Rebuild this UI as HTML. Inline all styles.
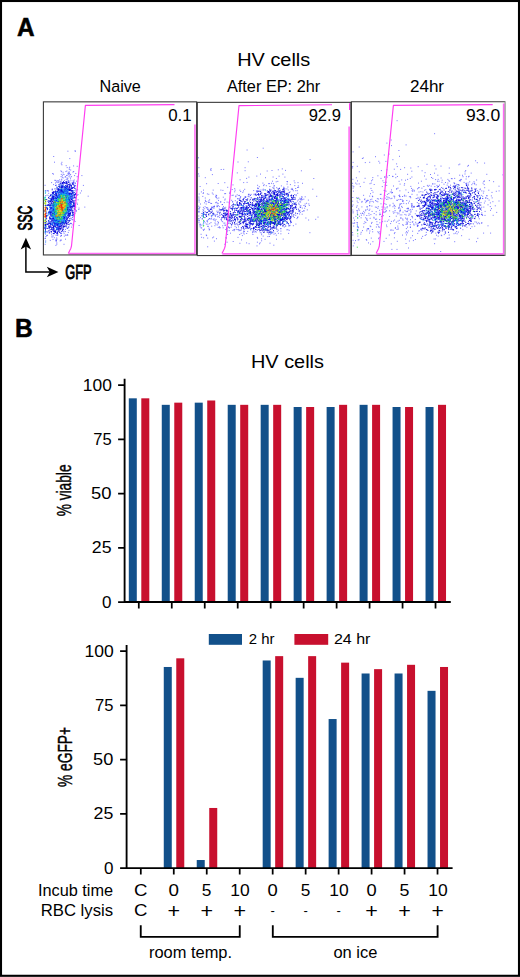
<!DOCTYPE html>
<html lang="en"><head><meta charset="utf-8"><title>Figure</title>
<style>
html,body{margin:0;padding:0;background:#fff;}
body{width:520px;height:977px;overflow:hidden;}
svg{display:block;font-family:"Liberation Sans", sans-serif;fill:#000;}
</style></head><body>
<svg width="520" height="977" viewBox="0 0 520 977">
<rect x="0" y="0" width="520" height="977" fill="#fff"/>
<rect x="1" y="1" width="518" height="974.8" fill="none" stroke="#000" stroke-width="2.1"/>

<text id="A" x="16.98" y="35.80" font-size="25.60" textLength="17.56" lengthAdjust="spacingAndGlyphs" font-weight="bold" stroke="#000" stroke-width="0.55">A</text>
<text id="B" x="15.04" y="337.20" font-size="25.60" textLength="17.75" lengthAdjust="spacingAndGlyphs" font-weight="bold" stroke="#000" stroke-width="0.55">B</text>
<text id="HVa" x="237.23" y="65.75" font-size="19.20" textLength="73.01" lengthAdjust="spacingAndGlyphs">HV cells</text>
<text id="Naive" x="99.45" y="91.75" font-size="16.30" textLength="41.41" lengthAdjust="spacingAndGlyphs">Naive</text>
<text id="After" x="226.94" y="91.75" font-size="16.30" textLength="93.31" lengthAdjust="spacingAndGlyphs">After EP: 2hr</text>
<text id="h24" x="409.90" y="91.75" font-size="16.30" textLength="34.17" lengthAdjust="spacingAndGlyphs">24hr</text>
<text id="p1" x="168.18" y="121.25" font-size="15.90" textLength="23.48" lengthAdjust="spacingAndGlyphs">0.1</text>
<text id="p2" x="308.66" y="121.25" font-size="15.90" textLength="32.26" lengthAdjust="spacingAndGlyphs">92.9</text>
<text id="p3" x="466.12" y="121.25" font-size="15.90" textLength="34.10" lengthAdjust="spacingAndGlyphs">93.0</text>
<text id="HVb" x="250.98" y="367.50" font-size="19.20" textLength="73.01" lengthAdjust="spacingAndGlyphs">HV cells</text>
<text id="l2" x="248.75" y="644.40" font-size="15.40" textLength="25.76" lengthAdjust="spacingAndGlyphs">2 hr</text>
<text id="l24" x="333.95" y="644.40" font-size="15.40" textLength="36.46" lengthAdjust="spacingAndGlyphs">24 hr</text>
<text id="incub" x="37.94" y="895.75" font-size="16.30" textLength="75.20" lengthAdjust="spacingAndGlyphs">Incub time</text>
<text id="rbc" x="40.66" y="915.75" font-size="16.30" textLength="72.44" lengthAdjust="spacingAndGlyphs">RBC lysis</text>
<text id="room" x="148.93" y="957.70" font-size="15.80" textLength="83.11" lengthAdjust="spacingAndGlyphs">room temp.</text>
<text id="ice" x="333.41" y="957.70" font-size="15.80" textLength="43.95" lengthAdjust="spacingAndGlyphs">on ice</text>
<g stroke-width="1.0" fill="none"><path d="M66.4 178.0h1.0M55.8 185.1h1.0M62.3 231.2h1.0M55.2 185.5h1.0M68.8 169.6h1.0M75.1 189.2h1.0M51.4 236.1h1.0M66.6 181.3h1.0M63.8 236.1h1.0M75.3 207.1h1.0M63.3 232.0h1.0M74.9 183.0h1.0M65.0 231.6h1.0M47.0 235.3h1.0M69.1 224.0h1.0M48.9 232.1h1.0M63.5 231.2h1.0M71.6 182.7h1.0M45.5 231.6h1.0M72.9 214.8h1.0M70.1 223.3h1.0M48.6 232.9h1.0M75.9 210.7h1.0M55.6 239.4h1.0M46.2 235.6h1.0M55.1 240.8h1.0M59.2 179.8h1.0M55.5 235.2h1.0M48.4 195.8h1.0M60.2 240.1h1.0M49.2 233.2h1.0M56.4 239.1h1.0M45.4 236.5h1.0M60.2 232.4h1.0M73.9 220.7h1.0M69.6 177.2h1.0M63.9 180.4h1.0M74.1 186.2h1.0M72.4 182.5h1.0M75.6 192.8h1.0M74.4 213.4h1.0M72.9 181.7h1.0M75.9 196.4h1.0M70.3 223.5h1.0M72.7 216.8h1.0M67.8 227.8h1.0M66.2 227.1h1.0M45.2 195.6h1.0M56.0 241.1h1.0M69.2 167.2h1.0M72.0 217.5h1.0M65.0 229.4h1.0M74.7 185.9h1.0M53.8 237.7h1.0M74.6 221.5h1.0M77.5 194.6h1.0M61.9 175.7h1.0M77.0 204.3h1.0M74.7 183.6h1.0M66.2 175.6h1.0M44.7 233.2h1.0M60.5 233.6h1.0M55.0 183.0h1.0M73.8 180.0h1.0M53.3 233.7h1.0M76.7 195.2h1.0M55.4 245.4h1.0M69.4 175.1h1.0M70.0 178.8h1.0M72.5 215.5h1.0M51.6 237.2h1.0M67.8 232.4h1.0M67.0 228.3h1.0M74.9 190.9h1.0M51.1 234.2h1.0M78.5 208.1h1.0M67.4 178.2h1.0M56.2 237.9h1.0M74.5 188.4h1.0M68.3 226.9h1.0M58.3 182.3h1.0M71.0 176.7h1.0M66.6 175.3h1.0M60.1 233.3h1.0M77.6 199.8h1.0M72.7 180.7h1.0M46.7 232.3h1.0M49.2 232.3h1.0M60.0 236.2h1.0M71.8 219.8h1.0M58.0 181.0h1.0M76.0 196.6h1.0M67.7 180.4h1.0M55.1 185.4h1.0M47.9 191.1h1.0M73.2 184.3h1.0M56.6 235.2h1.0M66.7 228.5h1.0M73.1 182.7h1.0M74.5 188.4h1.0M72.9 183.0h1.0M64.9 176.6h1.0M53.4 233.4h1.0M62.7 177.9h1.0M78.6 225.5h1.0M57.3 180.8h1.0M61.1 233.4h1.0M67.0 179.2h1.0M64.7 177.2h1.0M69.1 224.8h1.0M49.8 240.4h1.0M66.4 171.0h1.0M55.2 180.4h1.0M60.8 174.4h1.0M77.1 189.7h1.0M56.3 242.9h1.0M76.1 195.2h1.0M70.4 180.8h1.0M76.2 181.2h1.0M61.4 164.8h1.0M81.0 190.9h1.0M73.4 215.9h1.0M55.9 182.1h1.0M60.6 176.6h1.0M53.1 184.6h1.0M61.2 180.1h1.0M76.5 203.1h1.0M47.4 190.6h1.0M63.5 244.3h1.0M65.2 235.1h1.0M68.2 227.0h1.0M63.6 233.7h1.0M74.6 150.7h1.0M68.5 172.8h1.0M72.5 172.1h1.0M87.7 196.2h1.0M48.2 193.3h1.0M75.2 210.1h1.0M45.2 240.9h1.0M67.1 234.7h1.0M56.4 181.1h1.0M62.6 174.1h1.0M76.1 190.1h1.0M68.4 180.8h1.0M53.2 156.5h1.0M65.4 171.6h1.0M73.5 219.3h1.0M69.0 173.7h1.0M53.0 174.1h1.0M52.7 236.0h1.0M65.7 235.2h1.0M44.9 231.9h1.0M59.5 181.3h1.0M81.4 175.6h1.0M73.1 165.9h1.0M73.8 182.1h1.0M52.1 173.6h1.0M73.2 171.5h1.0M65.7 179.6h1.0M61.4 162.3h1.0M52.5 239.4h1.0M46.6 231.6h1.0M67.4 151.2h1.0M67.4 173.3h1.0M69.3 158.6h1.0M84.3 207.1h1.0M65.0 239.2h1.0M52.0 189.2h1.0M61.1 171.7h1.0M68.5 230.4h1.0M75.1 185.6h1.0M44.6 238.6h1.0M76.7 166.3h1.0M57.3 182.6h1.0M46.7 190.8h1.0M59.7 240.9h1.0M51.7 190.0h1.0M66.7 167.6h1.0M70.1 174.4h1.0M78.3 209.5h1.0M70.2 170.0h1.0M68.5 176.3h1.0M68.8 168.1h1.0M68.1 173.2h1.0M51.6 189.2h1.0M67.8 174.6h1.0M60.8 163.8h1.0M45.2 190.6h1.0M68.6 171.8h1.0M79.9 193.0h1.0M67.2 235.3h1.0M71.6 219.4h1.0M71.1 223.4h1.0M54.0 162.2h1.0M60.8 235.8h1.0M56.3 244.2h1.0M82.9 185.4h1.0M54.3 180.3h1.0M60.8 240.1h1.0M57.4 234.9h1.0M71.1 227.1h1.0M74.1 175.6h1.0M51.1 182.6h1.0M75.6 211.6h1.0M46.7 195.2h1.0M63.5 174.6h1.0M60.4 170.9h1.0M55.9 240.5h1.0M74.8 151.4h1.0M71.7 224.9h1.0M62.6 172.3h1.0M44.7 244.3h1.0M75.3 173.5h1.0M61.8 177.3h1.0M76.7 176.7h1.0M56.9 235.0h1.0M65.7 165.7h1.0M61.2 179.2h1.0M61.0 235.4h1.0M44.6 232.4h1.0M44.9 238.2h1.0M44.6 185.3h1.0" stroke="#2020ff" stroke-opacity="0.6"/><path d="M57.1 200.8h1.0M67.6 210.2h1.0M64.5 208.2h1.0M62.9 191.5h1.0M60.4 183.9h1.0M65.7 186.1h1.0M66.4 193.5h1.0M63.4 189.3h1.0M53.0 218.4h1.0M65.5 208.5h1.0M48.2 220.6h1.0M73.4 203.2h1.0M52.0 214.4h1.0M65.0 206.4h1.0M64.5 207.8h1.0M52.5 222.9h1.0M63.8 219.5h1.0M61.0 191.2h1.0M60.2 222.9h1.0M69.6 207.0h1.0M60.6 202.2h1.0M67.4 205.2h1.0M66.9 193.3h1.0M57.1 202.7h1.0M72.0 212.8h1.0M61.2 216.3h1.0M50.7 203.1h1.0M72.3 184.5h1.0M70.6 188.8h1.0M64.2 223.9h1.0M56.2 204.2h1.0M54.3 219.2h1.0M56.2 198.4h1.0M61.2 190.6h1.0M51.8 225.3h1.0M66.1 196.0h1.0M48.5 221.3h1.0M70.5 188.6h1.0M65.7 199.6h1.0M58.1 193.0h1.0M57.1 214.2h1.0M70.4 193.2h1.0M62.9 218.4h1.0M69.5 194.6h1.0M63.7 214.5h1.0M55.8 191.9h1.0M52.8 215.3h1.0M55.7 195.4h1.0M68.9 189.5h1.0M60.7 195.2h1.0M59.5 194.8h1.0M61.4 212.1h1.0M46.8 228.5h1.0M57.4 217.5h1.0M67.8 205.9h1.0M49.4 203.9h1.0M52.8 196.6h1.0M59.8 192.7h1.0M60.4 208.0h1.0M68.8 201.4h1.0M62.7 229.4h1.0M45.9 207.8h1.0M54.9 206.8h1.0M60.8 204.2h1.0M58.6 221.6h1.0M68.8 209.8h1.0M58.7 225.6h1.0M64.9 189.0h1.0M68.3 199.1h1.0M66.4 199.6h1.0M54.1 224.4h1.0M63.8 200.9h1.0M55.6 206.0h1.0M69.8 215.8h1.0M65.9 196.1h1.0M51.8 220.7h1.0M65.2 222.2h1.0M62.8 211.3h1.0M53.3 229.5h1.0M55.7 198.7h1.0M61.6 204.0h1.0M68.9 216.1h1.0M68.4 188.9h1.0M59.9 183.2h1.0M52.4 203.2h1.0M70.5 218.2h1.0M64.4 194.1h1.0M57.6 190.5h1.0M57.2 216.3h1.0M62.5 186.5h1.0M67.4 204.8h1.0M68.1 198.1h1.0M49.3 209.9h1.0M54.3 222.2h1.0M52.1 224.6h1.0M51.5 206.8h1.0M70.6 194.9h1.0M54.2 209.7h1.0M58.2 206.1h1.0M57.5 193.8h1.0M65.9 190.1h1.0M55.2 216.4h1.0M58.3 211.6h1.0M53.0 213.3h1.0M66.5 186.8h1.0M49.1 217.8h1.0M60.5 194.0h1.0M54.9 213.0h1.0M54.3 210.9h1.0M55.2 190.9h1.0M52.9 228.2h1.0M49.0 227.7h1.0M60.7 188.2h1.0M69.1 193.4h1.0M63.6 191.1h1.0M45.2 219.0h1.0M53.9 201.9h1.0M71.3 198.5h1.0M53.8 194.7h1.0M60.6 206.4h1.0M67.7 209.0h1.0M63.0 198.7h1.0M58.9 199.4h1.0M55.5 205.2h1.0M58.2 214.2h1.0M58.3 197.8h1.0M58.7 204.0h1.0M65.7 192.1h1.0M62.0 191.3h1.0M50.9 201.0h1.0M56.9 201.8h1.0M50.3 211.3h1.0M60.5 213.1h1.0M61.9 211.3h1.0M61.6 199.7h1.0M60.9 215.4h1.0M65.1 215.4h1.0M70.9 191.2h1.0M48.0 202.0h1.0M51.7 209.5h1.0M61.8 191.8h1.0M69.0 213.3h1.0M55.0 225.5h1.0M55.0 202.8h1.0M53.4 217.7h1.0M64.8 208.0h1.0M64.5 215.8h1.0M57.9 211.6h1.0M69.3 189.7h1.0M64.5 187.6h1.0M62.7 200.6h1.0M44.9 211.9h1.0M67.4 217.9h1.0M58.7 220.9h1.0M68.0 220.8h1.0M68.6 209.4h1.0M65.6 206.4h1.0M49.4 217.1h1.0M65.6 197.6h1.0M55.0 197.7h1.0M56.1 218.9h1.0M52.4 218.6h1.0M66.7 200.5h1.0M54.4 217.0h1.0M55.0 211.4h1.0M58.8 186.5h1.0M54.6 213.9h1.0M60.7 187.7h1.0M57.0 218.2h1.0M69.2 218.8h1.0M55.9 214.4h1.0M70.9 185.4h1.0M68.4 188.8h1.0M65.8 212.1h1.0M54.3 230.1h1.0M62.1 185.6h1.0M62.2 193.0h1.0M50.1 205.3h1.0M66.2 188.3h1.0M60.1 223.6h1.0M70.6 202.0h1.0M60.6 206.8h1.0M62.3 204.3h1.0M62.5 194.6h1.0M52.8 233.4h1.0M52.6 213.9h1.0M57.8 207.6h1.0M45.6 221.5h1.0M60.3 199.1h1.0M47.9 221.0h1.0M65.8 200.7h1.0M53.0 193.8h1.0M54.2 201.0h1.0M64.9 200.7h1.0M68.1 213.5h1.0M53.4 202.9h1.0M58.5 197.5h1.0M67.1 194.3h1.0M52.6 197.1h1.0M58.9 222.2h1.0M73.9 194.5h1.0M54.1 206.8h1.0M65.0 187.6h1.0M57.3 205.4h1.0M66.0 208.6h1.0M62.3 201.9h1.0M59.0 194.9h1.0M51.4 198.9h1.0M63.5 190.4h1.0M64.3 186.6h1.0M61.1 217.4h1.0M56.4 205.2h1.0M57.1 224.3h1.0M54.4 220.0h1.0M74.3 209.5h1.0M54.2 220.5h1.0M65.1 187.2h1.0M58.1 223.0h1.0M52.3 215.1h1.0M68.9 220.6h1.0M69.6 212.0h1.0M63.2 213.9h1.0M53.0 213.4h1.0M52.9 230.2h1.0M59.0 216.1h1.0M68.6 211.0h1.0M70.7 194.1h1.0M63.7 211.8h1.0M51.4 198.3h1.0M61.5 218.8h1.0M55.0 218.6h1.0M49.6 218.9h1.0M53.5 220.1h1.0M71.1 196.9h1.0M54.3 204.4h1.0M54.6 220.4h1.0M64.8 200.7h1.0M68.0 204.3h1.0M59.9 222.1h1.0M56.4 216.2h1.0M62.2 183.7h1.0M62.7 216.3h1.0M58.0 215.8h1.0M66.4 208.2h1.0M69.3 197.2h1.0M55.6 194.7h1.0M63.5 208.0h1.0M57.4 219.5h1.0M60.8 204.5h1.0M54.9 211.5h1.0M61.7 212.2h1.0M72.8 205.8h1.0M68.9 214.4h1.0M52.3 201.5h1.0M49.9 201.5h1.0M52.4 208.4h1.0M61.0 185.9h1.0M62.5 182.8h1.0M50.0 224.0h1.0M51.5 212.8h1.0M58.1 210.4h1.0M56.0 227.8h1.0M55.3 207.4h1.0M44.6 224.3h1.0M57.8 202.3h1.0M54.5 202.4h1.0M73.2 212.6h1.0M61.6 196.9h1.0M53.2 217.7h1.0M56.0 216.8h1.0M51.5 196.1h1.0M55.0 215.1h1.0M69.0 215.8h1.0M50.9 219.1h1.0M45.0 220.6h1.0M45.8 217.2h1.0M57.1 206.4h1.0M61.5 209.3h1.0M73.7 202.9h1.0M58.7 204.3h1.0M58.6 204.2h1.0M56.2 215.4h1.0M56.0 200.6h1.0M66.9 207.0h1.0M63.9 200.0h1.0M69.2 201.1h1.0M52.7 196.1h1.0M66.5 208.7h1.0M51.6 212.8h1.0M72.6 201.5h1.0M57.2 222.5h1.0M62.8 212.5h1.0M55.7 206.7h1.0M61.5 206.9h1.0M64.8 214.1h1.0M61.4 187.4h1.0M62.2 195.4h1.0M44.5 222.6h1.0M57.8 202.0h1.0M51.3 203.7h1.0M56.8 204.5h1.0M63.4 216.2h1.0M67.3 203.3h1.0M62.8 222.6h1.0M55.4 223.1h1.0M65.7 206.8h1.0M66.4 192.2h1.0M61.9 186.3h1.0M57.1 218.7h1.0M67.9 217.1h1.0M53.1 204.8h1.0M56.0 195.5h1.0M71.6 195.8h1.0M58.5 202.4h1.0M64.9 216.6h1.0M63.0 223.1h1.0M59.7 224.0h1.0M65.2 189.9h1.0M55.9 217.3h1.0M71.4 199.2h1.0M59.7 215.4h1.0M65.1 196.6h1.0M54.3 220.3h1.0M75.2 197.7h1.0M55.9 200.5h1.0M62.2 210.9h1.0M67.3 200.7h1.0M70.4 201.5h1.0M63.1 217.1h1.0M58.3 222.4h1.0M58.3 224.1h1.0M65.2 221.9h1.0M52.5 207.1h1.0M57.2 191.9h1.0M51.1 224.3h1.0M60.3 228.6h1.0M46.5 223.2h1.0M55.2 209.1h1.0M64.6 210.9h1.0M71.9 191.1h1.0M66.1 201.6h1.0M46.7 205.6h1.0M64.5 199.2h1.0M57.1 225.7h1.0M52.6 208.3h1.0M65.5 226.6h1.0M70.8 190.4h1.0M59.4 222.7h1.0M63.8 193.1h1.0M61.4 212.8h1.0M56.6 196.9h1.0M58.5 190.7h1.0M52.7 199.1h1.0M56.7 189.6h1.0M62.3 210.2h1.0M46.3 228.1h1.0M67.8 201.1h1.0M53.3 226.5h1.0M57.8 192.3h1.0M60.2 190.4h1.0M49.6 211.3h1.0M51.5 197.7h1.0M65.7 205.4h1.0M45.2 222.2h1.0M58.3 218.9h1.0M67.9 195.2h1.0M50.0 195.5h1.0M50.0 226.8h1.0M64.2 226.7h1.0M55.5 225.2h1.0M55.3 207.0h1.0M61.2 231.5h1.0M67.3 208.8h1.0M61.6 198.1h1.0M51.3 216.0h1.0M54.8 202.3h1.0M57.8 195.5h1.0M72.5 195.6h1.0M66.9 200.4h1.0M61.3 211.2h1.0M55.7 213.5h1.0M56.3 204.4h1.0M61.3 190.1h1.0M67.8 197.9h1.0M59.6 228.2h1.0M73.7 192.5h1.0M62.0 205.2h1.0M57.2 221.3h1.0M49.9 207.5h1.0M71.9 195.2h1.0M59.3 202.7h1.0M65.3 197.6h1.0M66.5 207.9h1.0M58.9 196.4h1.0M66.1 203.8h1.0M73.5 196.1h1.0M68.5 216.0h1.0M65.9 218.9h1.0M65.4 205.8h1.0M65.8 223.5h1.0M54.8 210.9h1.0M51.7 210.6h1.0M56.4 215.4h1.0M64.0 207.3h1.0M50.4 209.7h1.0M72.4 187.5h1.0M49.8 221.7h1.0M68.1 211.7h1.0M62.1 194.3h1.0M49.5 223.8h1.0M72.2 197.3h1.0M68.7 211.3h1.0M57.6 218.5h1.0M60.0 207.9h1.0M73.2 203.8h1.0M66.3 203.1h1.0M59.5 185.8h1.0M66.1 213.8h1.0M57.1 233.5h1.0M66.0 204.5h1.0M54.8 210.9h1.0M66.6 184.2h1.0M64.5 187.7h1.0M63.8 192.9h1.0M52.6 221.7h1.0M68.3 203.2h1.0M60.5 202.5h1.0M59.2 196.2h1.0M55.0 209.6h1.0M64.0 199.2h1.0M56.9 227.1h1.0M65.4 197.2h1.0M67.5 206.8h1.0M59.9 194.3h1.0M73.9 204.9h1.0M55.1 231.3h1.0M57.4 224.4h1.0M51.2 212.2h1.0M50.3 201.4h1.0M60.2 191.6h1.0M63.3 197.9h1.0M51.3 219.3h1.0M60.1 226.2h1.0M56.6 188.1h1.0M62.9 192.2h1.0M49.3 205.4h1.0M51.7 211.0h1.0M60.8 199.3h1.0M64.1 196.0h1.0M66.2 197.7h1.0M58.3 200.8h1.0M56.9 224.2h1.0M68.6 193.5h1.0M67.6 182.2h1.0M48.1 204.9h1.0M55.1 214.1h1.0M74.6 203.9h1.0M59.9 197.0h1.0M56.4 202.8h1.0M65.9 223.7h1.0M54.1 196.8h1.0M62.7 222.6h1.0M64.1 218.6h1.0M58.0 189.6h1.0M54.0 217.7h1.0M53.6 233.6h1.0M67.1 201.4h1.0M57.3 228.8h1.0M66.8 194.2h1.0M53.6 222.4h1.0M68.7 200.2h1.0M54.6 207.4h1.0M58.1 202.0h1.0M68.1 190.3h1.0M60.2 218.4h1.0M54.5 218.4h1.0M53.0 192.1h1.0M53.6 218.1h1.0M54.5 201.9h1.0M59.2 190.6h1.0M59.2 192.4h1.0M65.0 198.1h1.0M67.5 211.9h1.0M69.1 200.8h1.0M56.1 229.6h1.0M72.2 212.2h1.0M52.2 214.1h1.0M63.4 222.2h1.0M59.4 200.0h1.0M60.3 209.5h1.0M65.3 183.6h1.0M60.7 202.5h1.0M53.4 209.1h1.0M55.8 198.0h1.0M64.3 196.6h1.0M62.7 221.2h1.0M54.1 224.8h1.0M69.7 196.7h1.0M65.6 212.7h1.0M67.0 209.5h1.0M61.2 210.5h1.0M54.8 218.0h1.0M54.5 227.1h1.0M57.0 218.6h1.0M72.3 207.8h1.0M54.7 232.4h1.0M51.2 227.0h1.0M49.5 200.9h1.0M61.6 215.1h1.0M55.3 200.5h1.0M57.3 224.8h1.0M64.8 221.2h1.0M59.9 205.3h1.0M55.0 210.0h1.0M73.3 203.6h1.0M58.7 223.3h1.0M72.4 210.2h1.0M56.0 223.5h1.0M49.2 230.1h1.0M53.2 213.9h1.0M53.0 227.7h1.0M65.8 208.2h1.0M50.8 220.1h1.0M54.7 201.4h1.0M58.2 202.0h1.0M67.0 215.8h1.0M66.6 185.3h1.0M59.6 208.4h1.0M69.1 190.7h1.0M59.0 210.6h1.0M63.1 227.3h1.0M57.1 197.3h1.0M60.3 199.5h1.0M58.7 191.1h1.0M54.2 216.9h1.0M56.3 216.3h1.0M58.4 228.4h1.0M61.9 230.4h1.0M66.4 193.3h1.0M49.5 205.4h1.0M63.6 200.0h1.0M60.4 191.9h1.0M55.4 215.7h1.0M66.8 199.5h1.0M65.8 189.0h1.0M62.2 224.1h1.0M50.8 207.5h1.0M69.4 197.1h1.0M56.6 227.5h1.0M53.5 220.8h1.0M64.6 220.2h1.0M57.8 208.5h1.0M54.5 231.8h1.0M60.3 194.5h1.0M62.1 218.5h1.0M61.6 214.3h1.0M55.8 224.1h1.0M49.6 227.2h1.0M54.4 202.5h1.0M52.5 223.0h1.0M57.0 197.3h1.0M51.5 205.5h1.0M75.2 194.6h1.0M73.4 194.6h1.0M50.2 225.8h1.0M70.1 214.4h1.0M52.7 228.8h1.0M60.1 220.1h1.0M62.2 204.2h1.0M55.9 206.4h1.0M49.5 219.2h1.0M61.9 222.3h1.0M59.8 216.4h1.0M54.6 218.0h1.0M51.8 207.8h1.0M59.1 216.4h1.0M68.3 204.5h1.0M44.5 211.1h1.0M53.1 205.7h1.0M62.9 201.7h1.0M65.4 216.8h1.0M60.7 221.8h1.0M60.3 195.7h1.0M50.2 218.6h1.0M44.9 225.0h1.0M55.2 221.7h1.0M56.7 202.8h1.0M65.0 185.6h1.0M65.7 200.4h1.0M73.2 192.9h1.0M59.0 198.2h1.0M64.1 191.0h1.0M64.6 197.6h1.0M57.9 229.7h1.0M56.7 188.8h1.0M54.4 214.6h1.0M67.8 210.7h1.0M68.1 199.6h1.0M58.3 194.1h1.0M58.1 189.5h1.0M69.1 197.6h1.0M73.2 202.6h1.0M69.1 186.4h1.0M47.9 212.3h1.0M64.9 191.3h1.0M60.4 197.3h1.0M53.4 217.3h1.0M51.2 203.1h1.0M59.4 198.4h1.0M48.2 227.2h1.0M60.1 194.3h1.0M67.8 224.4h1.0M55.9 210.2h1.0M71.4 199.3h1.0M56.5 223.8h1.0M50.1 223.6h1.0M54.9 220.4h1.0M56.3 203.5h1.0M61.2 187.9h1.0M56.3 202.2h1.0M57.9 204.5h1.0M66.1 204.1h1.0M64.4 187.6h1.0M59.1 216.7h1.0M71.7 196.2h1.0M54.5 218.0h1.0M55.9 220.0h1.0M61.5 197.8h1.0M64.4 199.1h1.0M50.6 205.7h1.0M65.9 212.0h1.0M60.7 205.2h1.0M70.1 198.8h1.0M59.3 217.3h1.0M53.8 226.0h1.0M69.4 206.4h1.0M74.4 206.5h1.0M67.4 192.9h1.0M57.2 191.9h1.0M54.3 201.5h1.0M63.8 219.5h1.0M58.2 199.4h1.0M66.5 207.0h1.0M61.8 215.4h1.0M50.4 222.4h1.0M62.2 227.9h1.0M52.0 214.2h1.0M59.2 217.6h1.0M66.5 203.7h1.0M54.3 200.8h1.0M61.4 187.2h1.0M58.2 200.4h1.0M68.6 195.2h1.0M63.6 205.4h1.0M59.1 214.2h1.0M56.6 200.6h1.0M57.6 203.4h1.0M63.6 204.6h1.0M46.1 207.9h1.0M56.7 207.8h1.0M62.2 198.3h1.0M53.9 204.8h1.0M57.9 231.0h1.0M66.1 212.4h1.0M66.1 221.7h1.0M56.6 219.7h1.0M60.8 211.2h1.0M52.4 195.4h1.0M52.4 196.7h1.0M70.0 189.5h1.0M58.4 217.5h1.0M53.9 217.1h1.0M62.8 198.7h1.0M60.2 189.4h1.0M49.6 209.0h1.0M56.0 214.8h1.0M59.5 221.0h1.0M64.4 215.0h1.0M59.6 218.9h1.0M58.5 217.7h1.0M56.5 221.7h1.0M56.8 203.9h1.0M56.4 232.2h1.0M68.9 190.5h1.0M72.2 205.9h1.0M52.5 192.1h1.0M51.0 199.5h1.0M68.1 214.9h1.0M73.3 187.5h1.0M75.0 204.6h1.0M59.9 220.9h1.0M53.1 198.9h1.0M52.2 230.1h1.0M58.9 187.7h1.0M66.4 210.0h1.0M65.0 202.8h1.0M53.1 212.7h1.0M53.7 205.6h1.0M56.4 207.7h1.0M57.8 215.4h1.0M68.3 199.7h1.0M55.4 220.3h1.0M62.5 204.2h1.0M69.3 208.0h1.0M54.5 224.2h1.0M55.2 225.8h1.0M72.5 214.5h1.0M46.2 199.5h1.0M63.3 218.1h1.0M54.9 226.7h1.0M53.8 217.1h1.0M52.5 209.9h1.0M73.8 197.5h1.0M62.1 215.4h1.0M63.2 193.0h1.0M64.5 210.3h1.0M63.2 220.6h1.0M56.4 210.8h1.0M60.0 212.3h1.0M51.5 215.1h1.0M65.5 212.4h1.0M56.9 191.5h1.0M57.0 232.6h1.0M67.9 198.8h1.0M55.8 195.6h1.0M56.3 228.6h1.0M71.1 202.0h1.0M61.3 215.8h1.0M65.0 213.4h1.0M67.4 195.0h1.0M50.8 231.6h1.0M68.8 189.8h1.0M60.4 192.7h1.0M60.4 196.3h1.0M61.0 194.0h1.0M56.3 203.6h1.0M58.4 189.2h1.0M59.6 212.8h1.0M62.8 220.8h1.0M55.7 220.8h1.0M66.7 194.8h1.0M62.9 185.0h1.0M65.7 196.1h1.0M58.0 200.5h1.0M54.1 211.3h1.0M51.4 228.3h1.0M48.5 228.5h1.0M51.9 213.3h1.0M52.7 219.8h1.0M49.4 211.5h1.0M58.4 226.8h1.0M53.9 224.8h1.0M69.8 202.9h1.0M59.5 212.8h1.0M54.7 198.2h1.0M62.2 193.4h1.0M65.2 182.1h1.0M55.2 202.5h1.0M57.0 207.8h1.0M64.4 195.9h1.0M51.0 227.9h1.0M64.1 222.9h1.0M51.5 223.3h1.0M54.7 230.6h1.0M68.1 207.4h1.0M57.7 197.7h1.0M61.8 217.6h1.0M51.6 218.3h1.0M59.7 220.6h1.0M48.4 225.7h1.0M62.4 188.3h1.0M53.9 218.2h1.0M49.6 223.5h1.0M63.4 195.7h1.0M61.8 195.5h1.0M62.5 187.6h1.0M58.1 201.4h1.0M53.7 219.5h1.0M50.3 204.4h1.0M69.0 193.9h1.0M57.2 223.7h1.0M56.1 215.6h1.0M58.6 202.3h1.0M60.6 214.3h1.0M72.5 200.6h1.0M60.0 210.4h1.0M61.2 225.9h1.0M63.9 207.3h1.0M61.0 194.3h1.0M70.7 186.9h1.0M68.0 217.2h1.0M64.2 212.9h1.0M60.8 206.3h1.0M58.6 200.6h1.0M49.4 213.4h1.0M71.0 202.8h1.0M49.9 212.8h1.0M64.2 226.3h1.0M56.6 217.6h1.0M53.2 207.3h1.0M58.7 221.3h1.0M65.6 190.2h1.0M63.8 215.5h1.0M58.9 210.0h1.0M60.9 225.6h1.0M60.0 196.9h1.0M57.9 223.6h1.0M52.1 199.2h1.0M51.6 215.5h1.0M52.0 205.1h1.0M53.4 204.2h1.0M71.5 210.4h1.0M63.3 220.2h1.0M70.6 194.3h1.0M64.1 214.8h1.0M52.7 210.9h1.0M74.2 196.9h1.0M67.6 189.6h1.0M66.2 183.1h1.0M57.1 196.2h1.0M62.0 201.1h1.0M73.0 205.1h1.0M63.0 211.5h1.0M53.4 217.7h1.0M61.4 193.6h1.0M58.1 218.3h1.0M50.5 215.6h1.0M70.1 190.7h1.0M69.6 204.5h1.0M64.7 208.4h1.0M48.5 226.5h1.0M59.8 214.1h1.0M57.1 207.0h1.0M62.3 199.7h1.0M54.9 225.2h1.0M71.2 193.4h1.0M71.3 211.1h1.0M68.6 182.1h1.0M72.9 206.4h1.0M59.4 213.7h1.0M59.2 221.6h1.0M60.6 224.2h1.0M60.8 195.1h1.0M56.4 210.3h1.0M57.1 201.7h1.0M53.5 231.0h1.0M56.5 212.4h1.0M70.3 212.5h1.0M75.4 194.7h1.0M54.5 206.8h1.0M57.0 220.0h1.0M58.1 189.9h1.0M60.0 224.0h1.0M54.8 232.5h1.0M56.0 198.6h1.0M71.3 196.9h1.0M62.6 198.7h1.0M56.6 217.2h1.0M60.5 190.2h1.0M62.3 209.2h1.0M59.2 219.3h1.0M68.1 197.3h1.0M67.6 215.0h1.0M65.1 209.5h1.0M61.6 224.1h1.0M72.7 205.0h1.0M60.7 203.9h1.0M59.5 212.3h1.0M58.4 227.4h1.0M65.0 191.2h1.0M68.6 199.3h1.0M69.6 209.7h1.0M63.5 216.4h1.0M65.7 200.2h1.0M58.0 203.5h1.0M71.8 192.8h1.0M69.3 199.0h1.0M60.8 215.2h1.0M58.7 226.6h1.0M68.9 213.9h1.0M61.9 197.2h1.0M64.9 195.7h1.0M55.3 208.0h1.0M52.9 220.9h1.0M59.2 191.9h1.0M58.0 221.1h1.0M61.3 192.9h1.0M67.3 187.5h1.0M54.4 211.3h1.0M62.3 222.3h1.0M68.6 204.1h1.0M69.8 206.1h1.0M56.8 212.3h1.0M54.1 215.4h1.0M56.3 194.6h1.0M53.8 223.2h1.0M69.7 201.2h1.0M63.5 186.8h1.0M58.9 214.5h1.0M48.5 223.1h1.0M56.0 222.5h1.0M63.8 223.2h1.0M54.5 209.0h1.0M57.6 224.6h1.0M63.5 183.4h1.0M70.3 205.5h1.0M59.2 195.2h1.0M65.0 203.4h1.0M45.7 224.5h1.0M66.6 207.1h1.0M55.7 205.4h1.0M65.6 195.8h1.0M55.3 226.8h1.0M66.7 207.9h1.0M47.9 230.9h1.0M65.6 207.7h1.0M72.1 215.6h1.0M59.0 215.1h1.0M62.3 221.9h1.0M61.1 212.6h1.0M56.2 207.4h1.0M64.2 203.7h1.0M68.2 206.8h1.0M67.7 197.1h1.0M66.0 200.2h1.0M69.2 185.0h1.0M72.1 192.3h1.0M62.1 183.5h1.0M53.2 198.6h1.0M62.0 203.4h1.0M56.9 208.8h1.0M71.0 201.1h1.0M59.7 193.4h1.0M45.1 226.2h1.0M61.2 193.7h1.0M67.9 214.9h1.0M55.6 194.6h1.0M50.3 200.3h1.0M54.9 223.7h1.0M56.8 220.2h1.0M63.4 226.5h1.0M63.0 181.7h1.0M53.0 227.2h1.0M60.7 206.1h1.0M62.0 197.8h1.0M68.1 207.9h1.0M59.8 220.7h1.0M61.9 230.0h1.0M60.6 218.3h1.0M68.7 187.1h1.0M62.4 217.5h1.0M70.5 194.4h1.0M55.2 211.0h1.0M51.9 197.6h1.0M54.4 194.3h1.0M59.7 212.6h1.0M59.6 218.5h1.0M54.6 209.6h1.0M53.2 226.5h1.0M50.2 200.1h1.0M69.5 183.3h1.0M57.0 201.8h1.0M50.3 213.9h1.0M72.0 206.9h1.0M61.0 188.0h1.0M71.8 190.7h1.0M57.6 195.7h1.0M64.4 198.0h1.0M53.2 192.4h1.0M59.4 203.9h1.0M66.8 200.7h1.0M55.0 207.8h1.0M63.3 192.6h1.0M57.8 221.5h1.0M55.3 223.9h1.0M70.2 203.1h1.0M62.0 198.3h1.0M66.7 183.2h1.0M52.8 206.9h1.0M57.4 213.1h1.0M53.3 204.9h1.0M68.4 199.1h1.0M55.9 207.8h1.0M59.1 231.0h1.0M50.1 218.3h1.0M70.1 196.6h1.0M60.1 204.9h1.0M53.1 209.4h1.0M58.3 216.3h1.0M55.7 211.9h1.0M60.5 218.7h1.0M44.5 210.6h1.0M62.6 190.8h1.0M66.0 217.2h1.0M58.1 199.0h1.0M54.2 231.2h1.0M47.7 224.6h1.0M53.9 223.9h1.0M68.7 190.3h1.0M68.7 221.3h1.0M58.7 228.2h1.0M48.4 200.5h1.0M61.7 192.6h1.0M66.0 208.3h1.0M60.3 196.7h1.0M65.3 210.0h1.0M52.1 219.1h1.0M67.0 220.2h1.0M62.6 216.5h1.0M60.2 196.0h1.0M66.7 217.2h1.0M57.6 219.0h1.0M55.5 205.2h1.0M51.8 218.4h1.0M49.7 214.7h1.0M50.3 198.5h1.0M67.5 195.7h1.0M58.2 196.9h1.0M45.0 231.3h1.0M63.5 217.4h1.0M56.4 213.2h1.0M65.5 213.6h1.0M65.5 197.4h1.0M52.8 208.0h1.0M60.7 228.8h1.0M51.8 215.4h1.0M56.3 201.1h1.0M57.5 222.5h1.0M66.2 199.9h1.0M53.8 198.9h1.0M55.1 213.5h1.0M62.3 222.8h1.0M61.8 200.7h1.0M73.9 195.4h1.0M51.1 200.7h1.0M56.2 225.1h1.0M71.8 191.0h1.0M60.1 200.8h1.0M59.9 228.6h1.0M52.2 200.8h1.0M63.1 210.2h1.0M56.9 196.6h1.0M53.6 218.1h1.0M62.9 211.0h1.0M54.8 232.0h1.0M55.6 216.9h1.0M67.1 209.0h1.0M52.5 216.6h1.0M61.4 185.7h1.0M59.2 186.4h1.0M56.0 220.1h1.0M66.1 211.8h1.0M58.4 223.2h1.0M61.4 190.0h1.0M61.4 203.1h1.0M65.0 220.7h1.0M58.2 210.7h1.0M71.1 204.2h1.0M68.8 215.9h1.0M67.0 210.3h1.0M48.6 226.7h1.0M50.1 224.6h1.0M66.0 206.1h1.0M68.2 189.3h1.0M64.6 205.4h1.0M60.5 198.9h1.0M51.4 220.7h1.0M68.9 187.6h1.0M62.8 226.5h1.0M49.4 218.4h1.0M50.8 215.9h1.0M54.3 195.0h1.0M54.1 231.6h1.0M46.2 216.4h1.0M72.3 211.2h1.0M54.3 213.9h1.0M68.2 210.4h1.0M57.1 215.4h1.0M53.5 214.7h1.0M61.5 183.0h1.0M52.1 216.4h1.0M58.3 205.5h1.0M60.9 227.7h1.0M53.8 204.3h1.0M67.9 200.6h1.0M61.2 215.7h1.0M68.0 203.7h1.0M57.1 204.4h1.0M68.0 193.2h1.0M64.7 221.3h1.0M65.1 196.0h1.0M63.9 217.7h1.0M70.7 198.2h1.0M53.7 203.3h1.0M61.9 203.9h1.0M61.3 197.1h1.0M58.1 186.3h1.0M64.3 213.0h1.0M59.1 223.1h1.0M55.5 205.7h1.0M61.5 196.0h1.0M61.4 211.4h1.0M57.2 199.7h1.0M65.3 194.5h1.0M59.7 229.4h1.0M61.8 215.6h1.0M65.4 210.2h1.0M63.2 212.3h1.0M73.8 186.3h1.0M54.7 209.2h1.0M64.7 220.5h1.0M69.1 184.8h1.0M49.4 217.0h1.0M67.9 222.6h1.0M60.6 216.4h1.0M48.6 223.2h1.0M62.6 193.9h1.0M71.0 206.5h1.0M59.8 226.0h1.0M65.3 204.0h1.0M52.5 215.1h1.0M52.4 220.1h1.0M54.3 212.8h1.0M59.8 218.6h1.0M74.9 193.6h1.0M56.5 228.9h1.0M56.6 217.1h1.0M68.3 214.0h1.0M67.2 186.4h1.0M64.6 203.4h1.0M65.6 204.0h1.0M53.2 205.9h1.0M64.3 212.3h1.0M68.5 202.9h1.0M64.8 207.8h1.0M55.8 200.2h1.0M58.5 224.9h1.0M64.2 219.2h1.0M67.8 198.4h1.0M54.4 222.8h1.0M58.5 228.8h1.0M72.6 213.8h1.0M68.4 210.8h1.0M68.7 190.1h1.0M56.4 219.1h1.0M53.8 201.1h1.0M58.4 219.0h1.0M69.2 199.1h1.0M58.7 213.9h1.0M64.3 210.2h1.0M63.9 204.7h1.0M48.9 205.8h1.0M69.2 205.2h1.0M60.3 199.8h1.0M52.4 198.0h1.0M71.0 187.9h1.0M48.4 212.6h1.0M59.9 187.1h1.0M59.8 189.4h1.0M50.9 215.5h1.0M54.2 216.2h1.0M62.5 192.0h1.0M69.4 213.4h1.0M52.9 221.8h1.0M57.9 196.0h1.0M62.1 212.7h1.0M61.1 223.1h1.0M58.1 203.7h1.0M53.0 199.2h1.0M53.8 210.9h1.0M63.8 187.0h1.0M62.9 214.3h1.0M65.2 213.0h1.0M66.9 207.2h1.0M55.8 214.5h1.0M70.2 207.7h1.0M54.8 208.5h1.0M67.1 212.7h1.0M50.9 208.5h1.0M55.7 193.4h1.0M66.3 198.7h1.0M58.1 188.6h1.0M71.0 199.3h1.0M71.7 193.5h1.0M55.3 221.7h1.0M74.8 200.3h1.0M59.4 194.5h1.0M49.7 207.0h1.0M55.4 195.5h1.0M63.2 195.6h1.0M65.4 212.1h1.0M64.2 217.8h1.0M54.4 218.8h1.0M70.7 202.1h1.0M59.2 216.1h1.0M62.8 216.7h1.0M64.7 191.1h1.0M65.3 193.6h1.0M70.0 201.2h1.0M54.4 204.7h1.0M63.4 208.1h1.0M57.2 191.3h1.0M61.6 187.0h1.0M68.8 209.3h1.0M66.1 186.3h1.0M62.6 229.0h1.0M51.0 229.3h1.0M66.7 223.3h1.0M69.8 213.4h1.0M73.6 206.0h1.0M56.8 201.0h1.0M65.1 194.7h1.0M50.3 213.0h1.0M54.6 204.7h1.0M54.7 197.8h1.0M63.1 192.8h1.0M64.4 199.1h1.0M58.6 218.6h1.0M44.9 215.7h1.0M71.2 208.9h1.0M65.4 218.8h1.0M52.8 205.7h1.0M53.7 216.5h1.0M70.6 208.3h1.0M74.2 206.1h1.0M54.2 217.1h1.0M53.7 226.0h1.0M65.9 183.3h1.0M62.6 213.8h1.0M68.0 199.4h1.0M52.2 227.5h1.0M50.1 212.9h1.0M70.4 185.4h1.0M67.0 218.7h1.0M52.8 201.8h1.0M72.3 200.9h1.0M71.7 206.4h1.0M61.9 208.2h1.0M55.1 193.3h1.0M73.8 188.1h1.0M59.9 199.6h1.0M73.6 185.4h1.0M55.6 220.7h1.0M63.2 216.4h1.0M70.5 209.8h1.0M64.6 189.0h1.0M52.8 225.8h1.0M73.4 190.7h1.0M52.6 211.3h1.0M64.4 191.3h1.0M56.6 199.7h1.0M55.8 214.7h1.0M58.2 189.7h1.0M69.6 206.4h1.0M54.5 215.6h1.0M55.3 217.9h1.0M61.4 216.6h1.0M63.9 194.6h1.0M62.0 186.7h1.0M53.2 209.1h1.0M61.3 226.2h1.0M57.8 189.7h1.0M64.5 201.0h1.0M62.7 225.8h1.0M65.5 225.4h1.0M74.2 207.1h1.0M67.4 204.7h1.0M61.5 190.7h1.0M56.8 215.7h1.0M68.7 195.3h1.0M62.3 191.7h1.0M54.8 212.2h1.0M55.7 196.7h1.0M69.0 194.9h1.0M53.1 210.3h1.0M61.4 193.7h1.0M52.7 211.4h1.0M50.0 201.7h1.0M51.6 215.4h1.0M67.5 199.3h1.0M61.2 220.9h1.0M71.2 190.3h1.0M59.0 210.0h1.0M61.4 213.8h1.0M59.4 229.9h1.0M62.1 195.9h1.0M63.2 198.9h1.0M72.0 212.9h1.0M72.2 187.7h1.0M65.8 213.6h1.0M64.5 215.1h1.0M56.2 206.4h1.0M44.8 228.0h1.0M71.2 199.2h1.0M60.9 221.8h1.0M52.8 227.7h1.0M56.2 206.6h1.0M52.3 223.2h1.0M56.9 214.8h1.0M57.7 215.6h1.0M73.6 205.3h1.0M60.4 193.7h1.0M61.5 215.5h1.0M49.6 212.4h1.0M60.6 203.0h1.0M64.4 197.8h1.0M58.6 229.0h1.0M57.0 221.0h1.0M62.9 205.2h1.0M45.0 201.4h1.0M65.5 191.5h1.0M55.7 213.7h1.0M69.6 204.9h1.0M71.7 198.5h1.0M59.8 222.3h1.0M68.8 202.6h1.0M58.2 216.0h1.0M62.0 218.2h1.0M65.0 210.9h1.0M58.1 214.3h1.0M69.9 210.5h1.0M57.4 225.9h1.0M69.6 184.8h1.0M59.8 220.2h1.0M71.8 195.1h1.0M68.4 199.7h1.0M61.6 184.0h1.0M64.7 195.7h1.0M65.8 181.6h1.0M53.4 216.2h1.0M52.3 224.9h1.0M55.2 224.9h1.0M70.4 209.3h1.0M49.2 201.6h1.0M69.8 207.2h1.0M56.9 206.3h1.0M61.7 223.0h1.0M63.8 209.1h1.0M57.5 213.5h1.0M56.6 217.4h1.0M53.8 213.1h1.0M61.3 197.9h1.0M66.4 202.6h1.0M65.5 200.0h1.0M57.6 225.5h1.0M66.8 189.4h1.0M55.9 219.0h1.0M61.1 222.9h1.0M69.0 189.6h1.0M47.0 205.2h1.0M51.9 201.6h1.0M50.7 231.3h1.0M56.5 229.9h1.0M66.0 219.3h1.0M65.3 216.6h1.0M70.0 190.1h1.0M54.9 209.4h1.0M65.8 220.7h1.0M67.7 215.2h1.0M45.6 226.1h1.0M55.2 193.6h1.0M71.2 207.4h1.0M50.2 212.6h1.0M69.5 200.1h1.0M45.5 205.4h1.0M51.0 211.3h1.0M58.9 189.4h1.0M73.8 208.6h1.0M50.2 224.2h1.0M72.3 200.3h1.0M50.4 229.5h1.0M56.4 187.1h1.0M68.6 198.0h1.0M51.9 193.2h1.0M44.9 224.5h1.0M49.3 223.1h1.0M51.3 205.0h1.0M59.3 212.1h1.0M69.1 213.6h1.0M49.0 212.1h1.0M63.3 208.6h1.0M64.5 188.3h1.0M45.2 201.1h1.0M47.0 224.5h1.0M66.2 188.4h1.0M69.4 187.3h1.0M68.6 188.1h1.0M45.9 212.1h1.0M69.4 192.8h1.0M62.6 218.7h1.0M50.9 232.0h1.0M70.1 203.2h1.0M66.6 190.4h1.0M55.0 202.8h1.0M49.4 196.6h1.0M58.2 224.5h1.0M66.5 222.2h1.0M63.7 221.9h1.0M53.5 192.1h1.0M68.1 184.5h1.0M46.1 218.6h1.0M68.3 203.5h1.0M44.8 205.4h1.0M65.3 209.5h1.0M53.6 204.1h1.0M53.2 208.8h1.0M61.8 190.3h1.0M57.8 227.1h1.0M54.9 200.8h1.0M52.9 231.3h1.0M54.6 196.9h1.0M64.7 214.0h1.0M64.6 188.3h1.0M44.9 223.2h1.0M61.2 186.6h1.0M68.6 186.2h1.0M51.9 192.5h1.0M61.9 197.3h1.0M66.4 193.3h1.0M65.3 222.3h1.0M62.7 200.1h1.0M66.5 208.3h1.0M54.0 224.3h1.0M61.9 196.1h1.0M70.4 185.1h1.0M48.4 223.0h1.0M49.3 227.5h1.0M74.8 205.2h1.0M70.9 186.3h1.0M67.0 188.9h1.0M70.2 196.9h1.0M45.4 221.4h1.0M45.0 222.5h1.0M63.0 182.4h1.0M72.8 184.0h1.0M48.1 197.5h1.0M58.9 198.3h1.0M68.1 212.4h1.0M57.8 201.5h1.0M65.9 187.9h1.0M59.8 197.5h1.0M60.7 219.6h1.0M45.2 215.1h1.0M53.9 211.4h1.0M62.3 224.9h1.0M54.5 188.9h1.0M44.4 228.6h1.0M57.6 196.3h1.0M57.4 229.2h1.0M59.6 184.0h1.0M66.1 209.0h1.0M52.9 197.1h1.0M68.0 194.1h1.0M45.2 209.3h1.0M69.9 193.5h1.0M60.0 221.8h1.0M56.5 206.0h1.0M66.7 197.3h1.0M72.5 193.0h1.0M55.7 193.2h1.0M54.5 224.7h1.0M55.3 211.7h1.0M50.8 202.8h1.0M46.0 215.6h1.0M56.2 193.8h1.0M67.2 193.2h1.0M44.8 211.8h1.0M62.0 182.6h1.0M65.1 193.5h1.0M56.4 215.3h1.0M66.8 194.9h1.0M73.1 198.1h1.0M47.1 208.7h1.0M53.2 203.0h1.0M58.0 200.6h1.0M71.2 188.2h1.0M66.7 219.0h1.0M65.2 222.9h1.0M62.4 203.4h1.0M45.0 230.2h1.0M47.3 215.3h1.0M75.0 205.5h1.0M59.7 226.2h1.0M57.2 206.6h1.0M59.4 216.5h1.0M64.0 182.5h1.0M55.2 210.2h1.0M62.1 223.7h1.0M66.7 186.8h1.0M67.6 203.6h1.0M60.3 212.8h1.0M58.4 211.7h1.0M55.4 207.6h1.0M66.9 203.4h1.0M58.8 207.1h1.0M68.0 182.2h1.0M46.3 213.7h1.0M50.2 208.5h1.0M47.0 209.6h1.0M51.2 221.4h1.0M68.3 210.3h1.0M67.1 185.3h1.0M52.8 193.3h1.0M44.5 227.4h1.0M60.9 189.7h1.0M55.1 216.3h1.0M62.1 208.0h1.0M54.8 192.5h1.0M60.1 197.0h1.0M66.1 198.7h1.0M62.5 194.7h1.0M51.6 198.9h1.0M67.3 190.1h1.0M66.8 196.9h1.0M50.3 194.7h1.0M58.3 201.0h1.0M68.5 197.8h1.0M60.1 221.3h1.0M64.3 217.5h1.0M59.5 209.9h1.0M58.6 202.8h1.0M61.6 196.8h1.0M68.8 207.3h1.0M57.0 231.9h1.0M53.6 191.6h1.0M63.8 189.7h1.0M59.7 189.8h1.0M55.9 229.5h1.0M51.6 207.5h1.0M49.3 225.9h1.0M71.9 188.5h1.0M65.5 197.4h1.0M59.2 190.8h1.0M69.5 205.3h1.0M54.5 198.8h1.0M58.9 232.4h1.0M71.0 198.7h1.0M51.8 205.2h1.0M58.5 184.6h1.0M65.3 204.9h1.0M48.4 202.6h1.0M69.6 220.4h1.0M52.3 229.4h1.0M50.6 215.9h1.0M59.6 226.9h1.0M66.8 192.1h1.0M52.2 214.1h1.0M59.2 195.0h1.0M65.4 193.3h1.0M63.8 224.9h1.0M66.4 224.6h1.0M58.4 194.4h1.0M52.1 196.4h1.0M48.6 198.5h1.0M44.9 225.9h1.0M70.0 213.5h1.0M74.6 198.0h1.0M67.2 191.6h1.0M52.2 193.3h1.0M64.1 192.1h1.0M58.3 198.4h1.0M65.6 191.1h1.0M50.8 199.6h1.0M44.8 199.7h1.0M74.1 201.0h1.0M51.5 194.6h1.0M60.6 190.3h1.0M66.0 182.6h1.0M64.3 182.9h1.0M56.1 233.3h1.0M65.2 202.8h1.0M69.6 205.9h1.0M63.7 199.7h1.0M45.3 219.8h1.0M57.9 200.7h1.0M51.4 214.5h1.0M60.5 181.9h1.0M56.4 192.0h1.0M54.8 231.6h1.0M60.0 197.5h1.0M72.1 202.3h1.0M67.4 213.6h1.0M47.4 201.2h1.0M53.9 212.6h1.0M65.8 223.6h1.0M49.9 214.1h1.0M59.1 226.7h1.0M58.0 218.9h1.0M58.1 231.0h1.0M71.9 183.5h1.0M53.4 202.9h1.0M63.2 222.2h1.0M48.0 205.2h1.0M70.2 204.4h1.0M48.7 204.1h1.0M60.4 220.9h1.0M53.1 197.3h1.0M70.6 210.0h1.0M55.0 191.4h1.0M47.0 208.4h1.0M61.2 191.9h1.0M65.3 195.3h1.0M45.3 210.3h1.0M62.1 186.6h1.0M47.6 204.8h1.0M57.7 228.7h1.0M64.3 193.9h1.0M56.2 197.0h1.0M52.9 200.4h1.0M47.7 223.6h1.0M54.9 223.8h1.0M45.0 229.3h1.0M44.6 225.8h1.0M45.1 225.2h1.0M44.8 227.9h1.0M44.8 227.0h1.0" stroke="#0404dc" stroke-opacity="0.9"/><path d="M55.6 207.3h1.0M65.3 193.7h1.0M58.6 217.5h1.0M54.2 207.1h1.0M48.2 211.8h1.0M60.3 221.8h1.0M64.4 208.2h1.0M55.2 206.3h1.0M58.6 218.9h1.0M66.5 195.2h1.0M52.3 206.6h1.0M56.8 205.7h1.0M55.8 221.6h1.0M57.7 218.5h1.0M61.4 199.1h1.0M53.7 221.9h1.0M56.6 211.0h1.0M70.2 204.6h1.0M65.2 208.6h1.0M56.3 204.1h1.0M56.6 222.8h1.0M57.9 220.6h1.0M64.9 209.2h1.0M66.9 196.4h1.0M64.3 192.8h1.0M62.4 219.9h1.0M71.3 202.7h1.0M56.2 201.9h1.0M65.6 208.1h1.0M59.2 191.6h1.0M68.4 210.2h1.0M52.7 217.0h1.0M61.0 197.0h1.0M58.8 210.5h1.0M59.7 209.7h1.0M59.1 214.3h1.0M56.0 208.8h1.0M55.4 203.7h1.0M54.4 207.1h1.0M62.7 221.8h1.0M62.3 210.1h1.0M59.4 223.8h1.0M67.2 204.6h1.0M57.9 198.6h1.0M51.7 223.4h1.0M66.4 199.8h1.0M55.3 205.3h1.0M52.9 217.0h1.0M51.9 204.4h1.0M66.5 195.2h1.0M53.0 215.4h1.0M53.4 211.9h1.0M51.7 217.7h1.0M64.2 194.6h1.0M53.9 228.6h1.0M52.2 207.5h1.0M54.6 221.4h1.0M65.3 200.2h1.0M58.3 199.3h1.0M59.8 218.3h1.0M67.2 211.8h1.0M64.7 198.1h1.0M55.1 209.1h1.0M68.6 204.3h1.0M55.0 224.8h1.0M64.7 196.5h1.0M56.6 201.8h1.0M56.9 220.4h1.0M51.8 209.1h1.0M61.5 203.8h1.0M52.1 224.2h1.0M61.8 216.0h1.0M64.8 190.6h1.0M58.0 200.9h1.0M52.2 214.7h1.0M55.7 213.8h1.0M60.5 192.9h1.0M63.3 196.8h1.0M54.6 208.0h1.0M68.3 209.1h1.0M66.9 204.8h1.0M58.1 206.3h1.0M64.7 211.3h1.0M54.8 210.4h1.0M55.5 219.0h1.0M55.3 218.6h1.0M64.4 203.8h1.0M62.0 199.0h1.0M57.8 216.9h1.0M66.4 205.5h1.0M51.2 218.9h1.0M56.4 192.4h1.0M64.0 219.2h1.0M58.3 197.5h1.0M63.1 194.5h1.0M62.4 205.2h1.0M56.3 205.6h1.0M56.5 222.8h1.0M60.7 198.2h1.0M51.5 195.1h1.0M60.8 185.0h1.0M65.5 208.6h1.0M52.1 207.8h1.0M65.2 216.9h1.0M63.3 219.7h1.0M46.8 207.6h1.0M60.7 199.1h1.0M62.1 214.2h1.0M59.8 222.4h1.0M71.1 198.3h1.0M64.5 212.0h1.0M62.0 214.5h1.0M66.2 201.1h1.0M64.1 220.3h1.0M63.9 193.5h1.0M68.9 211.3h1.0M53.1 200.3h1.0M54.8 200.3h1.0M69.6 205.8h1.0M65.1 196.0h1.0M62.2 189.6h1.0M66.7 197.6h1.0M55.5 205.2h1.0M63.4 213.5h1.0M53.0 221.1h1.0M50.6 224.2h1.0M51.1 215.8h1.0M67.6 208.7h1.0M54.7 205.8h1.0M58.7 215.1h1.0M68.1 195.2h1.0M65.7 211.7h1.0M58.4 194.0h1.0M62.6 200.0h1.0M53.5 216.3h1.0M59.6 215.3h1.0M66.4 203.5h1.0M57.5 192.2h1.0M60.0 195.0h1.0M65.1 212.9h1.0M65.2 213.0h1.0M66.8 210.9h1.0M56.1 221.5h1.0M55.7 207.1h1.0M65.8 205.4h1.0M54.7 213.7h1.0M48.3 214.6h1.0M57.3 215.0h1.0M53.3 215.3h1.0M60.7 221.7h1.0M68.8 198.1h1.0M58.2 215.1h1.0M67.6 203.8h1.0M67.0 197.2h1.0M66.6 194.6h1.0M61.7 218.2h1.0M61.2 213.8h1.0M52.4 216.6h1.0M64.1 195.8h1.0M66.8 202.8h1.0M57.7 220.4h1.0M63.2 196.4h1.0M67.9 196.7h1.0M63.9 220.6h1.0M60.3 193.9h1.0M66.2 189.5h1.0M64.5 194.9h1.0M60.9 216.4h1.0M55.2 199.7h1.0M56.4 215.1h1.0M54.2 208.5h1.0M51.4 210.0h1.0M57.5 192.3h1.0M71.0 204.9h1.0M56.9 213.8h1.0M70.1 195.9h1.0M67.3 205.7h1.0M51.7 195.8h1.0M55.2 225.5h1.0M64.0 205.6h1.0M72.3 198.6h1.0M62.4 213.8h1.0M61.4 214.6h1.0M58.3 225.6h1.0M61.7 193.8h1.0M62.8 220.2h1.0M67.8 204.3h1.0M64.8 216.7h1.0M54.2 209.1h1.0M64.6 196.4h1.0M65.4 216.8h1.0M59.6 201.6h1.0M57.9 210.0h1.0M59.6 200.3h1.0M59.0 198.6h1.0M55.1 200.2h1.0M52.2 216.2h1.0M63.8 203.1h1.0M63.2 198.9h1.0M54.9 222.9h1.0M65.6 206.1h1.0M70.2 195.3h1.0M60.5 197.7h1.0M57.4 218.0h1.0M54.3 206.9h1.0M66.5 201.8h1.0M64.6 201.1h1.0M59.7 201.0h1.0M55.1 208.7h1.0M59.6 220.3h1.0M53.7 208.4h1.0M54.3 221.8h1.0M61.7 220.2h1.0M53.9 200.5h1.0M67.0 190.6h1.0M56.9 198.4h1.0M65.6 195.2h1.0M52.1 209.8h1.0M61.4 216.5h1.0M51.4 219.8h1.0M72.9 193.8h1.0M58.6 225.1h1.0M63.0 214.4h1.0M67.4 203.4h1.0M52.5 212.6h1.0M66.1 192.5h1.0M56.9 201.1h1.0M59.3 186.1h1.0M61.8 193.8h1.0M64.0 194.7h1.0M60.4 204.3h1.0M59.1 214.4h1.0M54.6 219.6h1.0M67.7 200.6h1.0M62.7 220.3h1.0M67.6 200.2h1.0M67.9 200.4h1.0M59.1 190.4h1.0M58.6 220.0h1.0M58.4 196.5h1.0M66.5 201.8h1.0M59.9 197.7h1.0M53.9 217.4h1.0M57.3 218.6h1.0M55.1 216.4h1.0M56.5 200.0h1.0M62.2 214.4h1.0M52.5 208.2h1.0M63.0 211.7h1.0M55.5 192.9h1.0M58.6 214.6h1.0M63.8 191.2h1.0M58.6 205.6h1.0M65.9 199.7h1.0M53.8 210.9h1.0M61.3 219.4h1.0M64.1 215.8h1.0M54.5 201.6h1.0M64.6 214.5h1.0M57.9 203.7h1.0M57.9 213.3h1.0M62.7 217.2h1.0M59.1 212.9h1.0M66.2 213.4h1.0M49.2 207.3h1.0M64.1 208.7h1.0M66.0 208.9h1.0M62.3 190.0h1.0M57.8 224.2h1.0M55.3 214.3h1.0M54.0 218.3h1.0M59.7 189.7h1.0M66.5 195.3h1.0M67.2 205.2h1.0M58.1 196.4h1.0M56.4 208.6h1.0M49.8 210.8h1.0M57.4 207.4h1.0M63.8 195.2h1.0M66.9 194.4h1.0M62.6 205.2h1.0M65.7 193.0h1.0M66.3 206.8h1.0M56.4 229.7h1.0M65.5 220.9h1.0M65.4 192.0h1.0M53.4 204.2h1.0M66.5 205.4h1.0M55.1 204.0h1.0M66.0 196.4h1.0M62.3 223.3h1.0M61.6 207.1h1.0M54.5 201.8h1.0M63.5 212.4h1.0M61.0 215.9h1.0M69.2 198.3h1.0M64.5 194.5h1.0M59.3 214.6h1.0M64.4 202.5h1.0M61.3 193.8h1.0M64.1 187.9h1.0M54.7 216.2h1.0M63.5 220.1h1.0M51.4 222.7h1.0M68.9 198.9h1.0M54.1 224.8h1.0M60.1 209.5h1.0M57.7 196.3h1.0M58.5 220.1h1.0M51.9 217.2h1.0M51.7 211.2h1.0M68.4 204.3h1.0M56.5 201.6h1.0M60.6 212.8h1.0M66.5 201.0h1.0M66.6 214.7h1.0M54.6 204.7h1.0M51.7 205.4h1.0M54.7 213.3h1.0M54.0 221.1h1.0M64.9 218.2h1.0M62.3 199.4h1.0M62.1 193.7h1.0M70.2 194.3h1.0M62.3 193.8h1.0M53.5 216.6h1.0M54.3 216.5h1.0M61.3 201.8h1.0M64.6 198.3h1.0M62.2 203.2h1.0M66.5 199.4h1.0M61.1 212.1h1.0M64.0 200.0h1.0M57.0 200.5h1.0M65.8 191.1h1.0M55.7 197.4h1.0M54.7 205.6h1.0M61.0 214.2h1.0M68.3 212.4h1.0M56.8 218.3h1.0M68.6 207.6h1.0M62.9 213.4h1.0M48.4 221.2h1.0M61.3 206.0h1.0M69.3 201.1h1.0M65.7 212.1h1.0M67.7 191.6h1.0M69.0 197.0h1.0M62.5 194.7h1.0M47.0 215.6h1.0M61.4 202.8h1.0M55.7 219.9h1.0M60.4 217.9h1.0M67.2 199.7h1.0M59.7 192.9h1.0M65.4 191.3h1.0M64.2 209.5h1.0M57.1 200.6h1.0M65.4 202.2h1.0M57.4 210.0h1.0M64.7 192.2h1.0M60.9 202.2h1.0M59.0 224.8h1.0M58.6 220.9h1.0M53.7 209.1h1.0M49.7 206.8h1.0M67.7 192.9h1.0M63.6 200.5h1.0M61.4 219.9h1.0M55.9 204.2h1.0M65.3 196.4h1.0M55.5 219.2h1.0M60.9 196.6h1.0M60.5 197.0h1.0M51.5 211.2h1.0M48.2 213.7h1.0M54.6 209.5h1.0M64.8 192.7h1.0M68.2 195.0h1.0M64.7 186.3h1.0M58.2 199.5h1.0M58.7 218.7h1.0M61.6 207.6h1.0M59.6 222.3h1.0M49.3 209.9h1.0M59.0 199.2h1.0M62.6 207.0h1.0M61.9 194.0h1.0M53.4 207.6h1.0M61.1 199.1h1.0M66.2 202.8h1.0M69.1 195.6h1.0M56.7 201.2h1.0M51.5 215.9h1.0M69.6 196.9h1.0M59.7 199.6h1.0M62.5 212.9h1.0M65.7 190.1h1.0M60.5 201.1h1.0M63.5 189.1h1.0M66.3 211.5h1.0M52.8 213.0h1.0M53.0 207.3h1.0M56.4 196.3h1.0M66.8 196.5h1.0M61.7 216.3h1.0M67.1 193.2h1.0M53.8 204.2h1.0M69.1 197.3h1.0M54.6 220.2h1.0M55.6 210.9h1.0M65.8 209.1h1.0M72.7 191.6h1.0M69.9 205.0h1.0M67.0 206.4h1.0M63.7 192.4h1.0M60.9 196.4h1.0M72.1 195.6h1.0M58.8 198.4h1.0M61.7 219.5h1.0M63.7 222.3h1.0M57.4 228.1h1.0M61.3 220.9h1.0M62.2 198.3h1.0M55.7 206.3h1.0M68.5 201.2h1.0M65.8 200.9h1.0M59.0 199.0h1.0M71.5 197.1h1.0M56.1 216.6h1.0M67.8 206.3h1.0M60.5 194.0h1.0M64.3 205.1h1.0M62.0 189.4h1.0M59.6 198.1h1.0M61.8 194.2h1.0M67.3 193.3h1.0M70.2 209.3h1.0M67.9 190.2h1.0M67.2 188.4h1.0M58.4 195.9h1.0M53.5 194.7h1.0M68.8 207.4h1.0M64.2 212.6h1.0M60.8 199.1h1.0M67.0 205.4h1.0M58.7 211.7h1.0M61.3 196.4h1.0M61.0 218.2h1.0M50.5 213.7h1.0M65.6 207.2h1.0M60.0 193.9h1.0M49.4 209.7h1.0M57.0 187.9h1.0M55.3 217.0h1.0M56.3 223.0h1.0M58.8 195.7h1.0M68.4 198.1h1.0M66.4 202.8h1.0M48.5 213.4h1.0M64.7 194.4h1.0M70.8 215.5h1.0M53.9 197.7h1.0M65.1 212.4h1.0M55.9 228.4h1.0M66.5 204.4h1.0M62.2 196.6h1.0M62.7 218.1h1.0M61.9 224.0h1.0M61.8 203.6h1.0M62.5 196.3h1.0M58.1 219.7h1.0M54.1 218.5h1.0M65.1 210.5h1.0M67.2 197.8h1.0M53.3 214.3h1.0M62.4 193.9h1.0M67.9 210.8h1.0M59.4 194.6h1.0M62.2 210.2h1.0M62.3 185.8h1.0M57.8 194.9h1.0M57.6 198.9h1.0M61.7 192.2h1.0M49.9 199.9h1.0M54.2 218.5h1.0M63.0 204.0h1.0M66.1 206.3h1.0M69.1 206.0h1.0M63.0 197.3h1.0M57.0 199.3h1.0M65.3 188.4h1.0M44.6 197.4h1.0M45.1 226.4h1.0M45.1 192.2h1.0M44.8 191.0h1.0M45.1 234.1h1.0M45.0 232.0h1.0M45.1 242.1h1.0" stroke="#1a8cff" stroke-opacity="0.95"/><path d="M61.0 213.6h1.0M59.8 195.1h1.0M63.6 209.2h1.0M59.0 211.3h1.0M55.6 203.5h1.0M60.3 197.1h1.0M62.7 210.6h1.0M63.8 195.6h1.0M55.4 209.2h1.0M57.4 207.6h1.0M67.7 199.1h1.0M62.7 201.1h1.0M58.2 204.2h1.0M61.3 207.3h1.0M61.8 201.1h1.0M59.7 210.8h1.0M63.1 214.9h1.0M60.2 210.5h1.0M56.1 208.5h1.0M53.3 205.1h1.0M66.4 203.4h1.0M60.6 200.6h1.0M59.1 215.3h1.0M59.5 213.4h1.0M60.9 202.7h1.0M54.7 219.1h1.0M65.3 211.5h1.0M53.8 208.0h1.0M60.1 201.1h1.0M62.0 197.6h1.0M65.6 208.3h1.0M64.5 206.7h1.0M59.8 210.2h1.0M60.0 210.2h1.0M59.1 205.1h1.0M54.2 206.7h1.0M60.8 210.4h1.0M54.4 210.1h1.0M63.9 212.1h1.0M63.0 196.2h1.0M59.9 220.1h1.0M56.7 212.4h1.0M57.0 214.0h1.0M54.5 211.8h1.0M61.4 198.5h1.0M62.5 215.0h1.0M66.3 206.5h1.0M60.5 210.8h1.0M57.9 215.3h1.0M58.9 214.8h1.0M62.7 204.9h1.0M57.1 207.6h1.0M55.2 212.7h1.0M54.5 217.3h1.0M63.9 203.0h1.0M55.3 204.3h1.0M65.5 208.6h1.0M60.7 209.3h1.0M56.9 203.5h1.0M54.1 217.4h1.0M55.8 210.6h1.0M67.7 201.0h1.0M52.6 214.5h1.0M57.3 198.9h1.0M58.1 200.7h1.0M63.3 208.6h1.0M57.1 204.1h1.0M57.6 200.5h1.0M64.2 210.7h1.0M65.0 208.0h1.0M56.9 207.1h1.0M64.5 199.3h1.0M62.8 209.3h1.0M55.6 214.1h1.0M62.1 195.5h1.0M61.1 202.7h1.0M59.8 198.7h1.0M59.2 204.5h1.0M63.2 199.7h1.0M63.5 202.0h1.0M55.8 216.9h1.0M59.2 203.0h1.0M61.8 215.1h1.0M62.8 197.4h1.0M61.4 198.3h1.0M55.3 210.4h1.0M55.1 202.0h1.0M61.5 198.9h1.0M63.8 203.9h1.0M56.7 204.3h1.0M56.2 210.5h1.0M65.5 201.8h1.0M60.5 205.9h1.0M63.9 208.3h1.0M65.3 197.3h1.0M57.3 207.3h1.0M54.2 208.7h1.0M60.5 204.0h1.0M56.7 210.4h1.0M62.5 209.9h1.0M62.6 216.0h1.0M57.4 219.1h1.0M54.2 215.9h1.0M65.9 208.8h1.0M63.8 206.3h1.0M60.0 220.7h1.0M62.4 212.8h1.0M54.0 203.4h1.0M58.2 211.6h1.0M63.2 204.9h1.0M58.8 207.7h1.0M55.3 214.8h1.0M64.2 213.2h1.0M58.6 211.3h1.0M65.8 198.8h1.0M58.5 207.3h1.0M62.4 210.9h1.0M65.9 207.4h1.0M57.4 213.3h1.0M62.0 217.5h1.0M61.6 194.6h1.0M65.4 204.6h1.0M58.7 216.1h1.0M54.8 208.5h1.0M58.0 212.8h1.0M63.9 199.8h1.0M53.7 215.5h1.0M59.3 219.1h1.0M54.9 210.2h1.0M62.6 194.2h1.0M67.8 206.7h1.0M61.7 211.6h1.0M57.7 210.9h1.0M53.4 211.1h1.0M64.9 207.4h1.0M56.4 214.4h1.0M55.1 204.1h1.0M63.9 205.2h1.0M67.0 200.3h1.0M63.8 215.2h1.0M60.2 218.5h1.0M62.9 197.0h1.0M57.9 214.6h1.0M57.5 199.0h1.0M57.6 205.1h1.0M56.3 207.4h1.0M61.7 202.0h1.0M63.5 197.3h1.0M63.8 194.8h1.0M66.1 210.7h1.0M67.1 197.9h1.0M65.3 204.0h1.0M55.0 213.1h1.0M63.1 208.8h1.0M61.1 208.5h1.0M60.8 195.5h1.0M62.1 205.3h1.0M60.0 213.3h1.0M55.7 222.0h1.0M58.9 199.9h1.0M61.3 208.3h1.0M59.0 208.1h1.0M65.4 202.9h1.0M52.7 212.5h1.0M63.8 198.4h1.0M62.0 211.7h1.0M56.9 210.9h1.0M66.0 208.3h1.0M60.5 203.7h1.0M60.6 209.1h1.0M61.7 201.4h1.0M58.8 215.4h1.0M56.4 203.7h1.0M65.8 209.2h1.0M63.5 202.6h1.0M56.6 221.4h1.0M61.9 197.3h1.0M62.1 206.7h1.0M60.0 207.3h1.0M59.8 215.0h1.0M59.1 205.1h1.0M57.4 202.6h1.0M55.6 215.0h1.0M61.7 215.1h1.0M66.6 201.1h1.0M63.3 212.6h1.0M55.3 218.5h1.0M62.9 190.9h1.0M63.6 198.0h1.0M55.8 206.5h1.0M67.9 196.0h1.0M64.6 202.4h1.0M65.0 194.4h1.0M58.9 216.8h1.0M59.4 205.7h1.0M56.3 210.5h1.0M65.9 208.5h1.0M60.4 211.8h1.0M56.3 212.8h1.0M62.9 212.4h1.0M55.0 205.6h1.0M58.0 217.9h1.0M60.3 199.1h1.0M61.1 199.7h1.0M59.4 214.9h1.0M62.1 214.3h1.0M58.0 211.3h1.0M57.9 206.6h1.0M60.4 207.5h1.0M63.4 204.2h1.0M66.9 198.3h1.0M56.3 217.7h1.0M62.2 215.8h1.0M60.7 211.8h1.0M61.8 210.9h1.0M55.8 216.9h1.0M64.1 204.7h1.0M62.0 218.3h1.0M64.4 201.0h1.0M61.5 202.9h1.0M66.3 205.9h1.0M56.7 218.6h1.0M56.0 212.4h1.0M57.0 209.8h1.0M62.7 196.8h1.0M60.9 199.8h1.0M62.9 199.6h1.0M60.3 217.1h1.0M62.2 199.0h1.0M63.1 205.1h1.0M58.8 203.0h1.0M54.6 199.5h1.0M56.5 202.7h1.0M60.6 188.6h1.0M64.9 206.6h1.0M64.0 212.5h1.0M59.8 220.4h1.0M61.0 197.6h1.0M62.1 213.3h1.0M60.6 201.9h1.0M54.6 213.4h1.0M51.0 205.2h1.0M64.8 206.7h1.0M65.3 215.4h1.0M58.7 222.8h1.0M62.7 205.4h1.0M61.1 212.6h1.0M56.6 203.6h1.0M61.1 211.6h1.0M64.4 204.1h1.0M58.1 222.4h1.0M67.3 197.4h1.0M64.0 221.8h1.0M55.4 211.9h1.0M44.7 203.5h1.0M44.6 200.8h1.0M44.8 223.0h1.0M44.8 197.1h1.0M45.2 204.3h1.0M44.5 231.3h1.0M44.9 217.8h1.0M44.4 198.0h1.0M44.6 202.8h1.0M44.9 193.3h1.0M45.2 203.8h1.0M45.3 206.5h1.0M45.2 227.2h1.0M44.4 198.2h1.0" stroke="#18d8c0" stroke-opacity="0.95"/><path d="M62.4 208.0h1.0M57.1 203.0h1.0M59.2 200.9h1.0M59.3 209.0h1.0M62.2 200.7h1.0M60.5 202.8h1.0M60.4 221.9h1.0M56.8 218.3h1.0M61.8 204.8h1.0M63.1 207.4h1.0M66.2 203.4h1.0M60.1 214.1h1.0M53.9 205.4h1.0M59.6 210.3h1.0M61.8 205.3h1.0M60.6 204.2h1.0M61.6 218.3h1.0M58.5 202.2h1.0M60.3 202.6h1.0M61.4 206.4h1.0M59.7 197.2h1.0M60.5 209.4h1.0M56.0 216.2h1.0M59.0 210.1h1.0M58.8 203.6h1.0M58.7 219.4h1.0M60.1 212.2h1.0M64.1 206.9h1.0M58.7 207.8h1.0M61.7 208.6h1.0M65.2 206.0h1.0M59.2 210.7h1.0M59.4 200.4h1.0M56.8 215.6h1.0M59.6 216.7h1.0M62.8 196.1h1.0M63.2 213.2h1.0M62.8 202.0h1.0M56.7 218.9h1.0M55.8 207.1h1.0M60.9 208.3h1.0M57.6 213.8h1.0M52.8 203.8h1.0M60.5 196.1h1.0M59.3 216.8h1.0M62.2 212.4h1.0M59.6 205.6h1.0M61.5 200.4h1.0M60.6 200.9h1.0M58.2 211.7h1.0M57.8 210.5h1.0M64.6 200.8h1.0M59.8 204.5h1.0M60.8 205.5h1.0M66.1 204.9h1.0M66.4 203.1h1.0M58.0 208.1h1.0M54.9 209.9h1.0M57.9 214.8h1.0M59.7 208.1h1.0M59.4 203.5h1.0M62.5 209.6h1.0M59.4 202.0h1.0M63.7 205.5h1.0M60.6 211.0h1.0M59.1 202.3h1.0M61.1 211.9h1.0M63.9 204.0h1.0M63.1 212.5h1.0M62.2 201.7h1.0M62.1 200.9h1.0M59.3 211.0h1.0M61.4 211.4h1.0M59.8 208.9h1.0M58.4 202.5h1.0M64.8 203.5h1.0M58.3 211.3h1.0M58.9 207.0h1.0M60.5 208.8h1.0M57.7 198.5h1.0M60.9 218.1h1.0M58.6 210.2h1.0M64.9 210.5h1.0M61.8 205.8h1.0M63.9 198.9h1.0M58.1 211.5h1.0M62.5 204.3h1.0M62.0 204.8h1.0M57.0 212.8h1.0M61.2 204.0h1.0M57.3 208.5h1.0M60.6 208.3h1.0M58.4 199.5h1.0M58.5 214.0h1.0M57.6 207.0h1.0M58.4 212.2h1.0M67.5 205.1h1.0M60.9 219.4h1.0M62.3 209.6h1.0M63.4 205.5h1.0M60.6 195.6h1.0M63.1 198.4h1.0M58.0 214.3h1.0M59.9 204.3h1.0M62.3 210.3h1.0M52.2 215.0h1.0M66.9 205.9h1.0M56.8 207.3h1.0M59.4 211.9h1.0M60.6 202.7h1.0M58.0 215.7h1.0M59.3 208.8h1.0M59.7 206.6h1.0M54.1 202.2h1.0M59.5 208.2h1.0M57.2 208.6h1.0M62.5 213.9h1.0M61.2 209.4h1.0M65.4 205.7h1.0M65.5 204.6h1.0M60.8 207.9h1.0M58.3 202.6h1.0M57.1 215.8h1.0M59.0 207.6h1.0M66.4 208.0h1.0M61.9 200.3h1.0M61.1 210.4h1.0M62.2 208.7h1.0M57.1 212.5h1.0M57.9 203.8h1.0M61.4 207.7h1.0M61.7 207.7h1.0M58.0 209.4h1.0M59.8 212.6h1.0M66.2 208.9h1.0M65.5 209.7h1.0M63.9 203.6h1.0M63.3 212.7h1.0M60.8 201.6h1.0M61.1 214.2h1.0M58.8 206.4h1.0M64.7 200.8h1.0M61.1 207.6h1.0M62.4 215.5h1.0M59.8 215.2h1.0M58.4 215.5h1.0M57.8 207.5h1.0M63.5 213.3h1.0M54.0 202.0h1.0M55.4 212.3h1.0M58.9 204.0h1.0M59.1 201.5h1.0M61.6 212.1h1.0M61.4 215.7h1.0M62.0 200.4h1.0M63.1 208.2h1.0M60.5 202.4h1.0M59.7 201.8h1.0M60.2 215.1h1.0M62.5 205.4h1.0M62.1 210.3h1.0M66.1 209.7h1.0M64.3 204.8h1.0M61.3 213.7h1.0M62.9 205.4h1.0M65.2 210.0h1.0M61.7 200.1h1.0M56.0 207.6h1.0M63.0 201.1h1.0M58.4 209.2h1.0M62.9 200.9h1.0M61.5 205.7h1.0M57.3 208.6h1.0M57.7 205.4h1.0M59.3 210.5h1.0M54.7 211.5h1.0M64.5 203.7h1.0M65.7 212.0h1.0M63.9 199.7h1.0M61.2 212.8h1.0M60.2 209.0h1.0M65.0 203.2h1.0M62.9 204.1h1.0M62.3 212.2h1.0M52.8 214.2h1.0M58.6 211.6h1.0M59.2 201.6h1.0M60.0 213.2h1.0M62.0 200.2h1.0M58.6 204.5h1.0M59.4 205.0h1.0M62.6 198.2h1.0M59.9 212.6h1.0M59.5 202.9h1.0M61.4 206.0h1.0M61.1 207.9h1.0M65.0 200.4h1.0M62.6 209.3h1.0M63.3 204.9h1.0M60.7 195.4h1.0M57.0 207.9h1.0M64.4 205.9h1.0M59.4 218.4h1.0M59.2 206.1h1.0M61.0 206.5h1.0M66.6 196.0h1.0M58.3 207.5h1.0M58.6 204.1h1.0M66.5 196.3h1.0M64.0 206.5h1.0M56.9 202.5h1.0M61.5 203.4h1.0M58.8 215.8h1.0M63.5 195.8h1.0M56.7 209.0h1.0M65.5 203.9h1.0M62.5 197.5h1.0M58.3 216.7h1.0M58.6 210.6h1.0M58.3 208.2h1.0M58.5 200.4h1.0M61.8 198.3h1.0M59.4 204.3h1.0M62.2 202.8h1.0M58.5 204.6h1.0M59.6 215.2h1.0M44.6 199.6h1.0M44.5 220.0h1.0M45.2 202.1h1.0M44.6 220.6h1.0M44.5 203.3h1.0M44.9 199.9h1.0M45.2 223.4h1.0M45.0 200.4h1.0M44.5 200.2h1.0" stroke="#30e040" stroke-opacity="0.95"/><path d="M60.8 208.9h1.0M57.7 209.1h1.0M61.7 200.6h1.0M58.5 206.7h1.0M59.6 206.3h1.0M61.4 205.8h1.0M58.8 209.6h1.0M62.1 205.1h1.0M58.4 213.2h1.0M55.9 202.4h1.0M59.0 205.2h1.0M59.7 204.3h1.0M59.4 222.1h1.0M63.7 206.0h1.0M56.7 214.8h1.0M61.8 202.4h1.0M60.2 211.7h1.0M55.6 215.5h1.0M62.8 207.0h1.0M63.2 208.7h1.0M62.2 199.2h1.0M64.0 207.7h1.0M58.8 210.3h1.0M60.0 217.1h1.0M59.9 211.6h1.0M59.8 211.1h1.0M60.3 205.9h1.0M59.3 213.7h1.0M63.8 201.6h1.0M63.4 204.1h1.0M61.3 211.8h1.0M64.0 204.6h1.0M60.4 213.2h1.0M62.1 206.1h1.0M58.9 211.6h1.0M61.5 207.2h1.0M61.8 200.8h1.0M60.9 205.9h1.0M60.9 202.1h1.0M57.9 213.9h1.0M60.4 214.8h1.0M64.3 207.6h1.0M62.1 201.2h1.0M61.4 205.3h1.0M63.8 199.1h1.0M56.6 211.1h1.0M64.7 204.4h1.0M57.1 205.3h1.0M63.5 205.2h1.0M62.1 202.2h1.0M59.9 207.3h1.0M53.3 201.4h1.0M62.1 201.5h1.0M63.1 203.0h1.0M60.4 209.6h1.0M63.5 210.9h1.0M59.5 208.1h1.0M60.7 215.9h1.0M60.9 210.7h1.0M61.5 213.2h1.0M60.8 207.7h1.0M59.6 208.6h1.0M60.9 210.3h1.0M58.6 209.6h1.0M63.8 196.5h1.0M62.8 205.7h1.0M58.8 199.9h1.0M57.5 218.9h1.0M58.2 208.0h1.0M59.4 207.4h1.0M63.0 208.9h1.0M55.2 207.5h1.0M58.6 213.2h1.0M59.7 210.4h1.0M62.2 205.1h1.0M65.4 204.7h1.0M58.9 205.7h1.0M59.7 202.5h1.0M59.0 211.6h1.0M58.9 205.4h1.0M62.5 204.8h1.0M57.4 202.9h1.0M61.2 213.7h1.0M60.8 211.4h1.0M57.2 206.5h1.0M59.3 202.0h1.0M64.4 211.2h1.0M64.3 207.2h1.0M63.6 204.0h1.0M61.1 210.9h1.0M60.3 207.6h1.0M61.1 196.0h1.0M61.5 215.4h1.0M59.2 208.8h1.0M59.2 213.3h1.0M55.9 208.8h1.0M64.2 207.6h1.0M64.5 203.6h1.0M58.7 213.5h1.0M56.9 215.2h1.0M60.1 207.0h1.0M60.6 210.8h1.0M61.1 202.4h1.0M62.4 208.4h1.0M65.2 198.0h1.0M63.2 202.5h1.0M60.9 211.3h1.0M60.2 204.0h1.0M59.0 215.7h1.0M57.4 211.5h1.0M57.1 206.2h1.0M57.6 208.0h1.0M63.8 205.5h1.0M56.7 209.8h1.0M60.2 207.7h1.0M62.6 208.9h1.0M59.3 204.1h1.0M60.1 210.3h1.0M45.0 204.0h1.0M44.7 210.5h1.0M45.2 202.5h1.0M44.7 223.5h1.0M44.8 208.1h1.0M44.7 209.1h1.0M45.1 204.1h1.0M45.1 219.9h1.0M44.8 215.3h1.0M44.5 203.7h1.0M44.7 221.5h1.0M45.1 208.6h1.0M45.1 211.7h1.0M45.2 200.6h1.0M45.0 214.2h1.0M44.8 212.7h1.0M45.0 216.0h1.0M45.1 221.4h1.0M44.6 221.4h1.0M44.9 206.7h1.0M44.8 215.8h1.0M44.9 217.6h1.0M44.8 209.8h1.0M44.6 202.3h1.0M45.0 200.6h1.0" stroke="#e8e820" stroke-opacity="0.95"/><path d="M61.6 207.1h1.0M63.9 208.3h1.0M61.5 206.7h1.0M58.0 205.9h1.0M61.9 203.0h1.0M62.6 207.3h1.0M62.4 201.3h1.0M62.4 206.2h1.0M61.0 200.1h1.0M64.4 205.6h1.0M61.6 212.6h1.0M59.3 208.9h1.0M61.3 207.8h1.0M62.4 204.5h1.0M57.7 207.0h1.0M62.7 213.7h1.0M64.1 207.3h1.0M63.1 204.0h1.0M60.3 206.7h1.0M60.0 199.8h1.0M60.1 206.0h1.0M62.4 201.4h1.0M60.0 206.8h1.0M57.9 215.2h1.0M60.4 211.0h1.0M61.1 206.5h1.0M56.3 206.7h1.0M61.3 199.2h1.0M59.0 209.1h1.0M61.0 198.2h1.0M63.2 207.5h1.0M57.2 213.2h1.0M59.9 206.4h1.0M57.9 208.5h1.0M60.1 206.3h1.0M62.8 209.4h1.0M64.1 202.8h1.0M64.6 202.0h1.0M63.0 207.7h1.0M56.6 216.6h1.0M64.3 206.0h1.0M59.4 204.4h1.0M57.7 206.0h1.0M55.9 216.1h1.0M59.8 206.5h1.0M58.6 213.0h1.0M58.1 211.1h1.0M65.0 206.0h1.0M61.1 211.3h1.0M61.5 202.3h1.0M58.4 211.8h1.0M60.9 202.1h1.0M44.5 214.4h1.0M45.2 207.3h1.0M44.8 214.1h1.0M44.7 214.6h1.0M45.1 211.3h1.0" stroke="#ff9010" stroke-opacity="0.95"/><path d="M61.8 202.1h1.0M60.0 203.2h1.0M60.3 205.2h1.0M59.6 201.7h1.0M61.6 210.4h1.0M61.3 208.8h1.0M61.1 205.6h1.0M61.5 198.5h1.0M56.7 208.6h1.0M61.0 206.8h1.0M61.4 208.7h1.0M59.6 207.5h1.0M55.5 216.1h1.0M61.3 204.7h1.0M62.0 209.9h1.0M60.5 209.3h1.0M60.1 214.1h1.0M62.2 207.7h1.0M58.9 206.0h1.0M61.1 207.4h1.0M56.4 209.3h1.0M62.3 208.0h1.0M64.5 202.9h1.0M58.8 215.1h1.0M60.7 204.4h1.0M61.5 204.7h1.0M59.3 206.2h1.0M60.9 206.1h1.0M45.2 208.9h1.0M44.7 217.1h1.0M44.5 216.2h1.0M44.5 211.0h1.0M45.2 215.3h1.0M44.9 209.3h1.0M44.6 216.7h1.0M44.6 214.2h1.0M45.1 216.3h1.0M44.7 207.5h1.0M44.8 209.8h1.0M45.1 213.5h1.0" stroke="#f02010" stroke-opacity="0.95"/></g>
<g stroke-width="1.0" fill="none"><path d="M290.8 222.5h1.0M271.3 233.6h1.0M300.4 205.8h1.0M301.1 196.9h1.0M249.6 195.2h1.0M261.6 190.0h1.0M288.0 224.8h1.0M300.1 202.0h1.0M286.4 188.9h1.0M240.6 230.2h1.0M261.1 234.7h1.0M300.9 198.8h1.0M259.7 242.8h1.0M262.7 236.1h1.0M243.5 231.7h1.0M248.7 194.3h1.0M256.9 191.3h1.0M275.8 235.2h1.0M253.2 190.6h1.0M290.8 189.2h1.0M297.9 209.0h1.0M306.8 209.9h1.0M295.2 215.3h1.0M295.7 194.8h1.0M289.5 191.8h1.0M243.6 231.6h1.0M298.9 211.1h1.0M239.3 229.9h1.0M287.8 190.0h1.0M308.3 203.9h1.0M296.9 201.0h1.0M299.8 212.4h1.0M289.4 225.3h1.0M298.1 187.3h1.0M283.2 187.2h1.0M294.2 194.5h1.0M293.8 217.5h1.0M303.4 205.5h1.0M232.3 230.4h1.0M295.2 188.5h1.0M296.9 213.7h1.0M273.2 232.0h1.0M299.6 206.1h1.0M257.1 238.3h1.0M305.4 218.0h1.0M263.1 185.6h1.0M308.1 220.0h1.0M297.8 185.9h1.0M299.1 214.0h1.0M283.8 227.0h1.0M290.0 222.9h1.0M267.4 236.6h1.0M264.5 189.6h1.0M299.1 211.0h1.0M301.8 208.1h1.0M288.1 233.4h1.0M265.8 185.7h1.0M291.6 188.4h1.0M307.9 200.1h1.0M292.2 189.4h1.0M250.0 195.5h1.0M304.6 204.0h1.0M288.7 230.3h1.0M290.8 222.2h1.0M286.4 229.8h1.0M276.2 187.7h1.0M297.1 213.5h1.0M269.5 243.2h1.0M275.9 178.5h1.0M275.7 181.8h1.0M273.5 234.1h1.0M300.9 170.8h1.0M248.0 194.3h1.0M252.4 234.5h1.0M261.1 238.8h1.0M295.3 190.7h1.0M313.3 178.5h1.0M303.4 210.7h1.0M301.8 199.7h1.0M258.8 186.7h1.0M295.4 224.1h1.0M316.2 196.3h1.0M308.8 205.4h1.0M234.6 190.2h1.0M280.5 228.6h1.0M277.9 233.3h1.0M299.4 210.3h1.0M239.4 243.3h1.0M268.9 183.6h1.0M259.8 232.7h1.0M256.8 237.4h1.0M298.3 211.2h1.0M297.1 187.5h1.0M280.9 185.9h1.0M277.9 230.2h1.0M297.0 217.4h1.0M299.6 199.6h1.0M280.4 233.8h1.0M256.3 176.1h1.0M271.5 170.5h1.0M298.6 204.4h1.0M268.9 236.5h1.0M280.2 228.7h1.0M282.7 239.1h1.0M248.6 243.7h1.0M274.8 233.4h1.0M315.2 219.3h1.0M285.0 170.4h1.0M293.7 180.9h1.0M268.2 183.6h1.0M253.5 232.2h1.0M297.5 217.0h1.0M298.2 203.2h1.0M294.3 185.6h1.0M299.3 198.2h1.0M259.0 243.8h1.0M302.0 183.3h1.0M303.4 211.0h1.0M301.7 197.1h1.0M283.6 187.9h1.0M256.9 242.2h1.0M278.6 176.2h1.0M304.2 208.2h1.0M257.5 188.7h1.0M243.7 234.0h1.0M291.7 189.6h1.0M286.6 184.1h1.0M272.9 183.7h1.0M288.3 226.0h1.0M271.0 183.3h1.0M263.3 190.3h1.0M277.8 169.8h1.0M301.7 214.2h1.0M269.6 234.6h1.0M300.3 198.9h1.0M287.4 229.7h1.0M296.5 218.6h1.0M312.3 189.2h1.0M282.4 174.1h1.0M297.9 199.9h1.0M248.4 177.1h1.0M304.7 196.8h1.0M286.6 181.5h1.0M273.8 185.6h1.0M305.0 206.5h1.0M276.8 231.3h1.0M264.6 239.3h1.0M239.6 179.8h1.0M263.7 184.7h1.0M295.6 195.7h1.0M299.3 201.7h1.0M261.1 233.0h1.0M272.3 187.7h1.0M276.0 239.2h1.0M303.3 199.2h1.0M297.5 182.6h1.0M309.4 232.7h1.0M296.8 190.7h1.0M246.2 233.5h1.0M257.2 188.0h1.0M273.3 245.2h1.0M238.4 195.5h1.0M280.4 231.1h1.0M294.4 182.8h1.0M256.9 190.8h1.0M269.4 186.5h1.0M268.1 233.9h1.0M252.2 231.3h1.0M292.9 225.7h1.0M299.7 207.5h1.0M273.5 186.2h1.0M300.1 207.4h1.0M257.1 185.3h1.0M306.1 203.3h1.0M297.9 209.8h1.0M255.2 231.5h1.0M297.2 193.3h1.0M301.2 198.9h1.0M286.9 181.8h1.0M284.4 177.1h1.0M262.4 183.1h1.0M289.2 225.7h1.0M292.8 190.8h1.0M289.9 184.6h1.0M301.8 211.5h1.0M272.0 181.2h1.0M287.4 187.0h1.0M272.6 177.0h1.0M262.8 189.2h1.0M218.9 217.4h1.0M206.1 235.6h1.0M219.3 227.9h1.0M202.5 209.7h1.0M201.1 237.3h1.0M204.0 229.2h1.0M198.4 197.1h1.0M226.0 227.9h1.0M213.8 214.1h1.0M207.6 209.2h1.0M202.3 196.4h1.0M201.7 218.9h1.0M207.2 209.4h1.0M208.5 228.2h1.0M216.9 212.8h1.0M247.2 231.4h1.0M226.7 231.7h1.0M231.1 225.7h1.0M199.5 224.9h1.0M225.5 237.7h1.0M212.4 207.4h1.0M204.9 200.3h1.0M211.2 226.2h1.0M206.4 207.6h1.0M216.8 214.6h1.0M226.3 233.2h1.0M230.0 233.2h1.0M237.5 237.4h1.0M222.1 221.7h1.0M206.5 221.2h1.0M207.1 221.9h1.0M204.6 222.8h1.0M225.9 238.1h1.0M228.5 202.2h1.0M244.2 189.3h1.0M237.5 198.9h1.0M220.1 202.0h1.0M204.6 206.7h1.0M214.5 223.0h1.0M218.8 206.6h1.0M207.4 224.2h1.0M210.7 218.6h1.0M217.6 223.8h1.0M207.2 238.1h1.0M200.0 204.0h1.0M215.4 196.9h1.0M202.5 211.8h1.0M212.7 194.2h1.0M218.0 200.4h1.0M216.5 206.7h1.0M199.6 186.5h1.0M241.0 228.9h1.0M213.1 237.0h1.0M220.7 219.3h1.0M217.5 212.5h1.0M200.0 217.6h1.0M223.0 206.6h1.0M212.7 206.4h1.0M215.3 224.1h1.0M243.0 190.9h1.0M198.5 199.0h1.0M201.3 225.1h1.0M213.7 218.9h1.0M198.6 220.6h1.0M208.5 219.0h1.0M226.3 228.3h1.0M203.0 190.1h1.0M219.5 227.6h1.0M226.6 202.1h1.0M214.8 215.5h1.0M208.7 229.8h1.0M211.1 203.5h1.0M205.8 235.0h1.0M234.8 200.7h1.0M211.8 193.0h1.0M228.2 227.6h1.0M216.4 211.2h1.0M199.7 225.0h1.0M214.4 225.7h1.0M207.2 246.8h1.0M203.0 192.8h1.0M220.3 201.9h1.0M210.2 203.3h1.0M216.0 238.7h1.0M223.8 202.6h1.0M198.5 209.0h1.0M207.6 226.4h1.0M222.8 197.2h1.0M206.2 201.7h1.0M215.5 219.4h1.0M224.4 244.3h1.0M200.6 227.9h1.0M242.3 192.4h1.0M206.7 220.6h1.0M206.1 183.7h1.0M209.1 199.8h1.0M221.1 220.8h1.0M199.7 224.1h1.0M211.1 208.3h1.0M210.5 222.6h1.0M210.8 215.9h1.0M231.6 195.4h1.0M208.1 202.4h1.0M209.2 223.7h1.0M224.9 225.2h1.0M217.1 216.8h1.0M199.4 207.2h1.0M215.9 202.2h1.0M237.2 198.6h1.0M231.7 189.5h1.0M213.4 215.0h1.0M217.7 227.5h1.0M218.8 209.0h1.0M216.8 206.6h1.0M201.2 227.9h1.0M217.3 221.7h1.0M215.5 195.2h1.0M215.2 202.7h1.0M218.8 226.7h1.0M211.2 215.8h1.0M238.8 195.4h1.0M203.7 221.2h1.0M213.4 208.3h1.0M232.7 241.5h1.0M226.6 242.2h1.0M204.8 198.0h1.0M235.3 196.0h1.0M211.0 207.1h1.0M245.1 197.3h1.0M208.3 200.9h1.0M213.6 207.0h1.0M207.2 208.0h1.0M202.9 207.4h1.0M213.7 206.5h1.0M227.1 234.5h1.0M205.9 224.1h1.0M223.7 207.6h1.0M227.7 226.4h1.0M202.6 193.4h1.0M211.7 207.5h1.0M235.7 229.2h1.0M205.8 207.9h1.0M214.9 220.9h1.0M235.9 227.4h1.0M212.7 219.4h1.0M199.6 226.8h1.0M216.8 203.1h1.0M217.7 211.2h1.0M246.1 242.9h1.0M204.1 202.8h1.0M211.4 209.1h1.0M203.1 210.4h1.0M217.8 205.4h1.0M236.7 229.6h1.0M207.4 226.3h1.0M232.7 195.2h1.0M248.7 196.8h1.0M207.8 219.6h1.0M215.5 214.7h1.0M240.7 233.3h1.0M212.1 237.8h1.0M224.3 182.7h1.0M226.3 228.8h1.0M209.1 229.7h1.0M215.3 196.8h1.0M224.4 223.1h1.0M214.9 216.4h1.0M198.3 216.0h1.0M205.7 204.0h1.0M233.5 229.7h1.0M243.4 230.9h1.0M218.3 198.0h1.0M220.7 219.7h1.0M203.7 208.7h1.0M238.4 230.7h1.0M213.6 220.2h1.0M210.5 219.1h1.0M234.6 226.3h1.0M211.2 216.9h1.0M203.6 221.4h1.0M206.9 193.9h1.0M238.0 229.4h1.0M244.6 170.7h1.0M229.4 192.2h1.0M239.2 234.5h1.0M241.9 235.6h1.0M230.6 227.3h1.0M225.2 207.3h1.0M238.8 198.7h1.0M226.7 230.3h1.0M229.0 228.0h1.0M231.2 200.3h1.0M221.9 204.5h1.0M231.1 205.6h1.0M256.3 191.8h1.0M224.3 200.0h1.0M239.6 230.6h1.0M226.1 229.7h1.0M228.9 203.2h1.0M253.6 194.8h1.0M224.7 199.0h1.0M247.9 195.0h1.0M253.7 194.1h1.0M225.3 229.5h1.0M242.8 233.0h1.0M226.9 224.4h1.0M221.7 204.6h1.0M239.9 198.0h1.0M223.4 223.1h1.0M236.7 194.8h1.0M228.5 227.4h1.0M216.6 198.7h1.0M255.6 232.2h1.0M232.0 201.9h1.0M234.2 188.7h1.0M229.0 207.3h1.0M247.7 196.5h1.0M228.7 230.6h1.0M218.0 222.6h1.0M216.6 205.3h1.0M229.6 206.7h1.0M244.2 197.1h1.0M239.4 190.2h1.0M224.4 225.2h1.0M241.0 239.9h1.0M238.0 226.9h1.0M220.7 169.5h1.0M217.8 216.3h1.0M250.7 194.4h1.0M239.8 197.0h1.0M216.1 197.3h1.0M246.1 178.4h1.0M198.8 207.9h1.0M214.0 206.1h1.0M208.8 202.4h1.0M227.2 187.3h1.0M232.3 201.8h1.0M198.5 220.8h1.0M198.5 212.2h1.0M233.9 229.4h1.0M220.4 190.1h1.0M262.7 148.2h1.0M222.4 190.4h1.0M198.1 173.9h1.0M198.6 211.1h1.0M245.2 196.5h1.0M200.6 234.3h1.0M210.1 169.8h1.0M201.2 213.5h1.0M198.3 218.9h1.0M229.0 201.9h1.0M256.5 245.9h1.0M255.9 190.8h1.0M245.2 197.4h1.0M235.3 196.7h1.0M205.0 201.3h1.0M198.4 218.8h1.0M223.2 169.4h1.0M237.5 162.0h1.0M198.2 206.2h1.0M300.6 200.1h1.0M209.0 218.5h1.0M216.1 195.5h1.0M210.6 168.6h1.0M211.9 174.6h1.0M222.7 227.8h1.0M243.2 182.6h1.0M246.6 182.4h1.0M224.2 193.7h1.0M236.8 172.9h1.0M200.9 191.9h1.0M208.3 194.3h1.0M259.7 190.1h1.0M252.0 232.7h1.0M222.2 225.8h1.0M210.6 170.3h1.0M240.2 191.5h1.0M198.5 222.7h1.0M260.0 174.1h1.0M229.1 193.3h1.0M198.6 202.0h1.0M198.0 157.8h1.0M277.3 181.4h1.0M212.7 190.1h1.0M213.9 241.1h1.0M261.1 240.8h1.0M198.3 211.7h1.0M240.2 196.8h1.0M198.6 200.4h1.0M198.4 208.8h1.0M246.6 150.0h1.0M233.7 230.7h1.0M266.7 171.0h1.0M234.2 191.8h1.0M265.0 177.7h1.0M247.8 161.8h1.0M244.6 167.7h1.0M198.7 194.0h1.0M201.9 218.8h1.0M202.7 229.6h1.0M304.6 205.9h1.0M217.7 203.4h1.0M225.1 193.6h1.0M217.7 183.5h1.0M257.7 188.4h1.0M232.5 184.9h1.0M198.4 167.7h1.0M256.9 157.5h1.0M317.5 217.1h1.0M198.6 176.1h1.0M204.8 177.7h1.0M281.8 168.9h1.0M216.7 225.0h1.0M309.6 159.6h1.0M203.0 222.9h1.0M203.1 230.4h1.0M203.1 237.8h1.0" stroke="#2020ff" stroke-opacity="0.6"/><path d="M269.6 212.6h1.0M256.2 225.3h1.0M258.8 210.2h1.0M278.6 217.7h1.0M284.6 215.2h1.0M255.6 212.1h1.0M270.0 194.2h1.0M274.2 220.4h1.0M263.2 211.9h1.0M249.9 223.6h1.0M265.2 210.8h1.0M261.1 200.6h1.0M273.3 226.9h1.0M256.3 212.1h1.0M262.8 201.6h1.0M274.7 205.2h1.0M282.8 221.6h1.0M253.8 215.0h1.0M274.0 224.7h1.0M272.4 207.0h1.0M283.9 220.1h1.0M268.8 212.2h1.0M272.6 203.0h1.0M258.1 209.3h1.0M271.6 196.7h1.0M281.0 203.3h1.0M271.7 198.1h1.0M269.9 200.1h1.0M274.7 213.7h1.0M272.2 216.4h1.0M283.7 201.7h1.0M281.3 205.1h1.0M278.2 208.8h1.0M284.1 192.6h1.0M285.8 204.8h1.0M246.6 228.2h1.0M254.4 220.1h1.0M272.8 219.8h1.0M277.9 190.0h1.0M287.3 217.4h1.0M261.5 216.1h1.0M272.8 209.1h1.0M259.7 206.8h1.0M279.9 205.5h1.0M280.3 206.7h1.0M288.9 200.6h1.0M270.9 214.5h1.0M288.4 203.1h1.0M275.9 209.3h1.0M277.3 220.7h1.0M268.2 204.1h1.0M243.8 221.1h1.0M274.9 217.3h1.0M276.6 207.2h1.0M258.2 205.5h1.0M278.2 216.6h1.0M251.0 217.5h1.0M274.8 219.1h1.0M284.8 200.2h1.0M273.8 192.4h1.0M262.7 219.8h1.0M267.0 212.6h1.0M263.8 213.6h1.0M259.1 221.3h1.0M266.9 209.3h1.0M261.2 208.9h1.0M263.4 223.7h1.0M266.9 215.8h1.0M257.0 202.7h1.0M253.9 212.1h1.0M261.3 215.8h1.0M250.5 221.2h1.0M287.5 202.9h1.0M271.3 222.0h1.0M262.7 211.7h1.0M275.6 221.0h1.0M294.8 199.1h1.0M265.0 204.9h1.0M257.9 200.9h1.0M266.1 206.6h1.0M278.0 214.9h1.0M251.2 223.5h1.0M275.7 210.2h1.0M285.9 212.4h1.0M265.9 214.6h1.0M277.7 211.5h1.0M263.9 224.8h1.0M280.8 204.9h1.0M283.5 218.5h1.0M278.9 217.4h1.0M269.4 212.6h1.0M274.0 216.0h1.0M259.8 222.7h1.0M270.7 195.3h1.0M264.9 218.8h1.0M285.4 211.2h1.0M279.4 223.5h1.0M272.8 207.9h1.0M276.2 202.9h1.0M266.9 205.0h1.0M287.9 199.8h1.0M268.8 208.6h1.0M277.6 222.4h1.0M264.2 226.8h1.0M268.8 214.0h1.0M249.5 213.5h1.0M267.2 213.8h1.0M268.9 217.2h1.0M271.4 218.2h1.0M284.8 215.7h1.0M259.3 213.6h1.0M260.4 201.9h1.0M284.1 214.7h1.0M269.4 200.7h1.0M293.6 199.4h1.0M290.0 205.5h1.0M276.5 225.1h1.0M286.0 211.3h1.0M280.9 198.7h1.0M270.6 204.0h1.0M250.8 217.8h1.0M285.2 226.0h1.0M270.9 204.4h1.0M267.5 222.6h1.0M283.5 202.4h1.0M271.1 198.9h1.0M284.1 203.1h1.0M281.5 209.9h1.0M262.5 215.5h1.0M278.5 211.6h1.0M264.5 212.4h1.0M264.4 211.1h1.0M284.4 208.8h1.0M270.9 196.3h1.0M262.9 217.0h1.0M261.8 210.1h1.0M256.2 220.2h1.0M258.6 209.7h1.0M271.3 211.0h1.0M258.0 225.4h1.0M273.6 226.2h1.0M286.8 204.7h1.0M280.8 220.0h1.0M252.7 213.3h1.0M266.6 203.1h1.0M271.9 210.3h1.0M276.8 214.9h1.0M265.4 220.7h1.0M280.8 204.6h1.0M280.9 210.2h1.0M264.4 210.9h1.0M284.4 217.3h1.0M272.5 204.4h1.0M270.8 200.4h1.0M270.4 221.4h1.0M288.1 208.5h1.0M265.1 216.8h1.0M278.1 216.0h1.0M269.4 218.3h1.0M272.9 215.5h1.0M254.7 200.7h1.0M280.1 194.0h1.0M255.0 211.5h1.0M276.2 202.2h1.0M273.5 202.3h1.0M285.8 207.2h1.0M274.6 212.5h1.0M253.4 230.9h1.0M279.1 204.3h1.0M292.9 210.8h1.0M268.6 199.4h1.0M276.7 204.6h1.0M281.8 219.4h1.0M290.2 200.2h1.0M269.6 215.4h1.0M294.5 204.1h1.0M289.8 210.7h1.0M269.4 196.7h1.0M264.8 223.2h1.0M285.1 213.8h1.0M286.6 194.6h1.0M265.7 201.1h1.0M271.5 214.9h1.0M255.2 220.9h1.0M260.7 226.7h1.0M287.8 223.5h1.0M258.6 216.8h1.0M262.8 216.7h1.0M265.6 204.7h1.0M260.4 219.0h1.0M266.0 212.0h1.0M250.7 197.8h1.0M282.8 215.1h1.0M276.7 214.6h1.0M255.9 223.4h1.0M284.1 210.6h1.0M258.9 213.5h1.0M264.6 211.8h1.0M250.5 219.6h1.0M261.2 220.6h1.0M271.0 211.8h1.0M266.7 217.8h1.0M274.3 214.0h1.0M272.8 206.6h1.0M279.8 223.9h1.0M263.3 206.3h1.0M256.8 213.3h1.0M280.8 213.3h1.0M274.6 220.2h1.0M291.6 210.9h1.0M270.9 222.9h1.0M285.4 215.9h1.0M280.4 210.5h1.0M268.1 191.8h1.0M272.1 214.3h1.0M277.0 218.0h1.0M254.7 215.2h1.0M270.3 205.6h1.0M291.9 203.9h1.0M265.5 222.2h1.0M275.0 206.3h1.0M266.5 204.3h1.0M265.8 213.9h1.0M270.7 216.4h1.0M278.0 223.2h1.0M275.2 206.1h1.0M272.8 212.2h1.0M258.4 207.0h1.0M255.5 198.6h1.0M266.6 218.7h1.0M241.5 214.3h1.0M281.1 210.0h1.0M276.3 199.7h1.0M285.9 204.3h1.0M276.1 192.1h1.0M262.8 199.8h1.0M263.7 216.1h1.0M275.0 196.5h1.0M276.6 198.0h1.0M273.5 207.3h1.0M238.4 205.1h1.0M263.0 225.6h1.0M283.2 213.9h1.0M263.2 220.2h1.0M291.7 197.6h1.0M286.1 208.3h1.0M270.8 208.5h1.0M254.6 227.1h1.0M265.9 224.5h1.0M260.8 199.5h1.0M268.0 191.5h1.0M283.8 200.8h1.0M256.9 216.7h1.0M265.5 204.9h1.0M251.5 219.9h1.0M265.1 206.5h1.0M277.6 202.1h1.0M272.6 199.8h1.0M257.8 203.5h1.0M264.4 217.1h1.0M258.4 202.9h1.0M269.7 214.1h1.0M261.9 217.8h1.0M280.0 218.0h1.0M259.1 227.2h1.0M280.1 212.6h1.0M258.4 203.3h1.0M277.4 204.1h1.0M271.0 210.1h1.0M283.4 205.7h1.0M250.7 217.9h1.0M279.1 222.1h1.0M268.8 217.5h1.0M279.8 217.7h1.0M268.2 227.3h1.0M281.4 205.0h1.0M282.4 220.6h1.0M269.1 191.9h1.0M268.6 219.3h1.0M282.6 213.4h1.0M285.8 208.2h1.0M273.2 213.2h1.0M264.0 207.9h1.0M260.3 210.7h1.0M273.1 223.0h1.0M280.9 208.4h1.0M256.3 227.5h1.0M276.4 203.9h1.0M262.7 208.5h1.0M266.0 201.1h1.0M259.1 201.4h1.0M273.6 196.6h1.0M279.3 191.5h1.0M245.4 203.4h1.0M285.7 208.9h1.0M257.2 220.1h1.0M269.7 206.8h1.0M275.2 218.1h1.0M265.5 218.7h1.0M287.1 198.8h1.0M276.7 204.5h1.0M284.2 212.6h1.0M263.8 229.9h1.0M269.5 211.7h1.0M291.7 199.7h1.0M293.5 208.8h1.0M282.8 196.9h1.0M267.8 203.2h1.0M245.3 209.6h1.0M281.2 212.7h1.0M270.5 215.4h1.0M270.3 223.2h1.0M286.4 208.1h1.0M274.1 213.7h1.0M283.3 214.1h1.0M287.9 213.2h1.0M259.4 199.5h1.0M260.7 197.8h1.0M259.7 201.1h1.0M283.5 190.4h1.0M263.6 209.7h1.0M258.2 215.4h1.0M240.2 223.8h1.0M251.7 221.3h1.0M277.1 203.5h1.0M284.7 211.1h1.0M261.3 226.4h1.0M253.3 228.2h1.0M264.5 218.7h1.0M266.9 212.7h1.0M244.6 220.2h1.0M251.2 217.6h1.0M266.8 207.6h1.0M256.8 230.1h1.0M277.0 208.9h1.0M260.6 218.1h1.0M289.2 219.7h1.0M244.5 221.3h1.0M290.5 217.2h1.0M267.5 222.1h1.0M278.5 224.5h1.0M281.7 196.3h1.0M263.1 212.4h1.0M268.3 203.9h1.0M269.8 224.4h1.0M284.2 224.5h1.0M249.6 212.5h1.0M257.4 207.5h1.0M267.8 203.9h1.0M270.3 196.2h1.0M268.3 204.1h1.0M273.9 193.9h1.0M274.3 228.1h1.0M280.9 204.8h1.0M274.7 197.3h1.0M278.0 205.3h1.0M265.1 211.5h1.0M270.0 224.2h1.0M258.0 213.2h1.0M288.8 204.3h1.0M275.1 216.7h1.0M273.5 213.1h1.0M261.3 228.9h1.0M257.0 224.7h1.0M272.6 216.5h1.0M252.6 210.1h1.0M263.7 219.2h1.0M276.3 226.1h1.0M274.8 202.1h1.0M250.2 204.7h1.0M285.3 209.7h1.0M258.2 206.1h1.0M250.0 202.5h1.0M280.2 224.6h1.0M268.8 207.0h1.0M272.5 228.1h1.0M267.0 206.5h1.0M264.2 203.4h1.0M276.0 205.1h1.0M267.8 223.2h1.0M247.7 205.2h1.0M267.4 202.9h1.0M276.1 195.0h1.0M258.7 214.4h1.0M270.6 214.8h1.0M266.5 230.1h1.0M273.9 216.5h1.0M287.2 202.6h1.0M276.2 204.4h1.0M257.5 217.5h1.0M269.6 213.0h1.0M275.8 205.4h1.0M291.1 205.2h1.0M279.9 200.4h1.0M259.2 209.6h1.0M262.9 208.7h1.0M279.4 196.0h1.0M275.6 206.0h1.0M287.6 218.3h1.0M255.8 224.4h1.0M275.7 201.1h1.0M274.2 217.0h1.0M288.8 215.5h1.0M276.6 217.1h1.0M273.0 215.3h1.0M266.6 224.7h1.0M283.2 224.1h1.0M285.0 209.6h1.0M262.6 215.0h1.0M255.8 203.1h1.0M273.3 219.8h1.0M266.8 203.7h1.0M284.6 218.6h1.0M267.0 207.6h1.0M272.7 213.3h1.0M276.2 215.2h1.0M270.1 222.8h1.0M290.2 195.8h1.0M255.5 214.3h1.0M262.7 213.4h1.0M282.2 222.0h1.0M251.9 205.9h1.0M273.3 216.6h1.0M261.8 204.6h1.0M274.3 217.1h1.0M285.8 218.8h1.0M272.0 210.9h1.0M276.7 214.9h1.0M259.5 226.9h1.0M290.3 216.8h1.0M276.1 212.7h1.0M269.5 214.9h1.0M278.1 214.5h1.0M257.2 211.8h1.0M272.3 218.5h1.0M268.3 217.1h1.0M274.6 213.6h1.0M272.0 208.6h1.0M267.9 219.5h1.0M265.3 214.8h1.0M249.7 207.3h1.0M275.9 208.0h1.0M287.8 195.5h1.0M259.8 220.3h1.0M275.1 221.7h1.0M269.1 207.2h1.0M259.6 220.4h1.0M267.5 212.0h1.0M284.3 188.9h1.0M272.7 219.5h1.0M283.2 194.4h1.0M272.7 217.2h1.0M278.4 207.6h1.0M258.7 207.1h1.0M272.8 218.6h1.0M264.3 210.2h1.0M260.7 219.7h1.0M268.2 203.9h1.0M273.8 193.3h1.0M274.1 219.3h1.0M275.1 222.4h1.0M269.5 215.2h1.0M272.8 209.3h1.0M282.1 217.5h1.0M275.0 216.4h1.0M259.0 224.6h1.0M282.5 221.9h1.0M263.0 199.3h1.0M266.7 222.9h1.0M256.3 218.7h1.0M253.2 201.0h1.0M280.1 211.9h1.0M277.5 205.6h1.0M261.8 200.9h1.0M258.8 210.1h1.0M262.5 205.5h1.0M267.9 217.2h1.0M287.4 208.3h1.0M283.7 217.7h1.0M286.8 222.9h1.0M277.7 206.4h1.0M249.8 220.5h1.0M281.8 206.3h1.0M274.5 211.9h1.0M237.7 222.1h1.0M265.8 202.8h1.0M253.4 228.3h1.0M260.1 210.9h1.0M273.1 207.4h1.0M276.6 210.3h1.0M269.6 208.6h1.0M263.2 223.3h1.0M282.4 226.1h1.0M269.6 222.7h1.0M245.8 208.0h1.0M267.3 220.8h1.0M259.3 222.5h1.0M255.1 204.0h1.0M291.3 199.5h1.0M273.4 213.9h1.0M276.9 201.0h1.0M267.4 217.9h1.0M266.6 214.3h1.0M265.3 201.3h1.0M284.0 210.6h1.0M269.1 232.6h1.0M270.4 209.5h1.0M280.7 198.5h1.0M283.3 191.5h1.0M262.6 214.4h1.0M262.6 200.5h1.0M255.6 226.8h1.0M265.8 204.8h1.0M280.1 216.6h1.0M264.3 212.6h1.0M252.2 220.2h1.0M277.5 208.9h1.0M266.8 230.6h1.0M274.1 197.7h1.0M265.0 218.8h1.0M279.2 209.5h1.0M283.5 219.7h1.0M270.1 215.9h1.0M245.2 201.4h1.0M266.3 215.7h1.0M273.4 211.1h1.0M282.0 223.0h1.0M260.2 219.9h1.0M261.4 216.0h1.0M272.8 209.9h1.0M265.2 209.9h1.0M287.1 204.8h1.0M266.5 212.3h1.0M263.4 217.2h1.0M259.7 217.1h1.0M273.4 216.1h1.0M283.0 219.3h1.0M276.7 213.2h1.0M259.2 230.8h1.0M280.3 196.1h1.0M282.0 213.8h1.0M258.5 227.1h1.0M260.8 211.2h1.0M271.0 204.0h1.0M253.0 229.2h1.0M265.5 208.1h1.0M280.8 193.8h1.0M244.1 217.1h1.0M271.3 209.1h1.0M291.6 208.7h1.0M280.0 219.6h1.0M288.6 212.3h1.0M261.2 220.9h1.0M275.0 215.8h1.0M279.3 210.9h1.0M265.5 211.7h1.0M280.4 206.4h1.0M276.5 199.3h1.0M258.2 214.9h1.0M274.4 206.0h1.0M264.5 211.1h1.0M278.7 211.3h1.0M266.2 205.5h1.0M285.6 217.8h1.0M276.6 220.2h1.0M276.2 206.4h1.0M267.1 214.8h1.0M280.4 219.4h1.0M247.8 218.7h1.0M259.4 203.9h1.0M282.9 204.0h1.0M252.5 212.6h1.0M262.6 206.4h1.0M258.1 217.7h1.0M265.1 197.4h1.0M269.0 219.2h1.0M266.5 220.7h1.0M279.9 207.7h1.0M266.3 215.5h1.0M275.4 192.7h1.0M268.8 218.6h1.0M253.0 221.6h1.0M281.1 211.8h1.0M281.1 192.0h1.0M276.8 205.8h1.0M269.7 212.1h1.0M273.1 227.4h1.0M274.8 222.1h1.0M271.2 195.8h1.0M252.8 220.2h1.0M267.2 227.9h1.0M269.9 226.1h1.0M272.7 193.9h1.0M243.5 198.4h1.0M274.0 224.4h1.0M261.4 209.4h1.0M280.5 195.2h1.0M254.2 206.2h1.0M276.0 198.0h1.0M283.3 213.7h1.0M278.3 207.5h1.0M294.4 197.6h1.0M270.3 212.0h1.0M255.7 221.2h1.0M279.6 205.6h1.0M286.6 214.5h1.0M283.9 209.2h1.0M267.3 209.2h1.0M240.7 209.9h1.0M239.3 213.9h1.0M260.3 221.0h1.0M273.7 207.1h1.0M261.9 227.9h1.0M280.1 218.7h1.0M265.1 215.5h1.0M279.4 197.0h1.0M258.1 191.2h1.0M249.1 209.5h1.0M269.9 226.3h1.0M267.2 206.5h1.0M290.0 200.1h1.0M285.1 197.9h1.0M273.9 215.6h1.0M279.9 208.3h1.0M259.7 215.1h1.0M285.1 218.1h1.0M281.8 219.3h1.0M271.4 204.4h1.0M272.1 206.9h1.0M271.8 214.5h1.0M272.0 215.7h1.0M262.6 214.4h1.0M259.0 219.1h1.0M260.7 213.3h1.0M285.0 202.5h1.0M271.1 214.5h1.0M274.9 222.8h1.0M280.0 192.7h1.0M272.0 216.7h1.0M237.0 211.9h1.0M284.6 199.9h1.0M256.2 216.1h1.0M273.8 220.0h1.0M289.6 205.8h1.0M280.1 213.4h1.0M294.9 206.5h1.0M270.6 221.9h1.0M267.8 210.5h1.0M275.6 206.8h1.0M274.2 205.2h1.0M258.9 205.3h1.0M262.7 216.9h1.0M280.7 205.2h1.0M243.2 219.8h1.0M269.4 210.2h1.0M266.4 210.6h1.0M272.7 209.9h1.0M264.4 215.2h1.0M254.6 209.0h1.0M262.8 212.2h1.0M285.4 201.9h1.0M249.9 221.9h1.0M273.5 210.4h1.0M267.4 204.5h1.0M247.2 208.9h1.0M271.2 216.4h1.0M277.9 217.2h1.0M277.0 218.6h1.0M269.1 214.0h1.0M278.5 195.7h1.0M288.5 209.3h1.0M263.5 203.6h1.0M269.3 209.7h1.0M259.3 211.6h1.0M270.4 215.3h1.0M264.0 202.6h1.0M259.4 202.1h1.0M265.3 212.8h1.0M266.8 203.7h1.0M259.5 214.2h1.0M259.5 209.3h1.0M256.1 205.6h1.0M275.3 205.6h1.0M260.9 220.9h1.0M272.5 217.9h1.0M241.7 201.8h1.0M279.1 215.1h1.0M281.3 215.0h1.0M264.7 203.0h1.0M281.5 212.6h1.0M265.4 210.3h1.0M254.7 214.9h1.0M263.8 232.0h1.0M253.6 217.4h1.0M268.7 211.8h1.0M265.0 206.5h1.0M290.6 207.1h1.0M274.0 223.2h1.0M247.6 208.1h1.0M282.4 213.9h1.0M258.3 217.0h1.0M264.9 198.0h1.0M244.2 215.0h1.0M265.4 216.3h1.0M282.3 214.6h1.0M254.8 216.7h1.0M269.2 189.3h1.0M275.3 202.7h1.0M261.9 217.4h1.0M261.2 213.4h1.0M272.6 203.5h1.0M263.0 198.9h1.0M261.2 214.3h1.0M284.3 211.5h1.0M278.0 207.8h1.0M285.6 221.5h1.0M252.3 210.8h1.0M282.8 206.7h1.0M267.1 223.3h1.0M267.8 202.0h1.0M268.0 214.6h1.0M257.3 208.7h1.0M278.6 214.5h1.0M240.2 200.6h1.0M275.2 202.8h1.0M271.3 208.8h1.0M268.0 209.8h1.0M277.3 207.4h1.0M265.7 195.5h1.0M263.9 213.3h1.0M290.7 202.1h1.0M266.4 205.4h1.0M257.3 211.2h1.0M288.5 211.9h1.0M284.0 195.0h1.0M275.6 221.3h1.0M254.5 218.3h1.0M276.6 225.4h1.0M272.6 219.3h1.0M275.4 208.9h1.0M272.8 214.2h1.0M243.0 205.2h1.0M271.5 216.7h1.0M276.5 216.7h1.0M266.2 217.2h1.0M274.4 208.3h1.0M270.3 203.2h1.0M265.8 204.3h1.0M275.8 212.4h1.0M273.4 213.5h1.0M262.7 196.0h1.0M257.5 224.6h1.0M288.4 212.7h1.0M273.2 211.5h1.0M259.5 223.8h1.0M265.5 230.2h1.0M286.3 212.9h1.0M287.8 202.4h1.0M272.5 204.9h1.0M257.0 219.0h1.0M278.0 218.9h1.0M248.4 218.2h1.0M275.3 219.5h1.0M288.0 194.7h1.0M277.1 195.5h1.0M271.3 213.7h1.0M270.7 211.2h1.0M263.6 223.0h1.0M256.9 215.1h1.0M274.2 222.6h1.0M275.4 209.3h1.0M277.3 208.9h1.0M264.8 209.7h1.0M245.8 207.8h1.0M258.4 206.6h1.0M265.3 206.8h1.0M275.8 199.3h1.0M266.2 226.5h1.0M290.0 208.4h1.0M275.5 209.8h1.0M269.3 218.6h1.0M273.6 219.9h1.0M280.2 200.1h1.0M254.6 215.4h1.0M291.6 210.7h1.0M284.3 206.1h1.0M281.7 211.9h1.0M260.8 201.5h1.0M270.1 227.1h1.0M269.2 219.5h1.0M285.3 200.3h1.0M255.6 204.5h1.0M257.9 220.4h1.0M255.0 208.3h1.0M272.7 196.0h1.0M268.4 203.0h1.0M263.8 203.5h1.0M270.8 208.7h1.0M247.2 216.5h1.0M284.6 206.5h1.0M269.2 204.7h1.0M278.5 214.0h1.0M278.4 203.7h1.0M279.4 212.4h1.0M272.4 203.5h1.0M261.9 197.6h1.0M291.5 206.3h1.0M263.5 202.2h1.0M262.7 207.9h1.0M247.7 211.4h1.0M251.8 208.9h1.0M265.9 224.2h1.0M247.4 218.5h1.0M290.3 211.4h1.0M275.3 200.6h1.0M263.1 215.6h1.0M265.7 220.3h1.0M276.6 215.1h1.0M262.7 229.7h1.0M271.2 213.3h1.0M282.1 211.2h1.0M282.5 208.9h1.0M285.4 216.0h1.0M266.3 224.1h1.0M276.0 198.4h1.0M283.9 204.8h1.0M261.2 220.6h1.0M260.2 204.7h1.0M261.1 220.9h1.0M269.6 190.4h1.0M275.5 223.0h1.0M255.1 220.1h1.0M267.3 223.1h1.0M279.3 211.7h1.0M272.5 202.6h1.0M268.2 221.5h1.0M252.8 224.3h1.0M258.0 214.4h1.0M284.8 201.0h1.0M264.7 208.5h1.0M253.4 227.8h1.0M277.2 223.7h1.0M268.0 226.2h1.0M274.5 216.7h1.0M263.4 230.2h1.0M269.9 214.2h1.0M279.3 206.6h1.0M261.9 204.0h1.0M266.1 210.7h1.0M276.9 195.6h1.0M274.3 223.0h1.0M273.1 210.1h1.0M261.0 220.9h1.0M282.9 196.7h1.0M253.8 210.1h1.0M264.9 206.9h1.0M269.9 217.5h1.0M264.4 213.8h1.0M258.8 205.4h1.0M281.2 213.7h1.0M289.7 218.4h1.0M256.1 216.3h1.0M267.4 207.7h1.0M266.8 218.8h1.0M281.6 213.2h1.0M280.9 215.8h1.0M254.5 213.1h1.0M288.1 199.4h1.0M279.3 214.9h1.0M267.8 203.9h1.0M292.3 212.4h1.0M291.2 214.9h1.0M246.4 220.5h1.0M277.7 203.6h1.0M278.7 211.9h1.0M257.7 209.7h1.0M260.8 223.4h1.0M278.7 206.1h1.0M263.8 198.7h1.0M276.6 210.6h1.0M286.0 207.9h1.0M268.4 207.6h1.0M256.8 208.5h1.0M265.2 211.3h1.0M256.6 209.9h1.0M265.7 218.5h1.0M286.5 205.3h1.0M255.0 214.5h1.0M271.4 222.4h1.0M267.9 211.4h1.0M286.2 200.0h1.0M255.8 204.4h1.0M267.9 214.3h1.0M272.7 217.6h1.0M282.2 219.2h1.0M277.9 217.6h1.0M277.4 211.3h1.0M278.5 223.0h1.0M279.9 202.8h1.0M256.9 223.3h1.0M270.1 209.5h1.0M269.8 222.1h1.0M264.3 226.1h1.0M264.4 207.7h1.0M278.3 221.9h1.0M273.1 222.7h1.0M279.7 210.5h1.0M275.3 198.5h1.0M265.1 193.9h1.0M278.0 212.6h1.0M282.7 206.8h1.0M263.7 207.5h1.0M254.8 219.9h1.0M281.1 219.3h1.0M280.0 225.0h1.0M261.0 214.1h1.0M273.3 203.5h1.0M278.1 206.5h1.0M290.3 216.9h1.0M277.7 223.0h1.0M250.4 221.3h1.0M271.9 211.9h1.0M274.4 223.4h1.0M270.6 217.1h1.0M246.0 207.0h1.0M267.1 210.0h1.0M271.7 199.5h1.0M292.5 209.8h1.0M254.1 221.4h1.0M267.1 212.3h1.0M255.3 208.7h1.0M270.5 190.0h1.0M259.5 221.2h1.0M270.1 196.1h1.0M256.8 204.2h1.0M283.5 198.7h1.0M285.5 216.0h1.0M262.7 215.1h1.0M276.6 209.0h1.0M286.3 209.5h1.0M279.4 203.9h1.0M264.2 206.0h1.0M288.8 214.1h1.0M286.2 194.6h1.0M281.5 201.2h1.0M280.0 220.6h1.0M259.6 223.2h1.0M269.5 221.4h1.0M261.7 217.5h1.0M256.7 212.6h1.0M292.0 208.2h1.0M258.3 208.9h1.0M261.2 213.0h1.0M279.1 194.3h1.0M231.9 222.3h1.0M260.8 209.0h1.0M276.0 215.4h1.0M280.9 207.1h1.0M274.2 214.5h1.0M260.3 213.5h1.0M253.3 213.3h1.0M275.1 210.6h1.0M275.6 216.7h1.0M261.1 198.9h1.0M278.2 222.1h1.0M269.2 231.2h1.0M279.4 218.7h1.0M270.2 214.5h1.0M269.7 218.7h1.0M255.6 217.4h1.0M265.9 212.3h1.0M264.9 206.3h1.0M261.1 221.3h1.0M266.7 212.8h1.0M275.3 201.4h1.0M280.8 200.8h1.0M283.8 198.2h1.0M259.9 230.4h1.0M266.7 232.1h1.0M279.4 212.5h1.0M264.0 208.0h1.0M264.3 193.6h1.0M272.3 202.3h1.0M264.9 226.0h1.0M284.6 213.7h1.0M272.3 209.1h1.0M282.9 209.9h1.0M269.9 219.5h1.0M280.5 208.3h1.0M286.6 208.4h1.0M268.8 209.4h1.0M256.1 205.8h1.0M276.2 205.1h1.0M265.2 211.0h1.0M260.3 223.3h1.0M270.3 213.0h1.0M255.5 206.6h1.0M261.9 225.3h1.0M270.6 221.8h1.0M268.9 213.7h1.0M293.1 196.1h1.0M266.0 204.0h1.0M269.1 211.4h1.0M264.1 209.3h1.0M281.6 218.9h1.0M275.9 219.1h1.0M279.4 206.7h1.0M271.0 203.0h1.0M258.3 204.2h1.0M261.5 196.0h1.0M262.5 215.1h1.0M263.2 232.4h1.0M277.9 209.3h1.0M283.4 203.1h1.0M271.6 211.8h1.0M274.3 206.8h1.0M287.6 199.8h1.0M277.6 211.1h1.0M264.0 210.1h1.0M272.9 214.0h1.0M283.2 216.2h1.0M248.6 222.8h1.0M260.8 226.4h1.0M286.3 208.9h1.0M277.2 205.4h1.0M271.1 203.9h1.0M269.7 202.8h1.0M246.6 206.4h1.0M264.0 214.9h1.0M274.9 207.1h1.0M267.6 219.1h1.0M278.5 215.2h1.0M268.9 196.0h1.0M264.6 222.4h1.0M282.5 206.1h1.0M258.8 194.8h1.0M263.8 220.2h1.0M265.6 226.4h1.0M284.9 214.7h1.0M239.0 202.7h1.0M276.7 215.4h1.0M273.5 194.2h1.0M279.4 210.4h1.0M263.2 222.8h1.0M262.5 203.2h1.0M267.8 192.1h1.0M264.5 213.2h1.0M265.4 195.7h1.0M275.7 204.1h1.0M249.2 227.7h1.0M280.4 201.8h1.0M271.0 192.9h1.0M259.7 221.0h1.0M264.0 214.4h1.0M264.7 210.0h1.0M293.3 204.1h1.0M266.9 200.7h1.0M281.7 205.3h1.0M283.4 221.4h1.0M290.5 213.3h1.0M270.2 191.2h1.0M270.1 210.5h1.0M290.0 207.2h1.0M284.5 199.3h1.0M274.1 200.8h1.0M254.0 212.1h1.0M261.1 221.8h1.0M273.9 193.4h1.0M270.6 217.0h1.0M258.9 218.6h1.0M254.4 204.9h1.0M290.2 201.5h1.0M269.3 226.3h1.0M251.7 214.6h1.0M273.2 206.0h1.0M270.8 218.6h1.0M282.1 205.4h1.0M275.3 202.5h1.0M281.8 223.4h1.0M255.4 229.6h1.0M290.4 206.8h1.0M245.0 223.9h1.0M280.5 212.9h1.0M272.6 206.8h1.0M272.7 210.2h1.0M263.1 214.6h1.0M268.7 198.9h1.0M254.9 206.3h1.0M262.2 210.9h1.0M264.7 222.5h1.0M291.1 195.1h1.0M282.1 209.7h1.0M250.4 224.2h1.0M261.2 197.2h1.0M264.8 228.9h1.0M264.2 211.1h1.0M277.8 217.5h1.0M276.5 204.3h1.0M263.8 221.9h1.0M251.5 212.8h1.0M288.8 214.5h1.0M286.9 201.8h1.0M278.0 223.9h1.0M267.0 201.7h1.0M274.8 221.6h1.0M287.3 193.6h1.0M259.5 216.3h1.0M281.6 205.5h1.0M266.7 202.4h1.0M281.2 220.4h1.0M270.3 221.3h1.0M269.5 206.6h1.0M264.7 205.2h1.0M273.3 207.9h1.0M285.2 218.2h1.0M287.5 213.3h1.0M273.7 211.8h1.0M269.6 214.9h1.0M265.5 209.0h1.0M277.2 204.1h1.0M251.9 205.1h1.0M250.3 213.8h1.0M251.3 217.1h1.0M269.5 206.9h1.0M251.3 228.5h1.0M258.2 216.0h1.0M293.2 207.5h1.0M288.9 199.2h1.0M258.2 210.5h1.0M272.4 191.8h1.0M263.8 217.4h1.0M267.6 201.4h1.0M278.1 210.8h1.0M265.4 197.2h1.0M279.2 207.6h1.0M240.0 221.8h1.0M233.4 204.7h1.0M275.2 211.2h1.0M286.2 219.5h1.0M264.2 198.3h1.0M267.6 206.9h1.0M266.3 215.6h1.0M286.3 217.5h1.0M259.9 207.0h1.0M270.5 222.3h1.0M264.9 212.7h1.0M271.1 209.9h1.0M262.1 230.8h1.0M276.6 210.1h1.0M272.0 222.1h1.0M276.8 194.6h1.0M277.4 211.9h1.0M292.6 201.5h1.0M276.7 199.0h1.0M274.5 215.4h1.0M269.1 206.1h1.0M276.7 191.3h1.0M279.3 209.7h1.0M260.8 209.5h1.0M270.2 195.2h1.0M277.2 207.7h1.0M279.3 199.9h1.0M263.6 199.8h1.0M274.1 220.2h1.0M275.9 204.7h1.0M273.9 198.5h1.0M272.0 205.5h1.0M283.7 206.4h1.0M262.3 220.7h1.0M274.2 209.3h1.0M282.1 204.5h1.0M266.0 219.0h1.0M252.2 204.0h1.0M255.0 219.5h1.0M254.1 216.5h1.0M283.9 208.7h1.0M276.8 208.1h1.0M291.6 213.3h1.0M280.8 207.8h1.0M272.6 199.8h1.0M258.7 205.9h1.0M281.5 219.5h1.0M259.6 210.9h1.0M278.6 213.9h1.0M277.6 203.3h1.0M265.7 202.7h1.0M282.6 191.8h1.0M266.3 229.0h1.0M256.5 210.0h1.0M274.3 200.6h1.0M274.2 218.5h1.0M283.9 203.7h1.0M267.6 212.8h1.0M267.3 225.4h1.0M254.2 220.8h1.0M274.0 218.9h1.0M274.7 209.3h1.0M290.0 216.9h1.0M264.7 208.8h1.0M285.9 205.2h1.0M267.7 232.3h1.0M248.7 215.4h1.0M272.9 201.5h1.0M263.7 206.7h1.0M265.4 215.7h1.0M263.6 204.9h1.0M284.3 205.8h1.0M269.1 212.1h1.0M263.7 224.2h1.0M245.2 219.3h1.0M249.8 218.3h1.0M256.0 214.3h1.0M266.5 218.2h1.0M262.8 197.2h1.0M268.2 209.5h1.0M258.4 211.1h1.0M247.6 211.6h1.0M255.9 214.9h1.0M295.2 208.0h1.0M245.6 224.1h1.0M282.1 205.2h1.0M257.9 194.7h1.0M280.5 202.3h1.0M276.4 224.5h1.0M274.5 203.1h1.0M258.2 210.0h1.0M282.0 205.9h1.0M261.9 215.6h1.0M278.9 221.1h1.0M250.6 204.1h1.0M281.1 199.3h1.0M273.6 211.6h1.0M271.8 211.4h1.0M262.1 202.8h1.0M296.0 204.8h1.0M276.9 214.0h1.0M270.7 199.6h1.0M277.1 215.7h1.0M269.0 217.9h1.0M277.8 213.7h1.0M253.8 214.4h1.0M279.6 219.0h1.0M279.0 220.0h1.0M271.8 227.5h1.0M257.1 210.8h1.0M258.4 214.9h1.0M260.0 207.3h1.0M279.6 222.6h1.0M284.7 217.8h1.0M267.2 210.4h1.0M275.6 201.3h1.0M259.8 211.8h1.0M271.9 209.4h1.0M270.2 195.7h1.0M283.9 201.8h1.0M272.7 226.0h1.0M280.2 219.9h1.0M275.4 216.4h1.0M290.4 213.2h1.0M285.5 200.9h1.0M251.5 220.4h1.0M266.8 209.9h1.0M266.2 211.7h1.0M265.1 229.9h1.0M285.7 216.3h1.0M271.3 218.2h1.0M276.7 217.0h1.0M283.1 208.7h1.0M267.4 194.5h1.0M258.9 224.4h1.0M252.0 208.5h1.0M269.7 223.6h1.0M273.3 214.2h1.0M271.7 208.7h1.0M252.9 211.3h1.0M272.0 218.7h1.0M295.1 213.1h1.0M268.2 230.7h1.0M282.2 203.5h1.0M278.9 207.9h1.0M253.4 218.1h1.0M277.8 201.5h1.0M292.7 199.3h1.0M274.9 204.3h1.0M285.4 209.6h1.0M273.5 191.0h1.0M283.8 213.9h1.0M259.1 211.6h1.0M266.0 209.4h1.0M292.7 211.7h1.0M270.3 204.0h1.0M288.6 218.5h1.0M239.3 202.9h1.0M264.3 215.4h1.0M274.9 217.8h1.0M273.5 223.4h1.0M262.9 201.8h1.0M272.2 211.0h1.0M273.3 200.0h1.0M248.7 218.7h1.0M266.3 199.1h1.0M263.9 213.0h1.0M263.0 229.0h1.0M275.4 203.7h1.0M260.6 224.5h1.0M268.9 218.6h1.0M273.7 210.4h1.0M264.5 195.4h1.0M264.4 220.6h1.0M269.0 218.5h1.0M268.9 208.3h1.0M280.3 205.5h1.0M282.4 200.5h1.0M274.6 210.5h1.0M244.0 219.6h1.0M260.9 221.8h1.0M261.0 230.0h1.0M246.0 226.4h1.0M279.6 209.3h1.0M269.6 220.0h1.0M258.5 208.4h1.0M255.9 212.0h1.0M269.0 217.9h1.0M264.1 218.5h1.0M275.9 208.7h1.0M267.7 204.9h1.0M267.4 203.5h1.0M257.6 208.6h1.0M283.7 207.9h1.0M259.8 199.3h1.0M268.7 210.0h1.0M266.3 207.2h1.0M265.7 194.3h1.0M270.5 223.8h1.0M273.8 197.6h1.0M280.8 202.1h1.0M271.7 218.3h1.0M275.7 200.8h1.0M263.6 223.3h1.0M281.0 214.4h1.0M285.3 193.9h1.0M279.7 210.8h1.0M268.6 219.6h1.0M279.2 208.1h1.0M283.7 198.1h1.0M258.9 214.4h1.0M251.7 224.1h1.0M273.9 204.1h1.0M248.6 222.1h1.0M277.2 193.5h1.0M295.2 204.9h1.0M252.2 204.2h1.0M266.8 190.9h1.0M252.1 205.4h1.0M259.9 222.2h1.0M283.2 189.4h1.0M272.8 208.4h1.0M293.3 214.8h1.0M268.6 193.2h1.0M261.2 205.7h1.0M258.4 229.5h1.0M276.4 229.2h1.0M250.9 207.7h1.0M268.0 216.5h1.0M274.1 208.9h1.0M278.0 210.9h1.0M282.0 207.9h1.0M276.3 225.3h1.0M264.8 228.9h1.0M277.2 195.5h1.0M259.9 216.9h1.0M287.5 212.6h1.0M255.0 226.7h1.0M257.9 227.5h1.0M253.6 205.8h1.0M287.4 201.1h1.0M282.2 198.6h1.0M260.1 212.9h1.0M278.5 208.2h1.0M281.7 215.7h1.0M271.8 198.7h1.0M256.8 198.8h1.0M279.7 205.8h1.0M286.5 213.4h1.0M273.6 209.4h1.0M269.5 213.1h1.0M275.0 190.6h1.0M291.0 197.8h1.0M242.7 221.9h1.0M260.1 191.5h1.0M279.9 205.2h1.0M274.2 200.7h1.0M283.8 193.9h1.0M230.6 215.0h1.0M267.3 192.3h1.0M276.1 210.7h1.0M275.6 213.5h1.0M254.3 205.6h1.0M284.1 191.2h1.0M258.0 193.6h1.0M284.5 204.3h1.0M257.4 201.4h1.0M295.4 202.9h1.0M252.2 209.2h1.0M285.1 220.2h1.0M258.8 221.5h1.0M269.6 210.4h1.0M282.0 219.1h1.0M292.7 209.1h1.0M271.6 208.0h1.0M271.9 220.2h1.0M270.7 203.1h1.0M255.9 221.8h1.0M253.0 205.3h1.0M277.1 198.8h1.0M245.3 228.2h1.0M277.4 194.0h1.0M257.2 194.5h1.0M261.6 228.9h1.0M270.4 231.4h1.0M279.4 197.9h1.0M262.5 213.6h1.0M295.3 207.3h1.0M255.1 213.7h1.0M270.7 221.9h1.0M282.1 200.8h1.0M249.9 213.6h1.0M246.5 200.3h1.0M283.7 206.6h1.0M252.2 199.3h1.0M270.4 218.5h1.0M264.4 194.0h1.0M259.2 225.4h1.0M275.8 227.0h1.0M280.5 220.0h1.0M279.6 216.7h1.0M259.8 200.6h1.0M262.3 212.6h1.0M282.5 225.4h1.0M275.4 214.9h1.0M266.2 205.0h1.0M256.7 201.5h1.0M288.9 211.5h1.0M266.2 219.0h1.0M268.4 224.5h1.0M269.0 222.5h1.0M273.9 190.2h1.0M277.3 214.5h1.0M263.4 218.6h1.0M261.4 195.3h1.0M241.6 213.1h1.0M268.2 200.3h1.0M258.7 191.3h1.0M266.4 211.4h1.0M276.8 220.9h1.0M258.7 197.7h1.0M255.1 194.2h1.0M261.1 203.7h1.0M256.0 225.2h1.0M276.5 197.2h1.0M247.2 198.9h1.0M278.0 216.3h1.0M282.3 204.4h1.0M271.7 232.3h1.0M276.0 216.0h1.0M277.5 210.2h1.0M253.4 199.2h1.0M277.9 209.7h1.0M268.3 214.5h1.0M276.0 194.4h1.0M253.5 212.9h1.0M267.4 217.8h1.0M295.3 207.2h1.0M284.6 214.0h1.0M282.9 188.8h1.0M257.0 218.9h1.0M286.6 219.6h1.0M271.3 214.3h1.0M258.1 223.4h1.0M251.9 202.6h1.0M285.9 202.6h1.0M270.9 205.9h1.0M263.6 205.1h1.0M275.1 215.9h1.0M251.7 223.9h1.0M262.5 220.8h1.0M283.9 211.4h1.0M275.6 228.1h1.0M270.7 217.8h1.0M262.6 206.8h1.0M268.5 201.7h1.0M286.9 218.5h1.0M275.3 191.2h1.0M269.8 229.4h1.0M288.0 204.9h1.0M270.9 228.0h1.0M270.2 205.1h1.0M285.8 216.4h1.0M274.6 194.7h1.0M274.0 206.3h1.0M287.7 201.6h1.0M283.6 197.8h1.0M286.8 196.1h1.0M273.9 207.7h1.0M244.6 207.7h1.0M261.2 203.7h1.0M276.2 204.4h1.0M261.2 193.0h1.0M279.5 216.1h1.0M288.0 208.7h1.0M273.1 223.7h1.0M264.0 214.4h1.0M266.7 229.7h1.0M267.7 192.0h1.0M296.0 209.3h1.0M267.3 217.5h1.0M275.1 196.4h1.0M275.5 195.2h1.0M274.1 216.8h1.0M279.3 209.4h1.0M292.0 210.9h1.0M261.8 217.7h1.0M279.0 188.3h1.0M290.1 220.8h1.0M265.3 216.5h1.0M283.9 208.6h1.0M271.8 218.5h1.0M263.5 205.3h1.0M248.3 205.2h1.0M258.9 208.1h1.0M272.6 193.0h1.0M277.7 188.8h1.0M274.4 219.6h1.0M282.0 189.8h1.0M253.7 212.3h1.0M291.1 197.2h1.0M238.9 216.8h1.0M242.1 207.2h1.0M269.8 213.9h1.0M258.6 214.4h1.0M280.7 204.6h1.0M255.6 195.5h1.0M286.8 204.4h1.0M277.4 191.6h1.0M282.0 191.8h1.0M288.3 216.8h1.0M247.2 219.4h1.0M262.4 227.8h1.0M256.6 224.7h1.0M270.7 201.3h1.0M257.9 206.6h1.0M280.2 192.2h1.0M277.3 214.6h1.0M264.4 205.0h1.0M226.1 219.0h1.0M266.3 199.3h1.0M276.4 202.2h1.0M249.9 222.1h1.0M255.9 201.3h1.0M273.3 192.0h1.0M280.9 220.2h1.0M277.1 200.7h1.0M241.5 208.1h1.0M263.4 213.2h1.0M259.3 229.1h1.0M278.5 219.1h1.0M264.6 196.7h1.0M271.2 204.5h1.0M282.1 194.7h1.0M283.4 209.1h1.0M263.5 227.5h1.0M249.6 204.6h1.0M259.8 201.1h1.0M287.4 212.2h1.0M294.4 203.7h1.0M269.5 190.8h1.0M276.3 203.4h1.0M263.7 222.9h1.0M257.8 225.4h1.0M274.8 200.3h1.0M260.9 214.9h1.0M240.5 216.8h1.0M257.2 217.3h1.0M258.4 221.7h1.0M276.9 203.7h1.0M274.6 207.5h1.0M265.3 205.2h1.0M286.0 200.1h1.0M259.8 220.4h1.0M257.2 213.8h1.0M262.9 221.9h1.0M273.2 208.2h1.0M262.7 226.6h1.0M256.2 207.9h1.0M281.9 217.7h1.0M294.1 204.0h1.0M283.9 219.1h1.0M274.7 196.1h1.0M257.8 218.8h1.0M281.3 211.3h1.0M274.0 216.9h1.0M280.6 193.8h1.0M247.0 224.6h1.0M268.5 196.8h1.0M279.6 206.8h1.0M277.7 221.3h1.0M275.9 202.5h1.0M264.1 203.2h1.0M273.7 197.7h1.0M252.3 219.1h1.0M277.6 195.1h1.0M253.3 228.1h1.0M274.7 198.0h1.0M259.4 223.8h1.0M282.8 201.6h1.0M261.5 211.2h1.0M267.8 208.8h1.0M260.2 193.1h1.0M276.6 196.2h1.0M264.8 219.8h1.0M267.5 214.4h1.0M289.4 210.0h1.0M245.0 226.6h1.0M281.3 218.9h1.0M258.0 204.3h1.0M249.3 201.0h1.0M249.7 209.6h1.0M264.4 205.4h1.0M272.1 223.4h1.0M275.4 207.6h1.0M241.8 215.9h1.0M272.3 196.7h1.0M275.4 214.8h1.0M292.7 216.2h1.0M257.9 225.8h1.0M234.0 210.1h1.0M265.6 208.4h1.0M278.8 190.9h1.0M258.9 205.4h1.0M294.3 207.6h1.0M246.1 203.5h1.0M261.3 199.6h1.0M260.2 222.4h1.0M289.2 209.2h1.0M288.7 192.6h1.0M275.3 224.1h1.0M268.3 230.0h1.0M252.0 224.9h1.0M247.2 203.2h1.0M284.3 195.0h1.0M279.6 205.1h1.0M269.0 192.8h1.0M260.0 194.1h1.0M282.6 206.4h1.0M283.6 201.2h1.0M270.2 228.9h1.0M257.0 197.7h1.0M278.2 192.1h1.0M277.9 202.4h1.0M282.0 196.2h1.0M252.9 211.1h1.0M271.1 202.8h1.0M243.8 213.3h1.0M261.8 216.0h1.0M267.6 198.0h1.0M264.2 200.8h1.0M278.3 200.3h1.0M258.8 224.1h1.0M291.1 195.7h1.0M284.3 200.4h1.0M269.4 200.2h1.0M273.9 193.3h1.0M283.6 217.4h1.0M292.2 198.5h1.0M284.2 215.7h1.0M255.6 219.1h1.0M274.0 194.4h1.0M279.4 224.5h1.0M246.4 224.4h1.0M242.6 211.9h1.0M266.2 201.7h1.0M263.1 214.4h1.0M286.9 222.2h1.0M257.5 209.3h1.0M238.0 205.9h1.0M255.7 218.8h1.0M293.0 195.6h1.0M286.8 212.4h1.0M253.1 223.4h1.0M273.5 228.0h1.0M240.8 207.5h1.0M287.7 215.3h1.0M285.3 198.8h1.0M256.1 222.3h1.0M292.9 195.8h1.0M268.9 197.2h1.0M242.8 223.7h1.0M261.1 195.7h1.0M274.2 221.4h1.0M257.4 221.9h1.0M254.4 198.4h1.0M271.3 216.6h1.0M283.4 204.4h1.0M252.3 221.3h1.0M272.6 206.8h1.0M269.3 199.9h1.0M250.1 229.1h1.0M243.4 206.9h1.0M265.7 220.6h1.0M281.2 192.0h1.0M287.2 214.5h1.0M263.4 203.3h1.0M257.2 207.2h1.0M268.2 209.4h1.0M281.2 224.1h1.0M260.5 197.9h1.0M264.4 197.0h1.0M256.7 192.0h1.0M277.9 205.8h1.0M282.7 208.3h1.0M256.4 203.8h1.0M262.5 207.5h1.0M261.0 223.7h1.0M285.9 193.7h1.0M270.0 223.0h1.0M265.6 210.3h1.0M259.1 204.4h1.0M259.5 202.4h1.0M283.9 203.4h1.0M274.2 207.5h1.0M270.0 232.9h1.0M272.5 222.9h1.0M279.8 210.9h1.0M284.2 205.5h1.0M278.1 214.3h1.0M249.8 211.4h1.0M281.9 218.7h1.0M277.0 194.4h1.0M258.9 209.3h1.0M251.0 218.9h1.0M258.5 206.5h1.0M280.8 209.7h1.0M254.9 208.4h1.0M251.6 215.7h1.0M242.5 207.2h1.0M278.6 213.8h1.0M266.7 223.8h1.0M280.0 214.6h1.0M271.9 198.0h1.0M249.9 212.3h1.0M281.2 214.0h1.0M278.6 192.5h1.0M274.4 208.5h1.0M272.3 191.2h1.0M272.3 202.2h1.0M246.7 199.9h1.0M276.0 212.2h1.0M239.7 203.3h1.0M265.0 203.7h1.0M250.4 224.1h1.0M249.7 219.4h1.0M257.9 220.4h1.0M284.3 214.6h1.0M265.3 195.3h1.0M271.7 229.0h1.0M269.5 217.0h1.0M283.0 192.0h1.0M277.7 209.0h1.0M268.1 208.4h1.0M276.9 211.5h1.0M257.3 199.5h1.0M291.8 205.5h1.0M252.1 200.1h1.0M253.7 198.8h1.0M279.8 221.3h1.0M292.9 197.4h1.0M267.4 195.2h1.0M255.1 204.1h1.0M273.7 192.3h1.0M250.7 215.7h1.0M290.2 218.8h1.0M252.9 228.5h1.0M286.1 212.0h1.0M285.6 211.3h1.0M266.9 200.3h1.0M252.7 219.4h1.0M245.1 209.3h1.0M287.5 201.3h1.0M275.2 204.0h1.0M269.4 194.1h1.0M288.6 202.0h1.0M290.2 221.6h1.0M277.6 223.7h1.0M281.9 213.3h1.0M274.0 193.7h1.0M273.2 204.1h1.0M227.9 212.0h1.0M274.1 208.3h1.0M259.6 211.9h1.0M273.4 188.2h1.0M275.0 213.2h1.0M274.7 221.9h1.0M260.5 206.8h1.0M258.8 205.6h1.0M271.5 198.2h1.0M278.1 211.6h1.0M274.0 212.6h1.0M269.5 199.2h1.0M269.2 223.6h1.0M279.6 190.3h1.0M284.9 205.1h1.0M268.6 205.7h1.0M226.6 219.9h1.0M219.4 215.1h1.0M243.2 203.6h1.0M236.4 223.9h1.0M237.1 204.3h1.0M227.3 216.0h1.0M249.1 223.7h1.0M206.0 212.7h1.0M245.6 199.5h1.0M229.7 213.9h1.0M239.4 203.7h1.0M203.2 214.3h1.0M243.6 229.1h1.0M224.5 208.8h1.0M229.3 220.8h1.0M245.7 205.9h1.0M246.1 226.5h1.0M236.7 205.3h1.0M223.2 211.1h1.0M203.7 214.2h1.0M219.2 213.2h1.0M224.9 214.8h1.0M223.3 213.3h1.0M219.9 209.8h1.0M243.8 211.5h1.0M245.0 221.0h1.0M239.3 200.0h1.0M228.4 221.9h1.0M237.4 210.4h1.0M226.9 210.4h1.0M233.7 218.1h1.0M222.5 210.0h1.0M236.0 210.3h1.0M238.1 210.8h1.0M243.1 227.4h1.0M227.7 220.3h1.0M238.0 211.7h1.0M223.0 216.3h1.0M237.1 215.0h1.0M242.3 226.4h1.0M210.6 209.2h1.0M249.5 213.8h1.0M240.0 213.1h1.0M240.2 200.9h1.0M244.4 203.0h1.0M239.1 203.2h1.0M246.0 210.9h1.0M249.8 211.6h1.0M246.5 227.3h1.0M245.2 225.2h1.0M247.5 202.8h1.0M233.9 208.6h1.0M209.9 209.2h1.0M246.5 208.1h1.0M248.8 205.3h1.0M208.4 211.4h1.0M240.7 203.9h1.0M228.8 217.4h1.0M231.4 217.4h1.0M234.7 204.8h1.0M242.9 222.4h1.0M224.2 213.8h1.0M222.6 215.7h1.0M227.0 213.8h1.0M232.9 215.2h1.0M226.3 213.1h1.0M249.4 225.5h1.0M235.0 219.1h1.0M249.8 199.4h1.0M245.6 215.1h1.0M249.1 206.6h1.0M222.1 208.2h1.0M229.1 217.7h1.0M222.8 216.3h1.0M241.1 208.0h1.0M221.1 217.9h1.0M246.3 225.7h1.0M247.1 213.8h1.0M229.6 215.1h1.0M238.9 222.6h1.0M230.4 214.2h1.0M244.1 213.3h1.0M246.7 209.8h1.0M242.6 216.2h1.0M204.6 211.9h1.0M235.9 208.7h1.0M247.0 214.5h1.0M246.3 209.6h1.0M247.3 224.2h1.0M204.4 217.6h1.0M236.5 202.8h1.0M233.1 220.8h1.0M205.7 214.4h1.0M248.0 207.5h1.0M229.9 213.3h1.0M242.8 222.0h1.0M241.9 219.1h1.0M240.4 216.5h1.0M206.1 216.5h1.0M223.3 208.8h1.0M246.1 224.1h1.0M231.8 216.2h1.0M219.4 210.0h1.0M234.5 224.3h1.0M238.7 216.2h1.0M248.2 220.4h1.0M247.5 203.1h1.0M230.3 221.2h1.0M212.6 213.5h1.0M208.0 214.2h1.0M243.1 208.7h1.0M244.7 214.6h1.0M244.3 225.9h1.0M224.4 215.2h1.0M228.8 219.1h1.0M246.9 219.7h1.0M229.9 217.3h1.0M240.7 210.0h1.0M229.4 216.9h1.0M219.6 212.3h1.0M244.1 218.3h1.0M223.4 216.1h1.0M234.9 220.1h1.0M245.6 221.9h1.0M240.7 217.8h1.0M248.2 228.3h1.0M229.7 223.4h1.0M224.1 218.9h1.0M237.5 224.9h1.0M210.2 212.0h1.0M239.9 217.1h1.0M211.0 212.3h1.0M212.5 213.1h1.0M208.9 211.1h1.0M226.3 211.4h1.0M232.7 213.3h1.0M226.0 214.6h1.0M227.3 214.5h1.0M240.3 205.0h1.0M245.8 208.1h1.0M236.8 208.1h1.0M247.2 207.8h1.0M249.1 210.3h1.0M242.9 199.2h1.0M202.3 213.9h1.0M225.8 217.9h1.0M249.4 226.7h1.0M240.7 216.1h1.0M246.4 213.2h1.0M205.1 214.9h1.0M224.9 213.7h1.0M226.8 213.6h1.0M228.4 215.7h1.0M232.7 206.3h1.0M247.0 226.8h1.0M225.4 215.5h1.0M238.6 211.1h1.0M240.9 220.1h1.0M243.6 222.1h1.0M224.6 212.7h1.0M210.3 209.6h1.0M207.0 212.4h1.0M248.4 204.5h1.0M232.1 217.7h1.0M212.6 214.3h1.0M208.5 210.3h1.0M247.4 202.7h1.0M246.6 210.3h1.0M234.8 221.1h1.0M245.4 218.1h1.0M234.7 212.5h1.0M243.1 210.2h1.0M205.9 215.9h1.0M225.8 219.1h1.0M243.4 209.2h1.0M247.3 227.7h1.0M249.6 211.7h1.0M237.1 217.8h1.0M240.6 207.5h1.0M232.1 223.8h1.0M248.6 212.2h1.0M243.8 201.4h1.0M232.3 220.1h1.0M224.1 210.6h1.0M246.5 211.0h1.0M227.6 216.9h1.0M243.6 203.9h1.0M232.5 214.9h1.0M230.2 213.5h1.0M201.5 215.8h1.0M241.5 213.4h1.0M222.2 217.6h1.0M238.6 212.8h1.0M223.3 217.5h1.0M241.7 211.1h1.0M234.2 216.3h1.0M239.2 213.4h1.0M234.9 216.1h1.0M230.9 224.4h1.0M247.4 211.7h1.0M234.2 223.2h1.0M237.4 205.3h1.0M254.1 211.5h1.0M242.8 228.4h1.0M225.8 210.3h1.0M248.0 210.4h1.0M234.0 211.9h1.0M235.4 210.3h1.0M242.4 214.3h1.0M255.5 216.6h1.0M255.0 214.8h1.0M255.7 212.1h1.0M250.6 215.1h1.0M254.5 205.7h1.0M233.9 217.4h1.0M236.7 218.7h1.0M243.0 200.0h1.0M222.4 215.2h1.0M256.1 204.3h1.0M237.3 212.9h1.0M249.2 222.0h1.0M234.0 222.5h1.0M239.1 221.4h1.0M226.1 214.4h1.0M237.1 219.9h1.0M245.2 208.3h1.0M237.4 211.8h1.0M232.4 206.9h1.0M238.9 212.1h1.0M255.1 229.5h1.0M249.8 212.3h1.0M221.1 210.0h1.0M221.2 214.3h1.0M240.8 207.9h1.0M232.8 212.5h1.0M243.7 209.8h1.0M254.8 204.4h1.0M232.1 208.4h1.0M243.4 209.9h1.0M240.7 213.5h1.0M239.0 224.2h1.0M241.9 212.2h1.0M234.8 208.1h1.0M234.0 219.1h1.0M248.4 218.2h1.0M231.1 218.4h1.0M240.9 207.5h1.0M238.9 200.4h1.0M227.5 211.7h1.0M232.4 208.0h1.0M229.2 217.0h1.0M248.2 203.4h1.0M240.3 208.4h1.0M240.2 223.5h1.0M240.2 211.5h1.0M227.5 223.6h1.0M243.3 211.0h1.0M230.1 208.2h1.0M223.1 213.4h1.0M221.3 209.6h1.0M248.8 217.9h1.0M247.0 213.9h1.0M245.1 211.5h1.0M225.4 217.3h1.0M237.1 204.9h1.0M241.2 218.6h1.0M248.2 211.6h1.0M211.8 211.1h1.0M231.5 215.3h1.0M239.1 205.0h1.0M241.8 214.8h1.0M227.3 220.2h1.0M239.6 210.8h1.0M241.0 204.8h1.0M229.9 211.6h1.0M240.0 219.7h1.0M255.1 226.7h1.0M258.1 204.4h1.0M253.8 208.8h1.0M238.7 212.7h1.0M240.9 227.7h1.0M225.3 215.8h1.0M239.0 216.7h1.0M256.4 213.3h1.0M224.1 217.2h1.0M237.4 214.5h1.0M241.2 218.8h1.0M236.6 208.4h1.0M253.1 227.9h1.0M238.2 207.3h1.0M226.0 210.3h1.0M231.0 215.7h1.0M233.0 204.0h1.0M241.5 210.6h1.0M251.3 208.6h1.0M236.5 204.1h1.0M249.8 209.7h1.0M243.7 203.8h1.0M232.0 210.0h1.0M229.3 220.0h1.0M246.1 224.5h1.0M237.5 219.2h1.0M225.6 210.3h1.0M247.8 213.8h1.0M236.8 201.9h1.0M234.6 219.6h1.0M241.6 209.2h1.0M244.2 202.2h1.0M227.8 214.4h1.0M223.3 210.6h1.0M242.4 199.8h1.0M239.3 216.8h1.0M231.2 216.2h1.0M243.9 216.7h1.0M231.0 220.8h1.0M234.3 214.5h1.0M242.1 213.7h1.0M243.4 208.4h1.0M236.0 217.4h1.0M231.7 209.5h1.0M232.2 204.9h1.0M239.8 220.0h1.0M241.8 222.3h1.0M242.4 226.7h1.0M252.8 208.0h1.0M234.1 219.5h1.0M242.5 214.5h1.0M231.0 208.4h1.0M235.5 214.6h1.0M208.3 214.9h1.0M245.2 214.0h1.0M222.4 209.5h1.0M226.5 219.7h1.0M243.9 221.3h1.0M240.7 201.4h1.0M282.3 214.6h1.0M285.5 200.8h1.0M253.6 209.1h1.0M243.0 207.2h1.0M248.5 213.0h1.0M230.1 219.0h1.0M239.3 209.2h1.0M255.4 194.3h1.0M258.0 195.0h1.0M259.1 197.1h1.0M253.6 199.5h1.0M259.9 194.1h1.0M273.0 230.6h1.0M232.6 214.5h1.0M286.5 193.3h1.0M209.6 213.6h1.0M202.9 216.4h1.0M203.0 212.6h1.0M203.0 215.0h1.0" stroke="#0404dc" stroke-opacity="0.9"/><path d="M264.1 206.2h1.0M276.6 197.9h1.0M271.0 232.7h1.0M285.9 216.8h1.0M265.4 229.5h1.0M266.7 224.5h1.0M285.6 204.1h1.0M284.7 212.5h1.0M288.0 196.7h1.0M264.7 219.2h1.0M283.4 199.8h1.0M288.6 216.9h1.0M267.8 224.7h1.0M285.8 200.6h1.0M251.4 216.6h1.0M257.0 213.7h1.0M255.9 209.5h1.0M282.5 220.9h1.0M286.1 223.1h1.0M253.7 220.4h1.0M264.9 221.6h1.0M254.5 211.8h1.0M259.1 206.6h1.0M260.0 218.0h1.0M270.3 200.3h1.0M260.1 222.8h1.0M257.3 211.4h1.0M269.7 222.9h1.0M249.8 214.6h1.0M283.7 203.3h1.0M273.7 221.5h1.0M286.2 201.8h1.0M287.7 201.1h1.0M279.1 191.7h1.0M259.2 209.2h1.0M257.3 210.4h1.0M281.8 197.0h1.0M288.3 206.9h1.0M286.1 197.5h1.0M251.6 219.2h1.0M287.2 201.0h1.0M254.1 207.6h1.0M278.2 221.9h1.0M250.3 229.9h1.0M258.9 207.9h1.0M277.7 219.2h1.0M244.4 207.2h1.0M258.9 202.9h1.0M265.0 196.7h1.0M267.7 201.0h1.0M265.1 204.9h1.0M270.5 199.2h1.0M262.9 226.6h1.0M279.5 196.3h1.0M286.0 201.1h1.0M271.4 198.4h1.0M241.1 205.6h1.0M281.8 193.5h1.0M267.5 225.1h1.0M287.7 198.8h1.0M282.5 214.0h1.0M255.4 199.2h1.0M282.7 194.4h1.0M282.9 199.8h1.0M272.2 196.2h1.0M258.1 198.9h1.0M261.4 220.7h1.0M287.3 213.5h1.0M293.5 202.7h1.0M251.2 205.8h1.0M277.8 199.8h1.0M268.2 202.7h1.0M248.5 224.7h1.0M243.2 209.1h1.0M244.2 213.6h1.0M233.6 208.5h1.0M227.5 215.9h1.0M246.8 213.3h1.0M242.6 208.7h1.0M242.2 205.5h1.0M251.3 219.9h1.0M211.8 215.3h1.0M202.9 215.9h1.0M202.9 213.5h1.0M202.8 224.0h1.0" stroke="#1a8cff" stroke-opacity="0.95"/><path d="M257.5 216.1h1.0M255.2 213.9h1.0M284.5 206.6h1.0M279.5 218.4h1.0M281.2 218.6h1.0M266.0 206.2h1.0M278.4 205.2h1.0M265.3 205.0h1.0M262.2 223.0h1.0M274.7 204.1h1.0M267.9 209.5h1.0M274.1 201.6h1.0M282.8 201.8h1.0M273.0 205.7h1.0M262.7 209.9h1.0M285.3 205.7h1.0M275.5 225.3h1.0M262.9 207.5h1.0M270.2 217.9h1.0M271.0 216.1h1.0M271.7 220.2h1.0M265.3 214.0h1.0M261.4 211.0h1.0M281.1 208.9h1.0M267.9 215.5h1.0M265.3 224.2h1.0M264.4 216.6h1.0M270.3 220.0h1.0M261.1 217.1h1.0M259.0 212.4h1.0M275.4 217.6h1.0M283.8 221.3h1.0M264.3 216.7h1.0M272.3 200.0h1.0M280.2 204.3h1.0M259.5 207.5h1.0M276.7 201.8h1.0M281.7 207.8h1.0M263.7 217.6h1.0M281.3 212.7h1.0M271.0 203.1h1.0M280.9 206.5h1.0M264.3 206.7h1.0M280.1 198.9h1.0M279.4 204.9h1.0M278.0 211.7h1.0M254.5 218.9h1.0M270.7 219.0h1.0M272.2 201.4h1.0M268.2 203.7h1.0M273.9 212.0h1.0M259.5 221.3h1.0M272.2 205.4h1.0M262.6 228.1h1.0M284.6 214.9h1.0M279.0 205.6h1.0M269.9 218.2h1.0M264.0 205.1h1.0M253.4 221.9h1.0M259.0 216.2h1.0M262.1 221.1h1.0M262.8 219.0h1.0M265.7 204.2h1.0M275.7 207.6h1.0M268.2 207.4h1.0M268.3 222.1h1.0M275.3 204.3h1.0M282.2 206.6h1.0M276.2 221.2h1.0M275.4 217.1h1.0M263.7 213.7h1.0M274.3 214.9h1.0M267.3 223.9h1.0M280.6 201.5h1.0M278.7 201.4h1.0M279.3 223.4h1.0M259.1 212.3h1.0M266.8 220.4h1.0M262.6 213.3h1.0M257.5 213.9h1.0M262.7 218.0h1.0M272.6 200.7h1.0M271.9 219.5h1.0M270.3 207.5h1.0M276.8 213.4h1.0M282.6 205.7h1.0M260.9 210.8h1.0M272.3 214.6h1.0M259.2 211.8h1.0M258.8 211.9h1.0M274.1 207.2h1.0M262.3 215.3h1.0M265.0 190.1h1.0M287.4 204.8h1.0M284.3 209.1h1.0M272.2 218.6h1.0M262.9 215.7h1.0M280.4 210.5h1.0M246.9 202.3h1.0M267.4 221.3h1.0M266.7 205.7h1.0M278.9 204.0h1.0M269.1 201.0h1.0M275.5 209.4h1.0M259.1 226.3h1.0M275.7 220.1h1.0M234.8 205.0h1.0M286.7 211.1h1.0M267.2 214.4h1.0M256.7 213.8h1.0M267.7 217.8h1.0M284.0 211.0h1.0M228.4 217.6h1.0M248.0 211.4h1.0M257.8 207.4h1.0M252.4 216.2h1.0M236.1 215.2h1.0M258.2 215.7h1.0M238.1 212.4h1.0M263.5 201.1h1.0M203.0 222.0h1.0M202.8 215.2h1.0M202.8 217.2h1.0" stroke="#18d8c0" stroke-opacity="0.95"/><path d="M261.2 207.3h1.0M276.8 208.0h1.0M270.8 211.7h1.0M266.5 213.0h1.0M278.2 219.0h1.0M256.9 205.1h1.0M256.7 204.1h1.0M274.4 214.9h1.0M265.5 215.5h1.0M279.3 206.0h1.0M275.9 207.6h1.0M276.6 202.1h1.0M278.3 210.8h1.0M269.0 222.4h1.0M281.1 212.0h1.0M277.8 219.4h1.0M266.4 218.2h1.0M274.4 211.1h1.0M269.6 216.5h1.0M272.4 201.7h1.0M266.5 219.2h1.0M259.7 210.1h1.0M275.9 209.5h1.0M271.5 205.4h1.0M258.6 210.4h1.0M276.2 205.9h1.0M263.3 213.2h1.0M280.3 213.1h1.0M283.4 216.4h1.0M276.1 207.4h1.0M276.3 215.3h1.0M280.1 206.6h1.0M276.6 216.9h1.0M271.0 217.4h1.0M282.1 214.4h1.0M280.0 208.9h1.0M280.0 208.0h1.0M273.8 220.1h1.0M267.4 213.9h1.0M271.4 221.0h1.0M277.0 201.2h1.0M268.7 207.9h1.0M268.8 214.3h1.0M270.7 205.0h1.0M271.6 207.2h1.0M259.0 219.1h1.0M279.1 209.6h1.0M255.5 212.6h1.0M270.4 204.6h1.0M266.3 211.0h1.0M280.0 207.2h1.0M269.3 205.8h1.0M266.5 213.4h1.0M277.0 216.9h1.0M271.0 223.2h1.0M275.0 206.7h1.0M258.6 211.8h1.0M268.5 209.3h1.0M282.5 212.4h1.0M272.7 217.5h1.0M285.4 207.2h1.0M267.0 214.0h1.0M264.1 213.3h1.0M271.6 204.4h1.0M266.8 212.2h1.0M253.5 220.4h1.0M270.4 211.5h1.0M265.6 218.1h1.0M265.3 214.4h1.0M261.0 216.0h1.0M277.3 223.6h1.0M278.8 207.5h1.0M280.8 209.1h1.0M285.4 211.0h1.0M273.0 212.1h1.0M259.4 206.6h1.0M268.6 214.0h1.0M265.5 208.6h1.0M258.5 216.2h1.0M274.6 212.5h1.0M277.4 212.7h1.0M271.5 209.9h1.0M275.3 205.3h1.0M270.0 212.5h1.0M262.2 210.0h1.0M283.4 212.6h1.0M274.6 208.8h1.0M271.0 205.3h1.0M264.9 216.0h1.0M282.1 206.9h1.0M273.6 216.8h1.0M273.7 210.3h1.0M273.4 212.8h1.0M262.7 216.5h1.0M266.5 202.8h1.0M258.3 220.6h1.0M275.9 205.1h1.0M270.1 213.5h1.0M269.3 211.2h1.0M280.0 208.2h1.0M270.7 215.8h1.0M285.6 204.1h1.0M264.8 224.0h1.0M257.0 215.7h1.0M278.3 209.4h1.0M272.1 207.1h1.0M257.9 210.8h1.0M265.5 204.9h1.0M270.7 217.1h1.0M262.3 221.8h1.0M277.4 201.2h1.0M284.0 205.1h1.0M286.7 203.6h1.0M275.6 224.1h1.0M272.3 212.0h1.0M271.6 205.2h1.0M276.7 197.6h1.0M257.3 211.1h1.0M266.2 212.8h1.0M254.7 219.4h1.0M255.7 210.2h1.0M265.2 208.3h1.0M277.8 210.6h1.0M268.9 210.9h1.0M268.9 211.9h1.0M264.2 229.6h1.0M262.7 206.9h1.0M279.7 215.8h1.0M266.7 208.0h1.0M271.1 206.2h1.0M278.6 207.4h1.0M272.1 201.5h1.0M273.9 200.9h1.0M270.4 208.5h1.0M261.3 218.8h1.0M283.5 204.6h1.0M256.2 218.3h1.0M272.4 214.7h1.0M260.9 212.0h1.0M273.8 218.4h1.0M255.8 211.6h1.0M260.1 213.4h1.0M272.0 196.1h1.0M267.1 212.5h1.0M261.2 218.8h1.0M264.1 217.0h1.0M265.9 213.4h1.0M283.9 211.4h1.0M267.4 203.5h1.0M267.9 208.6h1.0M267.6 213.9h1.0M283.0 208.3h1.0M272.6 214.5h1.0M282.2 207.9h1.0M264.3 207.6h1.0M276.8 215.8h1.0M265.7 210.2h1.0M277.1 212.2h1.0M271.0 218.9h1.0M279.3 218.0h1.0M264.3 208.6h1.0M277.3 209.2h1.0M277.4 213.0h1.0M268.6 205.3h1.0M262.6 211.7h1.0M257.3 215.4h1.0M262.7 211.7h1.0M272.9 208.1h1.0M286.6 207.4h1.0M276.6 197.3h1.0M257.6 215.0h1.0M272.0 209.9h1.0M278.4 205.7h1.0M271.9 208.7h1.0M258.1 218.7h1.0M283.8 204.5h1.0M257.3 217.7h1.0M266.2 202.5h1.0M264.2 215.9h1.0M274.5 213.5h1.0M282.0 212.0h1.0M267.4 213.3h1.0M275.0 214.5h1.0M267.8 209.0h1.0M264.4 216.8h1.0M271.0 208.0h1.0M275.0 204.5h1.0M273.2 200.3h1.0M261.4 206.6h1.0M264.8 213.7h1.0M274.4 222.0h1.0M281.1 202.7h1.0M269.5 205.6h1.0M272.1 220.0h1.0M255.8 200.0h1.0M256.6 224.0h1.0M259.6 219.8h1.0M265.2 206.7h1.0M259.2 214.7h1.0M266.8 209.3h1.0M264.2 203.0h1.0M265.4 209.8h1.0M271.1 214.4h1.0M286.4 201.6h1.0M266.6 214.5h1.0M261.6 204.2h1.0M268.0 212.0h1.0M277.1 217.0h1.0M253.2 219.2h1.0M278.2 216.7h1.0M272.4 211.8h1.0M257.0 212.9h1.0M273.4 211.0h1.0M280.4 196.8h1.0M276.2 218.4h1.0M276.2 204.2h1.0M277.0 213.0h1.0M275.0 206.9h1.0M280.0 213.1h1.0M271.0 220.1h1.0M283.1 210.9h1.0M261.3 203.3h1.0M284.3 212.0h1.0M267.4 218.0h1.0M270.2 208.8h1.0M285.0 204.6h1.0M286.1 207.7h1.0M268.8 206.9h1.0M266.0 207.4h1.0M273.7 214.3h1.0M273.0 208.3h1.0M280.0 204.1h1.0M280.0 217.3h1.0M282.9 211.6h1.0M278.4 207.9h1.0M241.1 217.4h1.0M247.2 209.9h1.0M239.9 220.9h1.0M248.7 219.5h1.0M235.8 214.9h1.0M269.4 208.5h1.0M203.2 217.4h1.0M203.2 225.6h1.0M203.0 220.4h1.0M202.9 226.0h1.0" stroke="#30e040" stroke-opacity="0.95"/><path d="M275.9 220.8h1.0M277.0 208.3h1.0M267.3 213.9h1.0M276.0 209.2h1.0M271.9 218.6h1.0M266.0 215.0h1.0M266.4 214.8h1.0M272.0 210.3h1.0M274.0 207.3h1.0M275.6 212.2h1.0M273.5 209.1h1.0M278.3 213.5h1.0M273.3 208.5h1.0M259.5 215.2h1.0M272.9 219.7h1.0M276.1 208.6h1.0M266.7 209.4h1.0M276.4 217.8h1.0M263.6 216.7h1.0M271.6 215.2h1.0M267.4 205.2h1.0M273.1 202.1h1.0M267.9 218.0h1.0M275.8 212.2h1.0M274.8 215.4h1.0M274.4 210.6h1.0M273.5 210.7h1.0M267.5 216.7h1.0M268.8 206.3h1.0M269.9 208.3h1.0M259.4 210.5h1.0M275.6 212.2h1.0M263.4 213.7h1.0M280.5 213.8h1.0M269.7 206.1h1.0M276.9 203.1h1.0M267.4 212.1h1.0M271.8 216.5h1.0M270.6 205.5h1.0M272.4 208.2h1.0M270.5 208.7h1.0M280.0 214.0h1.0M276.4 212.6h1.0M270.9 220.3h1.0M282.1 214.1h1.0M269.9 212.3h1.0M278.1 208.9h1.0M281.6 204.7h1.0M275.1 206.1h1.0M269.0 214.2h1.0M269.9 213.2h1.0M274.5 202.3h1.0M269.1 216.1h1.0M270.3 200.9h1.0M266.5 217.0h1.0M267.7 203.4h1.0M269.6 212.4h1.0M268.8 217.0h1.0M269.3 215.8h1.0M266.4 215.9h1.0M269.9 204.5h1.0M266.4 215.3h1.0M272.6 220.6h1.0M262.2 217.8h1.0M276.3 210.0h1.0M267.7 218.5h1.0M276.0 204.2h1.0M275.4 213.9h1.0M275.2 214.3h1.0M276.7 212.3h1.0M278.9 204.0h1.0M276.1 215.5h1.0M268.5 212.9h1.0M269.5 204.4h1.0M269.1 214.7h1.0M268.7 208.4h1.0M269.9 209.8h1.0M274.3 213.8h1.0M279.1 210.7h1.0M277.7 208.4h1.0M267.0 207.7h1.0M274.0 208.8h1.0M264.5 212.5h1.0M271.1 206.5h1.0M271.3 211.0h1.0M266.3 213.0h1.0M280.0 204.5h1.0M279.4 217.2h1.0M261.0 212.6h1.0M268.6 211.8h1.0M272.0 204.5h1.0M267.7 211.8h1.0" stroke="#e8e820" stroke-opacity="0.95"/><path d="M266.8 210.3h1.0M274.7 205.8h1.0M273.1 210.3h1.0M268.5 207.4h1.0M274.3 209.0h1.0M270.1 213.8h1.0M271.6 205.9h1.0M271.2 209.3h1.0M266.4 210.4h1.0M273.1 207.6h1.0M275.3 217.3h1.0M268.1 210.0h1.0M273.0 210.7h1.0M272.0 212.9h1.0M276.3 211.5h1.0M268.8 215.7h1.0M269.9 212.9h1.0M271.4 216.6h1.0M273.7 215.3h1.0M266.0 214.4h1.0M274.7 209.7h1.0M275.7 209.7h1.0M263.7 213.0h1.0M276.6 206.3h1.0M268.2 212.8h1.0M273.6 213.7h1.0M274.8 206.0h1.0M272.9 213.4h1.0" stroke="#ff9010" stroke-opacity="0.95"/><path d="M274.7 213.1h1.0M270.6 209.1h1.0M271.9 209.5h1.0M273.8 214.7h1.0M271.8 213.4h1.0M276.2 209.1h1.0M269.6 210.9h1.0M273.9 208.2h1.0M273.3 208.1h1.0M271.1 207.0h1.0M272.8 209.8h1.0" stroke="#f02010" stroke-opacity="0.95"/></g>
<g stroke-width="1.0" fill="none"><path d="M411.7 216.7h1.0M465.5 183.6h1.0M485.3 197.6h1.0M480.5 202.6h1.0M440.8 235.2h1.0M470.0 228.5h1.0M474.5 221.9h1.0M461.1 235.7h1.0M486.2 195.7h1.0M437.9 186.4h1.0M484.6 211.4h1.0M478.2 222.8h1.0M444.8 233.2h1.0M425.8 232.4h1.0M402.7 225.5h1.0M414.8 213.8h1.0M483.1 233.1h1.0M445.1 233.0h1.0M437.7 236.1h1.0M476.1 222.2h1.0M454.2 241.7h1.0M448.7 235.0h1.0M489.9 202.9h1.0M471.3 223.7h1.0M475.7 188.6h1.0M498.5 201.0h1.0M408.6 214.0h1.0M466.4 227.2h1.0M445.0 182.5h1.0M441.2 235.7h1.0M453.5 233.7h1.0M485.3 198.4h1.0M478.8 218.8h1.0M481.4 214.5h1.0M483.3 207.1h1.0M418.2 231.0h1.0M482.1 215.4h1.0M465.9 184.3h1.0M424.7 235.5h1.0M455.0 233.1h1.0M490.0 210.3h1.0M435.1 239.0h1.0M415.2 222.3h1.0M462.4 229.7h1.0M413.2 224.0h1.0M405.6 211.6h1.0M448.0 186.4h1.0M479.5 189.7h1.0M479.8 189.0h1.0M411.4 204.9h1.0M446.7 185.1h1.0M399.4 190.8h1.0M420.1 229.4h1.0M450.0 185.2h1.0M410.5 211.1h1.0M492.7 215.3h1.0M498.5 186.2h1.0M460.7 179.4h1.0M413.9 206.9h1.0M416.8 202.6h1.0M416.6 198.6h1.0M488.9 180.6h1.0M462.0 175.3h1.0M443.8 234.6h1.0M438.5 181.3h1.0M448.7 173.4h1.0M425.7 234.6h1.0M451.7 178.7h1.0M432.3 178.4h1.0M468.6 176.3h1.0M493.1 181.7h1.0M474.8 189.3h1.0M417.0 188.8h1.0M459.2 175.2h1.0M436.8 187.3h1.0M410.9 203.8h1.0M411.0 188.4h1.0M482.0 198.4h1.0M437.3 186.7h1.0M447.4 179.4h1.0M439.0 185.1h1.0M420.9 181.2h1.0M411.5 206.0h1.0M483.8 180.9h1.0M406.9 222.8h1.0M449.1 181.2h1.0M481.3 222.6h1.0M411.6 190.7h1.0M483.9 203.0h1.0M481.2 207.2h1.0M472.4 183.3h1.0M443.5 184.2h1.0M478.4 191.6h1.0M484.5 215.4h1.0M448.8 168.0h1.0M425.3 189.7h1.0M460.1 180.9h1.0M417.4 226.0h1.0M398.5 213.1h1.0M418.0 187.9h1.0M478.0 217.0h1.0M410.3 186.4h1.0M407.0 227.1h1.0M419.2 230.7h1.0M417.2 233.4h1.0M416.6 194.9h1.0M480.4 208.1h1.0M427.7 186.5h1.0M426.9 185.4h1.0M412.9 240.6h1.0M489.8 206.6h1.0M441.0 187.5h1.0M434.3 186.6h1.0M413.1 207.0h1.0M416.9 225.5h1.0M465.8 183.2h1.0M408.0 203.0h1.0M495.8 191.3h1.0M467.7 184.8h1.0M441.7 180.2h1.0M469.2 181.8h1.0M480.8 195.4h1.0M421.1 229.7h1.0M415.6 224.0h1.0M491.0 208.6h1.0M487.2 198.6h1.0M412.1 231.2h1.0M410.2 197.7h1.0M421.7 228.8h1.0M476.0 241.7h1.0M468.0 165.4h1.0M437.9 186.4h1.0M410.0 196.6h1.0M401.3 214.9h1.0M411.8 209.4h1.0M448.3 180.7h1.0M399.4 211.4h1.0M417.5 197.4h1.0M433.6 239.0h1.0M405.1 239.1h1.0M487.5 204.8h1.0M393.9 233.6h1.0M412.3 221.8h1.0M402.5 220.1h1.0M484.1 163.1h1.0M476.1 180.0h1.0M424.1 190.3h1.0M413.3 206.8h1.0M415.7 198.5h1.0M490.1 233.1h1.0M415.8 210.9h1.0M483.7 184.6h1.0M435.3 233.1h1.0M475.1 160.8h1.0M462.5 176.7h1.0M440.2 251.5h1.0M481.6 214.8h1.0M418.5 192.0h1.0M447.3 183.1h1.0M414.9 239.5h1.0M410.3 212.2h1.0M402.3 224.5h1.0M464.5 174.0h1.0M471.3 184.7h1.0M491.5 192.4h1.0M407.6 208.0h1.0M408.9 196.7h1.0M440.6 178.0h1.0M465.2 170.6h1.0M490.9 195.9h1.0M436.0 235.2h1.0M482.2 196.3h1.0M417.6 225.4h1.0M486.6 195.8h1.0M454.3 183.8h1.0M425.6 179.2h1.0M418.6 198.6h1.0M479.1 223.7h1.0M476.8 162.7h1.0M441.4 182.3h1.0M465.9 176.7h1.0M482.4 198.6h1.0M484.7 201.1h1.0M411.5 207.6h1.0M437.0 181.2h1.0M417.1 224.0h1.0M470.7 173.1h1.0M481.3 190.9h1.0M411.7 205.9h1.0M456.6 233.8h1.0M418.0 183.1h1.0M486.3 174.3h1.0M393.4 196.1h1.0M474.1 183.2h1.0M428.7 185.4h1.0M411.6 203.8h1.0M430.7 186.1h1.0M448.9 238.0h1.0M405.5 196.1h1.0M453.5 182.8h1.0M467.5 185.3h1.0M422.4 192.0h1.0M436.5 185.4h1.0M434.3 165.8h1.0M453.9 183.3h1.0M477.1 190.7h1.0M459.3 164.1h1.0M410.0 219.7h1.0M420.4 191.7h1.0M481.2 223.3h1.0M498.6 190.9h1.0M407.0 232.8h1.0M399.7 204.3h1.0M483.3 191.2h1.0M456.1 231.6h1.0M482.6 183.1h1.0M494.8 205.8h1.0M411.0 206.2h1.0M496.2 212.4h1.0M459.5 180.3h1.0M434.4 183.9h1.0M422.1 236.4h1.0M429.4 189.0h1.0M465.6 179.0h1.0M458.3 164.8h1.0M484.2 187.7h1.0M467.6 183.0h1.0M435.5 169.0h1.0M480.9 210.2h1.0M491.7 197.9h1.0M421.1 238.3h1.0M391.4 198.3h1.0M457.9 232.1h1.0M450.9 178.6h1.0M434.0 173.2h1.0M398.8 220.3h1.0M502.4 174.9h1.0M440.5 166.1h1.0M488.6 200.1h1.0M474.1 184.0h1.0M403.2 203.3h1.0M411.4 216.3h1.0M488.3 190.2h1.0M435.1 179.6h1.0M468.7 239.3h1.0M482.9 193.1h1.0M412.1 217.8h1.0M414.8 219.4h1.0M412.1 191.2h1.0M432.2 183.9h1.0M413.6 206.3h1.0M420.7 228.6h1.0M431.0 177.5h1.0M400.4 217.7h1.0M473.5 181.7h1.0M411.5 194.3h1.0M413.6 225.0h1.0M386.3 196.8h1.0M401.8 207.4h1.0M460.4 179.7h1.0M468.0 176.8h1.0M464.6 171.8h1.0M437.3 175.2h1.0M467.2 166.2h1.0M408.5 210.3h1.0M421.4 230.3h1.0M409.9 209.7h1.0M456.3 184.3h1.0M430.0 174.5h1.0M446.7 238.5h1.0M416.9 226.5h1.0M475.7 184.8h1.0M454.2 178.4h1.0M476.8 223.7h1.0M473.0 223.9h1.0M406.0 231.7h1.0M437.7 179.4h1.0M405.9 228.6h1.0M430.9 233.5h1.0M421.4 188.2h1.0M432.4 183.9h1.0M406.9 211.1h1.0M471.5 226.7h1.0M492.4 201.7h1.0M487.5 225.8h1.0M481.3 212.9h1.0M463.6 182.4h1.0M412.0 235.7h1.0M424.6 172.7h1.0M477.3 238.3h1.0M458.9 180.7h1.0M474.2 226.2h1.0M483.4 181.5h1.0M480.9 214.4h1.0M447.5 238.1h1.0M400.0 199.4h1.0M394.1 197.9h1.0M410.3 237.9h1.0M434.1 243.7h1.0M396.6 212.7h1.0M369.0 233.1h1.0M371.5 222.4h1.0M365.2 210.7h1.0M369.5 201.6h1.0M396.5 249.4h1.0M355.9 177.8h1.0M392.5 206.7h1.0M403.8 196.1h1.0M391.3 193.0h1.0M393.5 205.0h1.0M384.3 203.7h1.0M360.3 234.1h1.0M385.7 238.3h1.0M407.8 230.9h1.0M394.1 220.0h1.0M402.5 201.5h1.0M396.6 200.4h1.0M378.7 237.7h1.0M406.9 219.9h1.0M392.2 176.3h1.0M367.8 200.4h1.0M358.7 183.9h1.0M363.2 211.4h1.0M363.1 227.0h1.0M394.4 232.5h1.0M398.3 207.7h1.0M365.4 209.7h1.0M393.9 205.6h1.0M382.4 180.8h1.0M369.9 199.7h1.0M394.7 206.4h1.0M409.7 214.2h1.0M353.1 218.0h1.0M386.7 206.7h1.0M365.1 217.8h1.0M357.0 180.9h1.0M385.4 211.5h1.0M384.7 208.0h1.0M383.5 241.4h1.0M358.4 198.3h1.0M391.2 230.0h1.0M383.4 207.1h1.0M394.4 212.2h1.0M399.7 214.9h1.0M409.8 224.6h1.0M363.5 182.3h1.0M407.1 174.3h1.0M379.3 231.8h1.0M363.5 223.6h1.0M369.4 231.0h1.0M399.7 203.8h1.0M405.4 232.9h1.0M388.8 175.5h1.0M380.9 170.6h1.0M396.8 166.6h1.0M392.6 230.3h1.0M383.5 212.3h1.0M405.0 218.1h1.0M402.6 200.5h1.0M389.8 192.0h1.0M360.6 217.8h1.0M383.7 190.4h1.0M356.7 205.8h1.0M399.8 209.1h1.0M393.9 237.8h1.0M366.6 229.2h1.0M366.3 215.5h1.0M370.4 214.6h1.0M384.0 177.1h1.0M376.4 224.4h1.0M373.4 217.3h1.0M388.3 220.0h1.0M361.4 206.9h1.0M366.5 206.9h1.0M405.8 222.1h1.0M369.0 205.7h1.0M399.3 196.6h1.0M406.7 211.6h1.0M352.3 210.0h1.0M381.4 198.9h1.0M355.2 183.1h1.0M397.8 229.1h1.0M364.6 178.3h1.0M378.8 233.8h1.0M389.1 210.8h1.0M384.5 209.3h1.0M389.5 205.0h1.0M401.2 203.6h1.0M379.8 194.4h1.0M385.6 204.4h1.0M387.6 197.3h1.0M354.2 222.8h1.0M407.1 179.4h1.0M394.2 196.3h1.0M357.5 197.8h1.0M358.5 239.7h1.0M375.0 219.3h1.0M363.4 214.9h1.0M360.7 232.3h1.0M390.4 198.7h1.0M392.0 192.5h1.0M379.4 222.8h1.0M352.6 204.9h1.0M357.7 226.9h1.0M391.4 249.4h1.0M405.6 215.0h1.0M394.8 228.1h1.0M406.5 208.6h1.0M398.9 207.0h1.0M360.9 215.2h1.0M378.1 238.7h1.0M368.6 215.2h1.0M357.3 236.1h1.0M398.3 208.4h1.0M401.5 199.6h1.0M361.6 201.4h1.0M381.2 216.5h1.0M401.1 206.4h1.0M388.9 197.9h1.0M379.1 214.7h1.0M374.9 207.1h1.0M366.3 230.8h1.0M380.0 198.4h1.0M370.8 238.1h1.0M367.9 228.6h1.0M372.2 231.8h1.0M405.5 224.4h1.0M408.9 241.0h1.0M375.7 214.8h1.0M371.6 201.4h1.0M385.8 182.2h1.0M395.0 227.9h1.0M368.2 229.0h1.0M376.1 219.1h1.0M358.7 210.2h1.0M365.3 222.6h1.0M400.4 218.4h1.0M380.6 194.3h1.0M388.8 235.0h1.0M399.7 210.4h1.0M394.2 208.2h1.0M369.7 218.3h1.0M372.4 241.7h1.0M373.0 202.0h1.0M358.2 208.9h1.0M380.5 203.8h1.0M404.1 195.2h1.0M372.1 179.8h1.0M371.0 223.3h1.0M367.0 200.3h1.0M402.2 219.0h1.0M355.0 240.6h1.0M379.9 214.4h1.0M402.5 212.2h1.0M387.4 199.1h1.0M362.4 213.5h1.0M371.4 190.5h1.0M404.1 183.7h1.0M371.9 196.2h1.0M375.7 211.7h1.0M405.9 203.7h1.0M356.1 207.2h1.0M356.0 197.9h1.0M363.1 195.3h1.0M384.5 221.2h1.0M378.2 226.7h1.0M371.9 229.5h1.0M406.7 224.4h1.0M381.5 209.6h1.0M396.1 163.9h1.0M386.5 207.8h1.0M375.9 227.0h1.0M369.5 183.7h1.0M380.5 178.4h1.0M352.6 212.9h1.0M375.0 200.6h1.0M359.3 199.7h1.0M409.9 227.5h1.0M373.7 213.5h1.0M392.6 203.3h1.0M376.9 198.7h1.0M364.4 198.9h1.0M386.0 225.1h1.0M385.8 210.6h1.0M377.4 231.7h1.0M372.3 177.6h1.0M395.9 222.2h1.0M368.7 210.5h1.0M394.6 210.5h1.0M398.6 223.6h1.0M407.9 192.4h1.0M377.8 206.7h1.0M369.3 209.2h1.0M407.7 221.7h1.0M392.6 211.8h1.0M399.7 210.6h1.0M398.6 181.3h1.0M389.3 205.9h1.0M377.3 208.4h1.0M366.3 218.4h1.0M401.2 179.9h1.0M406.8 218.3h1.0M357.9 227.7h1.0M397.5 221.1h1.0M359.0 216.3h1.0M408.3 215.4h1.0M369.4 205.7h1.0M383.5 182.5h1.0M402.0 201.1h1.0M362.0 213.1h1.0M378.1 199.0h1.0M376.4 221.7h1.0M382.1 221.7h1.0M370.7 183.1h1.0M366.9 220.3h1.0M396.8 241.3h1.0M369.2 196.1h1.0M366.2 219.7h1.0M378.7 227.3h1.0M391.0 189.9h1.0M395.8 216.2h1.0M397.3 226.1h1.0M365.6 201.0h1.0M406.2 219.1h1.0M355.4 216.4h1.0M386.4 226.7h1.0M402.0 196.5h1.0M393.0 221.0h1.0M390.8 243.9h1.0M356.4 184.1h1.0M356.6 222.5h1.0M405.6 243.5h1.0M364.3 221.8h1.0M390.1 223.6h1.0M409.6 222.4h1.0M384.6 198.2h1.0M403.8 185.2h1.0M399.1 195.1h1.0M356.5 210.5h1.0M373.6 218.2h1.0M366.7 201.1h1.0M397.5 227.9h1.0M362.0 230.6h1.0M357.5 202.6h1.0M376.1 207.3h1.0M386.4 169.8h1.0M408.0 208.7h1.0M360.3 213.4h1.0M408.0 248.0h1.0M356.7 201.1h1.0M406.0 234.9h1.0M369.7 226.0h1.0M390.9 221.4h1.0M353.2 226.1h1.0M367.3 228.6h1.0M368.4 213.4h1.0M396.5 229.5h1.0M392.4 176.6h1.0M404.4 214.4h1.0M382.8 215.7h1.0M365.8 239.6h1.0M406.6 223.5h1.0M381.6 207.0h1.0M365.3 202.6h1.0M396.6 200.2h1.0M390.1 230.1h1.0M408.9 201.2h1.0M382.8 211.9h1.0M405.0 180.2h1.0M399.3 196.6h1.0M386.1 199.4h1.0M366.2 240.2h1.0M379.4 213.1h1.0M371.3 199.2h1.0M407.2 208.7h1.0M367.1 209.2h1.0M357.3 230.3h1.0M372.2 196.7h1.0M371.4 206.1h1.0M376.2 201.2h1.0M377.3 201.8h1.0M353.8 243.1h1.0M369.2 202.9h1.0M353.5 223.4h1.0M398.5 195.5h1.0M361.3 202.2h1.0M366.7 206.8h1.0M386.8 221.3h1.0M356.8 211.1h1.0M384.3 190.6h1.0M364.1 199.6h1.0M364.1 212.8h1.0M384.4 195.4h1.0M356.8 224.8h1.0M405.4 189.9h1.0M397.5 188.1h1.0M389.1 216.5h1.0M370.0 244.1h1.0M366.0 201.2h1.0M352.2 166.5h1.0M393.0 186.0h1.0M396.1 189.1h1.0M352.8 245.9h1.0M386.7 177.1h1.0M364.8 162.6h1.0M386.9 194.4h1.0M352.1 183.3h1.0M352.3 235.0h1.0M421.6 170.8h1.0M388.3 193.6h1.0M354.0 220.2h1.0M399.0 156.3h1.0M371.0 180.8h1.0M362.8 157.9h1.0M358.7 147.0h1.0M418.7 187.6h1.0M352.6 162.4h1.0M384.0 192.9h1.0M413.7 191.2h1.0M395.3 177.7h1.0M385.5 191.2h1.0M399.1 205.2h1.0M390.7 140.0h1.0M398.4 150.5h1.0M404.5 210.6h1.0M396.3 188.7h1.0M369.2 162.3h1.0M352.2 201.2h1.0M411.3 171.2h1.0M406.3 200.5h1.0M386.4 143.1h1.0M399.6 184.1h1.0M370.3 226.7h1.0M386.1 175.6h1.0M373.7 184.5h1.0M395.2 174.2h1.0M379.2 163.0h1.0M359.8 186.6h1.0M372.5 192.2h1.0M375.0 156.7h1.0M370.5 188.4h1.0M423.4 186.5h1.0M353.3 186.7h1.0M352.3 197.5h1.0M352.4 223.1h1.0M398.4 199.6h1.0M400.1 169.4h1.0M397.3 213.9h1.0M393.8 169.2h1.0M377.5 224.8h1.0M413.7 190.3h1.0M352.6 211.7h1.0M352.9 191.2h1.0M352.6 151.9h1.0M396.6 120.7h1.0M402.0 235.1h1.0M396.9 176.5h1.0M356.8 166.3h1.0M412.3 189.4h1.0M379.2 219.6h1.0M384.5 176.9h1.0M352.0 206.2h1.0M352.6 188.1h1.0M379.1 210.3h1.0M385.4 161.4h1.0M352.6 240.3h1.0M409.8 178.4h1.0M417.7 166.7h1.0M404.1 167.7h1.0M352.4 179.3h1.0M384.6 212.1h1.0M377.9 232.7h1.0M386.2 185.4h1.0M352.3 185.9h1.0M410.3 168.0h1.0M377.4 175.8h1.0M409.9 226.9h1.0M370.0 193.7h1.0M391.0 145.6h1.0M411.4 177.0h1.0M392.4 159.7h1.0M405.6 144.9h1.0M411.8 222.1h1.0M383.8 155.0h1.0M424.0 176.0h1.0M368.0 242.9h1.0M358.8 171.8h1.0M381.8 186.6h1.0M352.1 232.6h1.0M352.1 167.9h1.0M391.1 192.0h1.0M361.9 158.5h1.0M378.3 161.3h1.0M388.5 154.1h1.0M371.6 211.4h1.0M393.2 213.2h1.0M384.7 185.0h1.0M357.7 240.0h1.0M434.1 133.7h1.0M426.5 164.3h1.0M356.9 230.9h1.0M356.8 223.0h1.0M356.9 214.2h1.0M357.2 229.4h1.0M356.9 212.9h1.0M356.8 227.0h1.0M357.1 214.7h1.0" stroke="#2020ff" stroke-opacity="0.6"/><path d="M461.8 212.5h1.0M442.8 219.2h1.0M421.7 210.9h1.0M470.1 193.7h1.0M447.1 205.1h1.0M470.1 191.0h1.0M453.5 212.5h1.0M465.3 203.5h1.0M475.7 211.5h1.0M431.3 217.8h1.0M434.4 224.9h1.0M441.2 222.0h1.0M467.4 212.9h1.0M459.0 214.6h1.0M447.6 213.6h1.0M455.8 228.2h1.0M450.3 207.4h1.0M449.1 218.4h1.0M456.2 222.2h1.0M430.7 195.6h1.0M443.0 211.0h1.0M424.1 206.4h1.0M453.5 205.0h1.0M447.7 215.6h1.0M449.5 216.1h1.0M451.4 222.7h1.0M455.3 206.1h1.0M443.3 213.5h1.0M467.3 210.6h1.0M460.1 216.0h1.0M456.6 218.8h1.0M446.8 199.9h1.0M439.4 231.0h1.0M437.0 218.0h1.0M458.7 207.3h1.0M440.5 221.7h1.0M449.1 221.3h1.0M424.2 218.7h1.0M440.7 219.1h1.0M442.2 225.5h1.0M454.3 201.9h1.0M458.9 216.6h1.0M474.4 189.1h1.0M449.9 210.8h1.0M464.2 209.1h1.0M436.8 214.9h1.0M437.8 196.8h1.0M441.2 208.6h1.0M444.7 199.2h1.0M457.5 202.2h1.0M463.0 209.8h1.0M452.0 210.1h1.0M434.9 219.4h1.0M445.4 218.5h1.0M441.4 210.5h1.0M453.5 216.7h1.0M458.9 209.9h1.0M448.7 210.1h1.0M451.4 215.5h1.0M438.6 230.3h1.0M444.2 219.3h1.0M433.5 201.9h1.0M466.7 214.8h1.0M442.5 209.3h1.0M437.9 208.7h1.0M464.7 211.6h1.0M445.2 219.0h1.0M436.6 210.0h1.0M450.3 211.8h1.0M427.9 215.0h1.0M432.1 217.0h1.0M462.6 201.9h1.0M432.4 208.5h1.0M474.4 218.7h1.0M445.5 215.2h1.0M450.0 220.4h1.0M456.0 218.6h1.0M447.1 217.2h1.0M457.6 221.4h1.0M447.3 210.3h1.0M444.6 220.4h1.0M451.2 218.5h1.0M459.7 205.0h1.0M455.4 201.2h1.0M445.2 220.7h1.0M454.2 211.3h1.0M462.5 200.4h1.0M469.3 215.8h1.0M442.6 204.5h1.0M452.4 201.5h1.0M477.1 214.2h1.0M447.3 226.0h1.0M450.0 210.9h1.0M455.5 204.2h1.0M454.0 203.9h1.0M454.2 213.0h1.0M459.6 225.2h1.0M455.5 220.5h1.0M425.2 213.5h1.0M461.6 206.1h1.0M453.8 207.9h1.0M444.8 231.9h1.0M457.2 210.3h1.0M452.3 206.4h1.0M432.9 225.6h1.0M453.2 198.2h1.0M446.6 220.2h1.0M440.7 215.0h1.0M449.5 211.6h1.0M441.6 210.8h1.0M466.5 211.2h1.0M458.2 211.9h1.0M451.2 196.6h1.0M445.4 215.6h1.0M431.4 207.7h1.0M430.2 230.4h1.0M429.4 214.3h1.0M445.8 213.1h1.0M444.2 210.1h1.0M453.9 217.6h1.0M441.2 210.6h1.0M453.7 217.0h1.0M467.6 210.4h1.0M443.8 202.2h1.0M457.1 223.3h1.0M437.5 207.0h1.0M455.5 204.6h1.0M449.1 209.0h1.0M431.4 232.3h1.0M445.2 211.7h1.0M465.5 203.0h1.0M424.6 214.5h1.0M443.8 213.4h1.0M479.6 198.7h1.0M452.7 216.2h1.0M459.5 206.8h1.0M459.9 216.6h1.0M452.2 221.5h1.0M440.5 214.6h1.0M440.0 221.1h1.0M445.0 198.8h1.0M432.5 209.9h1.0M460.3 211.9h1.0M449.2 213.3h1.0M445.0 192.7h1.0M468.8 193.2h1.0M446.8 198.1h1.0M426.6 220.1h1.0M429.5 204.9h1.0M444.9 225.9h1.0M444.9 197.9h1.0M453.5 219.7h1.0M429.0 213.0h1.0M470.8 202.9h1.0M431.3 209.0h1.0M443.5 215.1h1.0M470.4 204.0h1.0M444.4 219.0h1.0M447.7 212.8h1.0M467.5 196.3h1.0M466.9 201.7h1.0M453.6 211.6h1.0M446.9 200.4h1.0M463.2 216.6h1.0M462.7 210.6h1.0M433.5 228.4h1.0M467.7 206.8h1.0M454.1 203.6h1.0M438.7 215.2h1.0M430.3 204.8h1.0M452.4 222.0h1.0M455.5 214.4h1.0M428.7 193.6h1.0M450.6 206.3h1.0M463.2 203.2h1.0M456.6 228.1h1.0M461.9 204.9h1.0M468.4 212.3h1.0M461.8 222.3h1.0M440.4 216.7h1.0M434.9 216.6h1.0M470.2 206.5h1.0M430.2 192.1h1.0M474.1 211.5h1.0M441.6 213.7h1.0M429.7 206.4h1.0M428.5 215.3h1.0M461.1 215.2h1.0M458.2 225.4h1.0M452.7 199.9h1.0M476.7 207.2h1.0M421.3 224.9h1.0M445.2 191.5h1.0M468.4 211.2h1.0M450.8 216.5h1.0M458.9 215.1h1.0M434.2 213.9h1.0M441.3 211.9h1.0M457.1 211.7h1.0M439.7 224.8h1.0M468.4 190.6h1.0M461.9 218.5h1.0M463.7 197.8h1.0M474.0 198.4h1.0M455.5 218.9h1.0M424.9 217.5h1.0M448.4 215.8h1.0M472.9 211.5h1.0M435.7 200.7h1.0M463.0 210.7h1.0M445.0 217.9h1.0M430.4 222.4h1.0M417.4 215.7h1.0M459.0 197.1h1.0M470.0 221.2h1.0M448.2 220.6h1.0M461.7 211.3h1.0M433.3 217.9h1.0M468.6 200.2h1.0M454.6 215.5h1.0M446.5 221.1h1.0M448.0 200.8h1.0M435.9 218.6h1.0M470.1 206.1h1.0M452.1 211.6h1.0M433.3 204.1h1.0M440.5 201.1h1.0M439.4 200.9h1.0M443.1 221.4h1.0M451.4 212.5h1.0M438.9 230.6h1.0M459.7 209.9h1.0M448.8 224.5h1.0M448.0 232.3h1.0M437.3 209.7h1.0M447.7 206.6h1.0M455.0 220.2h1.0M440.1 217.9h1.0M431.7 229.2h1.0M464.7 211.2h1.0M468.9 206.6h1.0M461.1 207.6h1.0M466.7 214.3h1.0M461.4 196.8h1.0M453.0 211.9h1.0M468.0 223.4h1.0M444.2 217.5h1.0M447.6 213.3h1.0M470.4 210.1h1.0M438.0 206.9h1.0M444.1 203.3h1.0M437.0 215.4h1.0M429.3 224.4h1.0M426.1 229.5h1.0M453.2 202.3h1.0M455.1 203.1h1.0M445.4 226.5h1.0M463.0 213.2h1.0M433.3 200.2h1.0M455.2 196.3h1.0M466.2 200.6h1.0M440.8 222.6h1.0M453.7 201.9h1.0M455.7 226.7h1.0M449.5 200.5h1.0M433.9 210.9h1.0M471.1 215.9h1.0M459.9 204.3h1.0M442.9 224.1h1.0M476.9 209.0h1.0M438.6 226.5h1.0M448.1 205.0h1.0M439.9 200.7h1.0M429.2 212.4h1.0M468.7 210.4h1.0M434.8 220.6h1.0M468.0 221.3h1.0M447.6 212.1h1.0M449.1 224.8h1.0M459.5 193.8h1.0M460.4 213.0h1.0M454.7 210.8h1.0M440.4 217.1h1.0M444.2 220.2h1.0M441.2 209.7h1.0M462.5 205.2h1.0M462.0 202.9h1.0M469.9 194.6h1.0M429.3 203.0h1.0M445.3 217.4h1.0M445.6 211.1h1.0M446.9 215.2h1.0M437.6 214.0h1.0M455.1 203.8h1.0M463.7 208.4h1.0M445.0 223.5h1.0M460.9 218.9h1.0M461.1 211.4h1.0M451.8 217.0h1.0M476.8 215.5h1.0M462.1 226.1h1.0M438.2 212.7h1.0M453.7 211.0h1.0M438.4 211.6h1.0M441.8 208.3h1.0M476.2 206.7h1.0M458.8 220.3h1.0M467.9 214.5h1.0M474.2 214.5h1.0M448.2 220.6h1.0M430.4 226.5h1.0M459.6 200.0h1.0M445.8 215.0h1.0M442.7 204.7h1.0M464.4 208.8h1.0M426.7 208.3h1.0M445.0 216.8h1.0M448.2 187.6h1.0M437.7 196.3h1.0M448.3 198.4h1.0M461.7 217.4h1.0M474.4 193.9h1.0M457.3 201.7h1.0M448.7 210.1h1.0M447.5 212.1h1.0M452.3 225.9h1.0M452.5 217.5h1.0M444.0 212.1h1.0M429.7 201.4h1.0M419.0 222.5h1.0M461.4 202.9h1.0M447.1 204.1h1.0M443.2 208.6h1.0M439.7 206.1h1.0M446.1 205.0h1.0M434.3 214.7h1.0M449.0 227.2h1.0M445.1 206.0h1.0M450.7 207.2h1.0M443.8 229.6h1.0M425.2 216.2h1.0M450.8 221.6h1.0M434.8 194.2h1.0M458.5 210.3h1.0M437.7 214.5h1.0M443.4 229.8h1.0M451.9 194.3h1.0M454.8 208.6h1.0M463.8 213.3h1.0M431.4 222.8h1.0M461.8 209.5h1.0M441.3 204.8h1.0M448.6 204.7h1.0M442.4 195.5h1.0M437.8 204.3h1.0M438.8 225.3h1.0M461.8 211.9h1.0M460.1 215.6h1.0M443.2 217.8h1.0M430.5 213.7h1.0M459.3 197.0h1.0M444.7 202.0h1.0M463.8 210.9h1.0M426.3 220.5h1.0M456.1 210.3h1.0M463.8 209.8h1.0M444.7 225.7h1.0M444.9 215.1h1.0M456.5 214.2h1.0M441.2 215.4h1.0M450.9 199.9h1.0M421.2 215.5h1.0M448.0 216.2h1.0M459.5 200.0h1.0M438.1 208.4h1.0M454.8 202.8h1.0M446.5 214.0h1.0M440.8 224.7h1.0M456.6 212.6h1.0M436.6 209.1h1.0M470.4 214.9h1.0M448.8 206.2h1.0M442.5 222.0h1.0M462.1 207.2h1.0M466.3 205.3h1.0M446.7 213.9h1.0M452.4 224.2h1.0M438.8 217.0h1.0M445.3 212.8h1.0M455.1 203.0h1.0M453.3 193.4h1.0M440.0 211.8h1.0M461.5 199.8h1.0M451.3 191.9h1.0M421.2 213.7h1.0M451.7 199.5h1.0M427.0 212.7h1.0M429.3 219.7h1.0M469.8 217.9h1.0M457.4 215.5h1.0M442.2 211.4h1.0M455.2 217.2h1.0M456.1 202.3h1.0M432.4 214.7h1.0M424.7 205.0h1.0M449.7 212.5h1.0M463.6 221.2h1.0M445.9 196.8h1.0M438.4 201.5h1.0M448.0 216.5h1.0M416.4 215.3h1.0M446.6 207.9h1.0M458.5 216.2h1.0M435.2 222.4h1.0M448.6 201.8h1.0M456.1 191.1h1.0M441.7 212.4h1.0M445.4 205.8h1.0M462.5 214.3h1.0M438.3 213.9h1.0M424.7 220.3h1.0M449.0 209.6h1.0M441.4 211.9h1.0M459.4 220.8h1.0M419.2 212.9h1.0M433.9 200.7h1.0M434.5 199.7h1.0M432.2 224.8h1.0M470.4 202.5h1.0M428.0 219.1h1.0M463.8 210.8h1.0M448.2 222.8h1.0M422.2 228.1h1.0M434.0 216.1h1.0M452.8 220.0h1.0M461.0 199.3h1.0M455.4 200.8h1.0M465.1 206.9h1.0M448.0 214.6h1.0M467.7 213.8h1.0M463.6 203.9h1.0M442.8 205.9h1.0M419.1 222.2h1.0M448.6 223.4h1.0M478.0 216.0h1.0M460.0 202.2h1.0M478.6 214.4h1.0M446.7 198.6h1.0M452.9 221.9h1.0M461.0 211.4h1.0M461.9 207.3h1.0M422.9 218.2h1.0M459.8 220.5h1.0M425.9 208.7h1.0M439.9 209.4h1.0M446.3 212.7h1.0M446.4 202.9h1.0M465.8 205.7h1.0M445.3 212.5h1.0M428.9 223.0h1.0M454.6 209.2h1.0M436.5 204.9h1.0M458.4 206.8h1.0M443.7 216.2h1.0M436.5 197.4h1.0M449.1 221.4h1.0M441.7 214.0h1.0M428.2 214.0h1.0M457.7 220.5h1.0M463.0 205.2h1.0M467.3 207.9h1.0M460.0 202.6h1.0M457.8 204.7h1.0M441.8 224.8h1.0M431.5 208.1h1.0M445.1 210.9h1.0M457.3 205.9h1.0M439.9 200.4h1.0M428.4 225.9h1.0M462.0 218.7h1.0M440.0 205.2h1.0M460.6 212.9h1.0M469.0 220.5h1.0M458.1 212.0h1.0M419.7 209.3h1.0M463.2 198.8h1.0M477.0 199.9h1.0M454.5 218.1h1.0M436.8 196.1h1.0M445.7 228.2h1.0M424.7 202.5h1.0M447.5 223.5h1.0M436.1 209.5h1.0M445.1 216.7h1.0M445.5 207.0h1.0M428.7 219.4h1.0M436.4 218.4h1.0M434.2 211.3h1.0M442.9 203.0h1.0M445.1 215.4h1.0M468.3 191.5h1.0M464.3 213.2h1.0M458.6 205.8h1.0M450.7 199.8h1.0M451.5 213.7h1.0M444.7 211.4h1.0M455.9 210.8h1.0M440.8 217.4h1.0M431.3 219.0h1.0M455.9 217.7h1.0M469.5 208.2h1.0M448.1 229.3h1.0M457.1 208.6h1.0M446.7 200.9h1.0M455.5 212.7h1.0M424.2 213.8h1.0M454.7 217.0h1.0M432.3 222.7h1.0M446.1 217.6h1.0M444.0 211.5h1.0M464.8 204.3h1.0M470.4 220.4h1.0M428.5 220.6h1.0M461.8 208.1h1.0M426.8 224.0h1.0M424.6 227.7h1.0M442.7 211.0h1.0M449.4 219.5h1.0M448.5 218.4h1.0M423.4 223.9h1.0M467.9 209.0h1.0M446.5 223.3h1.0M460.1 204.9h1.0M465.3 222.5h1.0M446.6 220.2h1.0M435.8 214.5h1.0M472.5 209.2h1.0M441.0 212.4h1.0M468.6 193.5h1.0M431.3 205.6h1.0M448.1 226.4h1.0M447.1 212.3h1.0M451.1 216.6h1.0M457.7 213.5h1.0M444.2 226.6h1.0M475.1 194.5h1.0M438.9 210.6h1.0M430.6 230.0h1.0M443.4 212.8h1.0M463.1 220.4h1.0M441.9 208.4h1.0M463.7 214.2h1.0M448.6 212.3h1.0M446.3 218.2h1.0M438.2 208.3h1.0M465.6 210.9h1.0M464.4 208.8h1.0M438.8 217.4h1.0M463.5 219.4h1.0M459.4 193.6h1.0M441.8 210.8h1.0M460.7 199.9h1.0M461.3 195.1h1.0M453.0 225.5h1.0M452.3 209.1h1.0M452.7 222.8h1.0M450.6 211.4h1.0M458.4 189.8h1.0M456.7 203.2h1.0M452.5 220.1h1.0M479.0 211.6h1.0M426.2 216.5h1.0M451.2 226.3h1.0M440.3 217.8h1.0M459.2 204.7h1.0M440.6 222.7h1.0M449.7 224.0h1.0M424.2 201.4h1.0M451.6 207.2h1.0M458.3 203.4h1.0M436.9 206.7h1.0M455.6 220.7h1.0M432.5 230.9h1.0M432.8 213.8h1.0M451.6 223.1h1.0M457.9 219.3h1.0M436.1 203.9h1.0M453.4 207.1h1.0M436.8 212.6h1.0M477.4 205.3h1.0M443.4 202.6h1.0M465.7 206.7h1.0M447.0 214.4h1.0M455.0 206.0h1.0M428.6 215.7h1.0M455.2 219.7h1.0M437.8 217.4h1.0M464.2 207.7h1.0M452.5 213.9h1.0M449.7 211.0h1.0M459.6 207.7h1.0M457.7 210.2h1.0M469.8 223.8h1.0M456.8 215.0h1.0M455.4 220.0h1.0M447.3 212.1h1.0M474.3 199.2h1.0M443.0 202.8h1.0M453.4 218.9h1.0M428.4 212.1h1.0M438.0 200.4h1.0M432.0 215.0h1.0M427.5 216.3h1.0M444.6 203.7h1.0M439.8 216.6h1.0M459.3 215.2h1.0M458.2 224.4h1.0M454.9 227.0h1.0M448.5 216.5h1.0M446.0 206.1h1.0M463.9 218.1h1.0M449.9 217.5h1.0M442.0 227.4h1.0M448.2 194.1h1.0M449.3 214.5h1.0M470.3 207.1h1.0M448.5 211.3h1.0M444.9 202.5h1.0M453.1 229.8h1.0M455.8 223.7h1.0M437.4 206.9h1.0M455.0 217.5h1.0M447.8 198.0h1.0M440.7 203.3h1.0M442.4 213.0h1.0M471.3 214.5h1.0M475.1 205.3h1.0M463.8 203.8h1.0M449.6 213.9h1.0M424.6 228.8h1.0M465.4 215.9h1.0M449.2 195.3h1.0M440.5 206.3h1.0M449.8 208.0h1.0M439.7 207.8h1.0M457.1 210.8h1.0M446.1 217.9h1.0M425.2 194.5h1.0M435.3 218.0h1.0M433.1 207.0h1.0M449.9 224.5h1.0M431.0 226.9h1.0M443.7 204.8h1.0M446.8 194.1h1.0M443.9 218.8h1.0M444.6 216.5h1.0M448.7 226.3h1.0M451.2 206.9h1.0M462.4 209.7h1.0M442.0 229.3h1.0M453.8 218.3h1.0M466.2 212.0h1.0M437.0 198.1h1.0M449.1 217.7h1.0M446.6 217.9h1.0M467.0 214.2h1.0M457.2 207.6h1.0M446.8 215.0h1.0M434.3 211.4h1.0M442.8 203.3h1.0M470.9 221.4h1.0M452.6 217.6h1.0M445.5 200.6h1.0M438.7 221.6h1.0M440.4 228.2h1.0M451.8 212.5h1.0M457.1 206.6h1.0M456.5 211.4h1.0M458.6 204.3h1.0M456.9 197.3h1.0M446.1 221.6h1.0M438.0 212.8h1.0M454.2 208.2h1.0M448.1 201.4h1.0M450.5 203.1h1.0M435.2 229.2h1.0M467.1 223.5h1.0M472.2 207.5h1.0M435.4 214.4h1.0M435.3 217.0h1.0M438.7 232.5h1.0M458.0 192.3h1.0M463.4 212.3h1.0M448.9 192.1h1.0M469.7 212.0h1.0M447.9 228.3h1.0M454.9 202.3h1.0M434.4 211.5h1.0M435.2 219.5h1.0M468.9 196.8h1.0M468.9 218.8h1.0M440.7 218.7h1.0M467.6 210.2h1.0M452.7 220.8h1.0M448.3 201.1h1.0M453.9 204.3h1.0M421.4 208.4h1.0M434.3 223.4h1.0M419.2 199.8h1.0M465.3 188.4h1.0M462.1 208.6h1.0M465.5 211.0h1.0M448.1 217.5h1.0M461.3 219.2h1.0M448.5 201.7h1.0M453.1 194.7h1.0M445.9 199.4h1.0M442.3 223.4h1.0M423.9 222.8h1.0M437.1 216.0h1.0M461.6 211.0h1.0M450.6 199.5h1.0M424.6 215.1h1.0M435.5 212.7h1.0M462.0 220.8h1.0M461.8 216.0h1.0M436.3 221.4h1.0M438.4 214.5h1.0M453.3 208.1h1.0M452.8 221.3h1.0M429.1 199.9h1.0M422.7 207.5h1.0M449.3 203.4h1.0M456.3 199.0h1.0M457.6 223.5h1.0M467.8 217.3h1.0M444.5 219.9h1.0M444.3 220.9h1.0M436.7 205.0h1.0M472.0 216.0h1.0M445.4 227.9h1.0M447.9 210.3h1.0M458.2 191.9h1.0M448.0 226.1h1.0M453.0 218.4h1.0M434.6 200.2h1.0M443.0 202.8h1.0M447.8 217.5h1.0M438.1 233.3h1.0M457.5 200.0h1.0M441.1 207.9h1.0M435.8 225.6h1.0M448.7 202.1h1.0M461.0 220.7h1.0M449.3 201.7h1.0M437.9 200.6h1.0M433.7 213.2h1.0M429.7 217.0h1.0M468.9 201.1h1.0M444.3 207.9h1.0M453.5 215.4h1.0M469.1 202.4h1.0M440.1 212.1h1.0M462.8 203.4h1.0M457.8 212.8h1.0M438.7 205.1h1.0M439.2 215.2h1.0M464.6 213.9h1.0M463.4 209.4h1.0M445.9 213.9h1.0M450.9 207.4h1.0M455.3 207.3h1.0M471.7 200.0h1.0M449.6 212.8h1.0M437.6 227.5h1.0M450.3 212.6h1.0M462.4 203.8h1.0M450.4 216.7h1.0M457.9 204.6h1.0M437.1 211.7h1.0M448.0 219.7h1.0M447.8 208.2h1.0M443.9 204.3h1.0M425.8 212.2h1.0M427.3 213.0h1.0M450.9 198.6h1.0M465.6 208.1h1.0M452.4 218.4h1.0M449.8 205.4h1.0M456.3 216.5h1.0M444.6 202.0h1.0M443.9 213.3h1.0M436.6 221.9h1.0M432.7 228.6h1.0M443.2 213.4h1.0M440.7 215.3h1.0M475.4 202.2h1.0M457.5 210.6h1.0M452.0 210.1h1.0M453.8 217.5h1.0M445.3 214.1h1.0M438.7 219.2h1.0M431.0 203.7h1.0M432.1 220.0h1.0M454.8 218.5h1.0M451.3 212.6h1.0M450.9 223.0h1.0M459.8 210.4h1.0M449.0 202.8h1.0M440.5 221.7h1.0M448.2 226.3h1.0M458.1 194.9h1.0M471.5 209.1h1.0M445.0 220.0h1.0M445.5 218.4h1.0M450.7 224.8h1.0M430.2 222.1h1.0M450.3 213.0h1.0M469.1 192.0h1.0M441.9 209.6h1.0M457.8 205.2h1.0M443.8 225.6h1.0M447.8 203.9h1.0M456.1 208.0h1.0M440.6 214.9h1.0M436.8 203.1h1.0M448.0 227.4h1.0M443.0 210.7h1.0M446.6 221.1h1.0M470.0 209.8h1.0M446.4 216.1h1.0M449.1 211.0h1.0M455.8 208.3h1.0M444.3 212.7h1.0M460.0 217.3h1.0M443.2 214.8h1.0M432.5 214.5h1.0M462.8 212.4h1.0M427.6 211.7h1.0M458.9 215.8h1.0M460.1 219.9h1.0M460.8 211.1h1.0M445.6 208.7h1.0M472.7 209.1h1.0M452.8 200.0h1.0M454.2 195.2h1.0M425.9 214.3h1.0M432.7 214.6h1.0M428.2 211.7h1.0M456.7 203.5h1.0M470.1 220.3h1.0M430.3 210.6h1.0M432.7 195.6h1.0M449.8 229.2h1.0M424.4 224.5h1.0M434.4 217.7h1.0M428.2 213.7h1.0M441.7 219.9h1.0M466.3 209.5h1.0M457.0 208.0h1.0M433.5 215.2h1.0M456.7 211.6h1.0M450.5 212.5h1.0M437.5 215.1h1.0M464.6 221.1h1.0M436.7 199.0h1.0M469.0 204.5h1.0M426.0 221.0h1.0M436.5 206.7h1.0M429.1 221.7h1.0M428.7 208.6h1.0M453.9 203.2h1.0M440.0 206.1h1.0M435.8 205.2h1.0M440.9 222.9h1.0M467.3 216.6h1.0M433.8 229.6h1.0M430.8 222.8h1.0M437.7 209.9h1.0M423.3 219.7h1.0M435.9 221.6h1.0M439.4 216.6h1.0M462.9 223.5h1.0M456.8 223.0h1.0M452.0 209.3h1.0M472.2 205.8h1.0M457.2 219.5h1.0M431.9 226.6h1.0M468.0 211.7h1.0M428.0 216.0h1.0M449.6 212.7h1.0M450.1 215.0h1.0M446.2 214.2h1.0M456.2 228.6h1.0M432.0 223.9h1.0M446.9 226.8h1.0M466.9 196.1h1.0M428.2 208.4h1.0M437.5 214.5h1.0M453.3 215.3h1.0M431.4 224.2h1.0M428.4 209.1h1.0M457.1 222.0h1.0M465.8 205.6h1.0M455.1 216.6h1.0M474.9 216.8h1.0M462.7 196.9h1.0M443.3 213.9h1.0M455.6 207.4h1.0M458.0 208.4h1.0M457.2 211.8h1.0M460.9 206.5h1.0M443.1 205.9h1.0M455.4 215.7h1.0M451.2 213.0h1.0M454.7 227.0h1.0M470.7 218.2h1.0M449.9 209.1h1.0M466.2 211.4h1.0M439.7 204.9h1.0M439.8 215.4h1.0M441.9 218.3h1.0M450.9 227.2h1.0M446.2 199.9h1.0M447.7 209.7h1.0M475.0 191.3h1.0M419.8 211.7h1.0M477.4 196.2h1.0M471.1 206.0h1.0M435.9 212.3h1.0M477.4 203.6h1.0M459.4 206.4h1.0M439.8 192.6h1.0M450.9 212.3h1.0M461.5 191.0h1.0M435.0 222.0h1.0M469.3 200.2h1.0M460.4 206.1h1.0M467.2 212.4h1.0M449.8 219.1h1.0M453.6 224.4h1.0M465.1 214.2h1.0M441.0 212.7h1.0M467.2 205.6h1.0M433.7 195.4h1.0M425.3 204.6h1.0M438.1 203.5h1.0M449.5 215.3h1.0M450.1 208.6h1.0M459.2 206.0h1.0M448.2 212.3h1.0M466.4 200.7h1.0M443.5 206.7h1.0M464.2 215.3h1.0M457.4 206.0h1.0M442.6 192.8h1.0M423.9 216.4h1.0M449.8 219.8h1.0M419.2 215.2h1.0M476.6 209.6h1.0M457.4 209.7h1.0M468.3 211.7h1.0M444.4 205.4h1.0M441.0 219.1h1.0M462.1 208.8h1.0M438.1 214.1h1.0M433.8 216.9h1.0M445.9 215.9h1.0M442.9 218.8h1.0M477.6 207.8h1.0M427.8 210.9h1.0M435.7 213.3h1.0M457.9 213.2h1.0M432.2 202.7h1.0M453.0 213.0h1.0M444.1 206.0h1.0M437.7 217.7h1.0M459.5 211.7h1.0M434.0 217.7h1.0M449.4 197.0h1.0M454.4 213.1h1.0M431.5 203.5h1.0M442.6 216.6h1.0M422.5 228.4h1.0M468.3 202.7h1.0M453.1 198.8h1.0M453.3 203.3h1.0M451.8 206.8h1.0M446.8 212.9h1.0M466.5 206.1h1.0M432.5 215.4h1.0M449.4 216.0h1.0M447.4 206.9h1.0M451.2 203.0h1.0M453.6 201.2h1.0M448.0 217.3h1.0M425.0 218.5h1.0M457.9 218.2h1.0M426.7 205.6h1.0M438.5 204.0h1.0M432.7 217.7h1.0M426.6 218.0h1.0M452.5 200.9h1.0M466.3 207.1h1.0M445.7 220.5h1.0M470.5 219.6h1.0M447.6 213.1h1.0M466.1 198.3h1.0M438.4 208.1h1.0M430.9 207.0h1.0M469.0 204.7h1.0M456.7 203.3h1.0M443.4 219.9h1.0M466.9 215.2h1.0M433.2 226.6h1.0M450.2 214.5h1.0M457.7 196.6h1.0M447.1 214.9h1.0M445.6 201.4h1.0M470.9 203.4h1.0M453.2 197.6h1.0M437.4 198.9h1.0M449.8 208.7h1.0M464.0 215.9h1.0M434.9 223.1h1.0M444.0 220.0h1.0M471.5 208.4h1.0M437.2 215.0h1.0M465.9 217.4h1.0M461.1 212.7h1.0M461.1 198.2h1.0M441.4 208.0h1.0M454.1 207.6h1.0M448.6 226.0h1.0M444.8 205.8h1.0M459.4 224.2h1.0M451.1 228.9h1.0M451.8 211.9h1.0M451.6 215.4h1.0M456.0 206.4h1.0M442.7 221.1h1.0M450.7 227.3h1.0M456.4 199.3h1.0M434.9 219.5h1.0M459.9 223.6h1.0M468.8 202.0h1.0M441.1 226.0h1.0M426.2 213.6h1.0M435.4 212.1h1.0M446.3 199.1h1.0M431.7 208.6h1.0M441.0 217.0h1.0M442.8 211.6h1.0M460.6 209.6h1.0M445.8 223.5h1.0M437.6 214.8h1.0M445.3 208.9h1.0M460.8 216.8h1.0M431.0 218.7h1.0M457.9 196.9h1.0M440.2 220.7h1.0M430.1 214.6h1.0M454.0 206.4h1.0M437.6 232.0h1.0M458.3 207.0h1.0M459.5 218.7h1.0M460.7 223.4h1.0M447.5 207.3h1.0M449.6 204.0h1.0M434.9 209.4h1.0M437.7 222.7h1.0M452.6 229.5h1.0M434.3 210.2h1.0M464.3 212.9h1.0M455.7 200.9h1.0M422.4 219.5h1.0M437.2 216.2h1.0M455.8 218.5h1.0M456.5 205.8h1.0M439.2 210.9h1.0M447.6 209.6h1.0M449.4 223.3h1.0M450.2 198.2h1.0M436.5 219.9h1.0M437.0 195.3h1.0M463.0 212.8h1.0M431.8 207.1h1.0M458.0 204.3h1.0M449.6 206.6h1.0M453.3 221.2h1.0M463.6 203.8h1.0M445.3 228.0h1.0M467.5 202.3h1.0M455.9 224.4h1.0M440.3 220.3h1.0M466.8 209.7h1.0M438.9 212.8h1.0M453.8 220.6h1.0M462.2 223.7h1.0M429.7 224.0h1.0M447.0 198.2h1.0M461.4 221.0h1.0M430.0 222.8h1.0M437.8 219.4h1.0M463.7 209.5h1.0M469.4 218.4h1.0M450.4 214.3h1.0M449.0 206.2h1.0M441.3 211.2h1.0M448.3 197.1h1.0M439.9 215.2h1.0M424.8 194.8h1.0M435.4 212.0h1.0M454.6 216.0h1.0M435.1 203.8h1.0M430.2 210.8h1.0M428.4 216.1h1.0M448.0 226.5h1.0M458.4 214.0h1.0M475.2 191.0h1.0M466.9 205.3h1.0M469.9 210.4h1.0M440.5 220.8h1.0M454.5 207.2h1.0M448.4 213.7h1.0M441.8 230.9h1.0M432.2 213.4h1.0M443.4 202.4h1.0M422.8 213.8h1.0M453.9 214.1h1.0M457.6 207.9h1.0M434.0 225.8h1.0M427.4 230.5h1.0M427.5 201.2h1.0M451.3 214.5h1.0M442.3 219.0h1.0M435.0 222.2h1.0M436.9 200.7h1.0M477.4 213.5h1.0M438.3 218.4h1.0M461.7 217.0h1.0M469.6 211.4h1.0M448.2 215.3h1.0M461.3 212.1h1.0M461.1 199.0h1.0M458.0 200.5h1.0M463.7 203.9h1.0M461.4 223.8h1.0M465.9 205.9h1.0M435.7 217.0h1.0M452.0 224.1h1.0M435.6 225.8h1.0M438.8 208.6h1.0M437.5 217.0h1.0M445.1 213.7h1.0M447.2 196.1h1.0M452.2 210.6h1.0M476.6 211.1h1.0M452.1 217.1h1.0M439.2 202.2h1.0M467.0 186.9h1.0M455.5 194.1h1.0M440.4 190.8h1.0M456.9 191.4h1.0M457.7 192.9h1.0M462.2 221.0h1.0M450.9 218.3h1.0M439.6 202.7h1.0M458.8 192.2h1.0M431.8 202.2h1.0M465.8 203.2h1.0M456.5 195.5h1.0M467.1 209.1h1.0M464.5 190.8h1.0M428.0 205.4h1.0M459.2 218.2h1.0M448.1 200.6h1.0M452.6 230.0h1.0M440.6 212.3h1.0M463.2 192.5h1.0M428.3 216.4h1.0M434.4 204.6h1.0M472.0 192.9h1.0M459.7 224.7h1.0M463.5 190.3h1.0M459.6 212.4h1.0M458.2 199.9h1.0M454.2 210.7h1.0M453.0 205.7h1.0M464.7 192.6h1.0M442.4 195.6h1.0M434.9 206.6h1.0M457.2 213.0h1.0M435.1 208.4h1.0M439.3 212.9h1.0M465.4 210.0h1.0M470.1 213.7h1.0M459.3 205.5h1.0M452.7 206.3h1.0M419.8 197.3h1.0M456.4 204.5h1.0M443.8 198.4h1.0M450.1 201.1h1.0M458.5 185.2h1.0M452.2 214.6h1.0M421.3 202.4h1.0M435.4 192.6h1.0M446.7 199.4h1.0M454.2 187.4h1.0M469.6 207.9h1.0M467.3 187.7h1.0M473.9 192.1h1.0M449.1 207.6h1.0M473.6 192.4h1.0M473.4 201.7h1.0M442.4 195.1h1.0M436.8 210.1h1.0M437.8 206.2h1.0M432.0 200.8h1.0M457.1 209.4h1.0M439.2 219.8h1.0M452.6 204.1h1.0M448.8 222.2h1.0M430.1 200.9h1.0M451.1 198.3h1.0M462.3 198.1h1.0M465.7 224.5h1.0M478.3 208.4h1.0M459.8 208.4h1.0M461.1 203.2h1.0M458.7 187.9h1.0M416.6 206.4h1.0M446.4 205.2h1.0M436.2 194.6h1.0M467.7 190.0h1.0M469.2 208.6h1.0M437.9 205.4h1.0M440.5 199.2h1.0M455.4 213.0h1.0M477.2 197.7h1.0M422.8 197.8h1.0M449.2 202.8h1.0M455.0 211.8h1.0M441.4 205.7h1.0M448.6 186.9h1.0M434.5 203.7h1.0M458.6 195.7h1.0M425.9 194.4h1.0M472.2 218.0h1.0M468.0 198.1h1.0M451.6 204.3h1.0M441.0 202.0h1.0M437.5 202.1h1.0M418.2 223.1h1.0M463.1 208.4h1.0M447.2 219.9h1.0M476.0 199.3h1.0M433.2 205.4h1.0M429.1 196.7h1.0M460.9 187.6h1.0M446.3 205.3h1.0M474.1 197.0h1.0M434.2 196.6h1.0M437.9 191.3h1.0M438.9 189.6h1.0M480.2 205.1h1.0M444.2 193.7h1.0M434.4 211.9h1.0M456.2 202.6h1.0M427.9 217.2h1.0M447.2 208.3h1.0M420.8 200.2h1.0M429.2 189.7h1.0M460.0 207.2h1.0M456.0 204.7h1.0M469.1 206.7h1.0M441.6 206.9h1.0M437.1 200.5h1.0M440.6 192.0h1.0M476.5 211.5h1.0M422.5 195.2h1.0M444.3 200.5h1.0M445.3 202.4h1.0M428.6 213.2h1.0M423.3 206.1h1.0M417.9 215.4h1.0M450.4 188.7h1.0M461.5 205.6h1.0M427.9 200.5h1.0M465.5 224.8h1.0M447.6 214.6h1.0M443.6 190.0h1.0M454.7 189.8h1.0M454.8 187.9h1.0M476.4 195.8h1.0M440.2 207.3h1.0M426.4 225.5h1.0M451.4 207.6h1.0M462.5 225.1h1.0M449.6 221.0h1.0M460.5 195.8h1.0M467.9 197.6h1.0M452.3 194.1h1.0M429.7 202.7h1.0M436.9 192.0h1.0M465.3 204.9h1.0M430.8 230.5h1.0M429.8 197.8h1.0M460.3 202.3h1.0M466.4 190.3h1.0M465.1 206.0h1.0M445.4 210.2h1.0M457.1 209.3h1.0M452.7 186.7h1.0M442.5 217.1h1.0M441.4 226.8h1.0M431.9 203.9h1.0M467.3 196.2h1.0M476.6 195.8h1.0M420.5 214.8h1.0M446.0 201.7h1.0M463.5 211.8h1.0M435.9 227.6h1.0M423.7 224.5h1.0M465.0 208.4h1.0M434.9 205.3h1.0M453.8 223.5h1.0M427.0 218.8h1.0M442.6 194.2h1.0M423.7 215.1h1.0M449.8 223.7h1.0M460.4 205.9h1.0M438.8 218.4h1.0M436.0 201.3h1.0M443.2 200.4h1.0M435.6 226.4h1.0M454.1 203.1h1.0M441.9 197.9h1.0M442.4 228.4h1.0M464.5 226.2h1.0M433.8 195.0h1.0M426.7 217.8h1.0M453.1 214.4h1.0M448.1 207.4h1.0M471.2 187.9h1.0M437.3 214.5h1.0M448.4 206.2h1.0M429.4 202.1h1.0M438.5 214.0h1.0M440.3 211.9h1.0M438.2 211.1h1.0M452.4 203.4h1.0M449.2 208.5h1.0M443.3 226.2h1.0M476.9 201.2h1.0M431.8 212.5h1.0M427.2 193.2h1.0M433.9 209.5h1.0M446.9 204.0h1.0M454.8 194.3h1.0M434.9 210.2h1.0M422.8 219.4h1.0M452.8 213.6h1.0M460.4 208.4h1.0M437.1 204.1h1.0M422.5 205.8h1.0M441.8 219.4h1.0M447.8 195.1h1.0M443.7 195.6h1.0M420.6 219.1h1.0M428.5 206.3h1.0M464.7 206.5h1.0M430.4 206.9h1.0M456.0 216.2h1.0M468.2 188.8h1.0M431.1 207.5h1.0M440.2 198.3h1.0M431.1 195.4h1.0M422.2 210.9h1.0M438.9 206.5h1.0M434.2 226.3h1.0M456.3 207.6h1.0M437.2 202.7h1.0M454.6 197.8h1.0M450.1 204.4h1.0M455.2 210.5h1.0M447.6 203.6h1.0M455.6 193.0h1.0M434.4 205.4h1.0M443.2 198.5h1.0M475.2 189.9h1.0M423.8 196.9h1.0M442.9 201.1h1.0M432.8 208.7h1.0M469.3 206.2h1.0M438.3 207.9h1.0M421.6 195.1h1.0M448.8 214.6h1.0M457.6 202.2h1.0M449.8 208.6h1.0M468.3 223.3h1.0M472.2 197.7h1.0M462.0 213.2h1.0M434.5 190.2h1.0M458.4 192.8h1.0M442.5 212.8h1.0M431.5 190.1h1.0M426.3 200.0h1.0M442.9 201.6h1.0M456.3 196.7h1.0M455.4 185.7h1.0M433.0 228.1h1.0M439.8 189.2h1.0M456.4 200.2h1.0M465.2 197.1h1.0M435.6 189.5h1.0M479.1 204.9h1.0M443.1 215.7h1.0M454.1 195.6h1.0M429.5 222.3h1.0M434.5 209.1h1.0M440.1 209.5h1.0M435.4 225.1h1.0M469.9 208.1h1.0M468.7 224.8h1.0M449.8 197.8h1.0M449.7 190.0h1.0M448.3 222.1h1.0M456.9 208.8h1.0M430.5 228.1h1.0M455.9 200.7h1.0M455.8 226.6h1.0M445.6 194.1h1.0M478.3 203.5h1.0M465.3 192.3h1.0M454.7 186.2h1.0M463.2 206.2h1.0M456.3 214.4h1.0M423.6 198.0h1.0M427.5 221.3h1.0M471.3 188.8h1.0M451.6 208.0h1.0M444.4 210.4h1.0M432.8 193.8h1.0M470.9 202.7h1.0M464.5 192.3h1.0M454.2 225.9h1.0M448.1 225.1h1.0M426.9 197.7h1.0M424.3 216.7h1.0M442.7 198.7h1.0M462.8 218.4h1.0M454.1 197.8h1.0M464.8 212.5h1.0M443.0 200.3h1.0M449.3 201.9h1.0M460.5 209.7h1.0M477.7 192.7h1.0M433.9 215.0h1.0M440.5 206.1h1.0M460.4 206.0h1.0M467.3 188.4h1.0M429.4 219.5h1.0M446.2 202.2h1.0M463.5 201.9h1.0M478.4 202.2h1.0M439.1 216.0h1.0M458.9 200.4h1.0M464.7 198.6h1.0M458.8 200.8h1.0M430.1 206.8h1.0M452.5 204.6h1.0M460.9 194.1h1.0M459.7 200.7h1.0M444.3 212.9h1.0M457.5 196.9h1.0M439.8 214.9h1.0M450.5 197.8h1.0M446.2 213.2h1.0M443.8 204.9h1.0M417.0 216.0h1.0M433.5 203.6h1.0M446.6 197.2h1.0M427.5 208.5h1.0M446.7 200.7h1.0M426.2 192.1h1.0M436.3 210.0h1.0M444.8 205.6h1.0M455.2 192.6h1.0M424.3 201.4h1.0M476.7 215.2h1.0M449.2 217.9h1.0M479.5 208.8h1.0M430.6 190.2h1.0M436.9 204.5h1.0M472.0 204.1h1.0M468.2 198.0h1.0M427.7 197.0h1.0M433.9 192.8h1.0M427.3 199.0h1.0M441.8 191.3h1.0M453.4 198.1h1.0M449.2 190.1h1.0M474.2 209.0h1.0M458.6 190.2h1.0M453.2 188.7h1.0M446.3 198.6h1.0M473.2 196.9h1.0M459.6 218.2h1.0M445.7 209.5h1.0M453.8 193.4h1.0M443.6 204.5h1.0M469.7 196.9h1.0M450.9 208.0h1.0M468.7 197.9h1.0M436.6 198.2h1.0M473.6 203.6h1.0M453.4 192.1h1.0M469.7 199.6h1.0M428.7 206.7h1.0M446.8 194.6h1.0M419.8 215.1h1.0M422.5 201.3h1.0M448.5 213.9h1.0M478.5 200.6h1.0M430.9 192.6h1.0M432.8 197.1h1.0M453.5 195.4h1.0M426.3 200.4h1.0M460.4 211.7h1.0M457.6 197.3h1.0M446.2 207.4h1.0M441.5 204.1h1.0M430.8 199.7h1.0M428.7 210.2h1.0M432.6 207.3h1.0M429.9 190.5h1.0M422.5 205.6h1.0M432.4 231.8h1.0M440.4 198.8h1.0M423.5 228.8h1.0M428.4 206.5h1.0M444.3 211.5h1.0M426.7 199.1h1.0M425.1 218.3h1.0M460.1 207.3h1.0M450.3 208.2h1.0M461.9 215.3h1.0M430.1 209.6h1.0M438.1 227.0h1.0M453.7 211.5h1.0M442.5 207.7h1.0M462.0 216.6h1.0M471.8 207.9h1.0M420.8 203.2h1.0M429.8 196.7h1.0M456.3 207.9h1.0M467.8 213.1h1.0M466.9 202.4h1.0M451.4 208.2h1.0M450.0 187.4h1.0M439.9 227.6h1.0M452.6 208.0h1.0M440.0 193.6h1.0M437.0 207.3h1.0M463.8 203.0h1.0M437.0 202.4h1.0M455.6 191.2h1.0M432.1 206.8h1.0M432.2 207.4h1.0M425.9 198.5h1.0M450.2 219.4h1.0M426.5 201.7h1.0M438.8 205.4h1.0M448.8 203.6h1.0M471.1 190.9h1.0M424.2 195.3h1.0M421.3 217.7h1.0M454.7 197.3h1.0M426.0 221.7h1.0M451.5 190.9h1.0M434.1 208.2h1.0M440.6 205.1h1.0M458.6 224.5h1.0M430.3 202.7h1.0M441.3 217.6h1.0M451.1 212.5h1.0M474.1 211.7h1.0M457.0 205.9h1.0M427.7 194.2h1.0M440.7 217.2h1.0M416.4 215.7h1.0M424.9 224.3h1.0M455.1 212.1h1.0M474.6 214.3h1.0M453.1 211.6h1.0M458.7 191.9h1.0M437.9 224.7h1.0M465.3 201.9h1.0M444.9 194.2h1.0M456.3 203.8h1.0M471.7 190.3h1.0M456.8 195.4h1.0M448.5 204.4h1.0M456.2 216.8h1.0M444.3 194.8h1.0M430.3 215.6h1.0M446.0 198.9h1.0M437.7 232.4h1.0M448.5 204.4h1.0M428.3 199.9h1.0M478.7 195.3h1.0M456.2 200.8h1.0M468.0 198.2h1.0M424.0 210.6h1.0M425.5 202.5h1.0M429.8 205.2h1.0M431.5 211.5h1.0M468.8 212.8h1.0M422.9 212.9h1.0M455.5 210.1h1.0M437.6 195.3h1.0M472.6 207.2h1.0M456.9 188.2h1.0M444.5 205.3h1.0M461.7 190.6h1.0M432.1 204.2h1.0M439.1 213.5h1.0M435.3 200.3h1.0M423.0 197.7h1.0M457.6 184.5h1.0M473.9 218.4h1.0M436.0 200.7h1.0M418.4 203.8h1.0M457.5 189.0h1.0M430.7 215.1h1.0M451.1 198.3h1.0M457.8 207.3h1.0M436.8 216.1h1.0M436.3 213.2h1.0M454.4 186.7h1.0M460.2 190.2h1.0M424.9 203.0h1.0M429.7 209.7h1.0M420.4 217.1h1.0M461.6 205.6h1.0M467.0 210.0h1.0M424.6 204.5h1.0M454.8 203.3h1.0M452.6 218.6h1.0M457.7 194.2h1.0M456.3 217.6h1.0M426.6 229.8h1.0M445.6 205.7h1.0M421.6 201.8h1.0M438.8 228.4h1.0M428.1 196.7h1.0M431.6 209.5h1.0M425.9 208.0h1.0M423.6 197.6h1.0M431.7 225.9h1.0M462.4 189.3h1.0M468.5 195.5h1.0M460.6 204.3h1.0M435.0 211.3h1.0M437.8 199.8h1.0M428.6 219.7h1.0M426.5 212.9h1.0M443.5 216.2h1.0M449.9 217.8h1.0M465.6 208.3h1.0M462.7 200.4h1.0M430.4 194.3h1.0M443.8 194.7h1.0M450.2 209.9h1.0M459.5 194.3h1.0M450.3 213.1h1.0M458.4 202.8h1.0M462.2 221.8h1.0M441.3 209.9h1.0M461.9 217.1h1.0M470.3 194.0h1.0M435.9 197.7h1.0M460.3 192.8h1.0M480.1 209.2h1.0M478.9 207.2h1.0M433.4 197.5h1.0M433.0 200.2h1.0M446.5 203.0h1.0M417.4 206.3h1.0M439.6 211.1h1.0M465.1 205.2h1.0M441.4 192.2h1.0M444.4 200.0h1.0M422.4 215.2h1.0M436.3 215.9h1.0M452.0 213.0h1.0M464.2 205.8h1.0M464.4 225.6h1.0M431.8 231.1h1.0M437.0 225.0h1.0M417.4 216.5h1.0M439.2 199.9h1.0M430.6 211.8h1.0M437.2 213.3h1.0M429.3 195.8h1.0M465.4 201.7h1.0M425.0 202.9h1.0M428.6 227.3h1.0M447.5 207.3h1.0M466.0 185.6h1.0M447.8 219.6h1.0M434.4 215.0h1.0M446.0 188.3h1.0M457.2 205.9h1.0M465.3 204.7h1.0M457.2 202.5h1.0M448.7 220.2h1.0M467.8 188.8h1.0M424.6 205.3h1.0M460.1 228.2h1.0M441.0 206.1h1.0M439.3 204.2h1.0M469.6 211.7h1.0M439.5 201.4h1.0M430.1 205.0h1.0M435.8 204.5h1.0M477.1 215.1h1.0M436.0 207.4h1.0M448.0 198.8h1.0M450.9 208.0h1.0M419.0 216.8h1.0M437.8 222.6h1.0M448.2 211.7h1.0M438.2 200.1h1.0M451.1 213.6h1.0M450.7 192.2h1.0M466.3 209.1h1.0M437.6 209.5h1.0M470.4 195.6h1.0M423.1 210.6h1.0M450.7 204.4h1.0M453.4 185.9h1.0M444.9 214.4h1.0M440.7 194.5h1.0M424.9 203.6h1.0M451.6 211.7h1.0M464.6 214.9h1.0M458.1 192.9h1.0M459.7 197.6h1.0M421.7 195.2h1.0M449.7 208.5h1.0M449.8 210.6h1.0M472.6 215.9h1.0M437.2 228.5h1.0M429.3 225.6h1.0M462.8 207.2h1.0M468.9 213.1h1.0M420.1 201.4h1.0M478.0 193.5h1.0M433.9 216.3h1.0M444.5 202.3h1.0M473.9 196.4h1.0M457.2 225.3h1.0M449.0 195.4h1.0M429.9 198.0h1.0M454.6 203.1h1.0M463.7 205.0h1.0M429.4 202.8h1.0M434.0 189.6h1.0M430.8 214.8h1.0M449.5 201.3h1.0M422.1 212.0h1.0M460.4 215.0h1.0M465.9 185.1h1.0M426.8 199.1h1.0M445.5 202.2h1.0M466.8 202.0h1.0M456.6 208.5h1.0M445.2 188.4h1.0M433.4 226.2h1.0M421.3 211.6h1.0M446.9 196.8h1.0M454.3 187.3h1.0M460.8 210.2h1.0M443.5 212.7h1.0M463.9 215.5h1.0M458.9 193.2h1.0M460.8 207.3h1.0M430.4 190.2h1.0M454.1 221.0h1.0M432.4 197.8h1.0M456.1 206.7h1.0M474.0 203.2h1.0M442.3 225.1h1.0M444.4 206.7h1.0M480.0 198.0h1.0M428.2 211.5h1.0M447.0 197.2h1.0M459.1 201.9h1.0M475.3 205.3h1.0M451.0 202.1h1.0M427.0 212.6h1.0M436.1 204.6h1.0M458.4 199.2h1.0M418.1 200.5h1.0M439.4 222.1h1.0M445.9 209.7h1.0M436.5 196.7h1.0M442.4 188.3h1.0M442.3 205.5h1.0M440.5 196.8h1.0M447.8 191.5h1.0M445.6 201.0h1.0M447.7 209.0h1.0M464.4 188.1h1.0M444.2 218.4h1.0M438.4 208.4h1.0M425.7 210.5h1.0M433.9 210.0h1.0M466.7 190.3h1.0M466.0 197.0h1.0M457.3 211.0h1.0M461.5 218.3h1.0M441.9 202.4h1.0M445.7 202.9h1.0M435.1 189.4h1.0M445.7 194.0h1.0M441.1 195.0h1.0M451.7 229.3h1.0M447.0 214.6h1.0M455.4 202.5h1.0M460.2 210.9h1.0M464.4 199.2h1.0M419.7 218.6h1.0M446.7 212.2h1.0M426.9 200.9h1.0M434.8 201.1h1.0M437.1 201.1h1.0M445.4 208.1h1.0M423.6 201.5h1.0M449.9 216.2h1.0M430.6 202.0h1.0M423.8 205.7h1.0M436.6 210.1h1.0M479.1 199.0h1.0M475.7 199.5h1.0M447.6 211.1h1.0M462.2 187.6h1.0M465.7 193.1h1.0M467.1 202.3h1.0M426.3 203.9h1.0M430.5 218.3h1.0M463.5 198.3h1.0M417.6 206.2h1.0M424.3 202.2h1.0M419.7 222.2h1.0M432.0 200.2h1.0M430.4 189.3h1.0M454.4 202.8h1.0M428.3 208.2h1.0M465.3 200.5h1.0M419.0 206.0h1.0M425.4 204.2h1.0M446.9 195.2h1.0M444.7 220.4h1.0M457.8 203.2h1.0M423.9 206.0h1.0M439.1 193.9h1.0M419.5 208.1h1.0M429.9 231.3h1.0M418.1 205.7h1.0" stroke="#0404dc" stroke-opacity="0.9"/><path d="M440.8 223.7h1.0M435.1 207.6h1.0M429.5 218.8h1.0M434.1 211.4h1.0M441.5 225.5h1.0M463.8 212.0h1.0M444.3 204.6h1.0M431.9 205.6h1.0M428.7 224.5h1.0M432.8 216.1h1.0M450.5 194.6h1.0M463.8 209.9h1.0M458.2 225.0h1.0M457.5 223.3h1.0M433.9 219.3h1.0M467.4 208.8h1.0M479.8 197.2h1.0M434.9 218.3h1.0M464.1 215.5h1.0M429.9 212.5h1.0M457.8 214.6h1.0M451.9 199.5h1.0M438.9 219.8h1.0M450.1 221.1h1.0M431.9 211.9h1.0M455.0 220.2h1.0M447.1 200.4h1.0M450.3 225.2h1.0M459.2 218.1h1.0M445.4 198.8h1.0M463.6 204.6h1.0M454.0 201.8h1.0M433.9 220.1h1.0M464.7 212.0h1.0M426.9 211.0h1.0M450.1 197.8h1.0M429.0 205.0h1.0M455.9 203.5h1.0M456.4 225.1h1.0M447.7 220.2h1.0M440.0 220.6h1.0M461.9 211.3h1.0M430.5 200.7h1.0M443.3 223.6h1.0M427.8 205.3h1.0M425.5 209.4h1.0M459.7 203.6h1.0M421.0 219.5h1.0M457.8 192.4h1.0M436.2 213.3h1.0M427.2 207.1h1.0M422.8 202.8h1.0M440.9 200.1h1.0M457.3 186.3h1.0M460.7 193.0h1.0M442.7 217.6h1.0M441.0 222.5h1.0M435.2 206.7h1.0M439.1 214.8h1.0M448.0 198.2h1.0M441.6 203.6h1.0M424.4 211.9h1.0M467.7 205.9h1.0M456.6 222.5h1.0M437.3 206.1h1.0M470.9 204.1h1.0M465.2 212.0h1.0M427.4 201.1h1.0M436.5 200.5h1.0M422.6 220.7h1.0M455.0 197.0h1.0M459.4 205.4h1.0M452.9 224.5h1.0M436.1 207.1h1.0M463.3 191.9h1.0M449.8 220.0h1.0M450.4 196.0h1.0M438.3 224.6h1.0M442.3 204.8h1.0M460.8 216.9h1.0M459.0 191.7h1.0M449.0 199.5h1.0M357.0 226.1h1.0M357.2 218.1h1.0M356.9 229.7h1.0" stroke="#1a8cff" stroke-opacity="0.95"/><path d="M447.3 217.6h1.0M467.1 204.2h1.0M444.4 213.8h1.0M453.4 206.3h1.0M443.9 223.1h1.0M435.8 219.4h1.0M433.2 220.6h1.0M440.0 219.0h1.0M445.8 218.7h1.0M452.2 201.5h1.0M439.5 213.0h1.0M438.9 204.7h1.0M428.4 216.6h1.0M454.5 209.6h1.0M435.3 211.3h1.0M446.6 218.4h1.0M452.7 203.7h1.0M440.1 203.3h1.0M456.4 222.0h1.0M453.3 209.4h1.0M452.4 216.5h1.0M449.1 218.7h1.0M434.9 200.9h1.0M462.5 208.4h1.0M459.5 211.5h1.0M451.9 205.8h1.0M472.1 216.8h1.0M456.7 219.1h1.0M442.4 212.4h1.0M448.1 217.5h1.0M433.5 209.0h1.0M448.3 219.0h1.0M433.4 226.2h1.0M452.1 217.2h1.0M461.7 209.4h1.0M464.9 208.1h1.0M462.4 194.4h1.0M454.4 201.7h1.0M436.7 208.0h1.0M460.2 212.9h1.0M461.5 210.5h1.0M447.4 205.8h1.0M452.1 205.4h1.0M446.8 221.8h1.0M441.9 202.9h1.0M441.0 213.0h1.0M452.4 222.4h1.0M441.8 210.9h1.0M437.0 215.2h1.0M435.3 200.9h1.0M457.1 217.2h1.0M443.5 210.1h1.0M431.9 211.9h1.0M451.3 216.2h1.0M453.6 202.9h1.0M439.0 206.3h1.0M462.8 208.6h1.0M463.4 206.0h1.0M444.2 220.6h1.0M429.8 210.1h1.0M463.2 203.6h1.0M443.3 205.7h1.0M433.3 208.6h1.0M449.0 216.3h1.0M455.2 213.6h1.0M460.4 225.1h1.0M456.5 216.8h1.0M440.1 213.7h1.0M455.5 205.2h1.0M465.8 206.9h1.0M441.1 208.3h1.0M426.5 212.9h1.0M435.1 211.5h1.0M446.8 224.0h1.0M462.4 212.8h1.0M442.4 208.4h1.0M449.6 208.7h1.0M439.5 195.9h1.0M460.7 220.6h1.0M441.5 203.7h1.0M438.9 225.8h1.0M455.6 207.3h1.0M448.2 226.8h1.0M455.9 219.3h1.0M455.9 221.5h1.0M444.6 225.7h1.0M433.3 214.0h1.0M446.3 207.5h1.0M475.8 201.4h1.0M452.3 223.6h1.0M448.2 203.1h1.0M446.6 205.9h1.0M455.4 208.3h1.0M458.4 203.5h1.0" stroke="#18d8c0" stroke-opacity="0.95"/><path d="M450.7 208.3h1.0M440.8 216.6h1.0M458.4 211.4h1.0M448.0 217.1h1.0M448.6 221.7h1.0M433.5 212.9h1.0M473.0 211.0h1.0M454.0 209.7h1.0M444.3 214.3h1.0M451.8 211.0h1.0M444.2 206.9h1.0M442.3 215.9h1.0M450.8 208.9h1.0M457.2 212.4h1.0M457.9 201.8h1.0M448.3 211.8h1.0M455.7 210.3h1.0M450.6 202.1h1.0M448.0 202.5h1.0M454.2 204.3h1.0M440.9 211.7h1.0M456.5 209.8h1.0M444.8 217.7h1.0M459.6 209.4h1.0M456.7 209.2h1.0M447.1 221.1h1.0M456.2 212.7h1.0M442.8 213.5h1.0M452.7 220.9h1.0M446.5 214.6h1.0M440.4 210.4h1.0M463.4 210.6h1.0M459.7 205.3h1.0M448.8 216.7h1.0M450.4 206.8h1.0M442.1 211.4h1.0M441.4 214.6h1.0M439.8 216.2h1.0M452.0 217.3h1.0M447.4 209.2h1.0M472.8 207.1h1.0M453.0 208.3h1.0M432.6 215.7h1.0M447.4 215.6h1.0M452.1 207.5h1.0M455.3 212.1h1.0M439.8 216.0h1.0M445.4 217.4h1.0M442.0 203.6h1.0M430.5 213.5h1.0M440.4 210.3h1.0M448.5 213.2h1.0M447.1 202.3h1.0M441.4 209.0h1.0M445.3 211.1h1.0M449.2 207.1h1.0M449.3 222.0h1.0M462.5 199.4h1.0M454.8 210.1h1.0M454.4 218.2h1.0M450.3 202.7h1.0M457.4 202.7h1.0M441.8 213.4h1.0M454.6 217.1h1.0M461.4 210.4h1.0M459.8 209.4h1.0M434.4 210.6h1.0M440.6 204.2h1.0M460.7 205.2h1.0M452.2 209.2h1.0M461.9 205.1h1.0M462.2 205.3h1.0M448.2 211.6h1.0M443.3 215.7h1.0M454.8 204.9h1.0M453.0 208.4h1.0M456.4 209.9h1.0M448.1 210.4h1.0M461.5 214.7h1.0M463.0 216.4h1.0M448.1 206.2h1.0M454.6 203.5h1.0M443.7 220.4h1.0M446.0 205.0h1.0M447.0 213.0h1.0M453.5 209.5h1.0M441.9 205.7h1.0M436.4 209.8h1.0M445.2 204.3h1.0M465.5 206.1h1.0M450.8 209.4h1.0M447.1 212.4h1.0M450.2 208.6h1.0M439.2 207.0h1.0M446.8 213.0h1.0M450.4 207.4h1.0M447.2 217.5h1.0M448.7 214.5h1.0M448.7 205.9h1.0M450.5 205.7h1.0M448.6 210.2h1.0M445.9 221.0h1.0M441.4 209.0h1.0M453.7 212.8h1.0M462.2 215.8h1.0M448.6 217.2h1.0M430.8 214.4h1.0M453.2 218.3h1.0M441.2 216.8h1.0M462.4 217.7h1.0M450.5 211.9h1.0M456.0 208.3h1.0M444.6 209.1h1.0M446.0 213.9h1.0M442.5 213.6h1.0M442.9 214.0h1.0M453.6 218.6h1.0M448.1 209.3h1.0M462.5 200.2h1.0M442.3 213.6h1.0M462.8 210.7h1.0M454.4 216.5h1.0M455.7 217.9h1.0M440.9 216.9h1.0M448.6 214.5h1.0M456.3 211.9h1.0M459.0 206.4h1.0M451.4 211.8h1.0M451.2 197.6h1.0M443.2 202.2h1.0M457.1 195.3h1.0M445.2 204.9h1.0M449.9 211.1h1.0M438.6 199.6h1.0M458.9 204.3h1.0M447.2 211.7h1.0M451.9 214.2h1.0M459.5 203.2h1.0M448.0 206.7h1.0M466.1 218.6h1.0M457.0 220.4h1.0M437.0 216.5h1.0M446.3 215.3h1.0M425.0 214.5h1.0M449.7 220.0h1.0M449.0 202.7h1.0M467.9 206.1h1.0M441.6 220.2h1.0M427.7 209.8h1.0M450.9 196.9h1.0M454.0 206.1h1.0M435.0 205.9h1.0M465.6 215.8h1.0M451.1 200.9h1.0M448.1 204.5h1.0M446.9 207.3h1.0M433.7 215.4h1.0M463.0 216.5h1.0M447.2 210.6h1.0M468.7 212.1h1.0M449.2 205.0h1.0M440.6 220.3h1.0M446.2 226.4h1.0M447.8 201.4h1.0M449.4 205.0h1.0M444.8 211.3h1.0M440.2 215.7h1.0M456.2 218.1h1.0M466.3 201.9h1.0M461.5 209.3h1.0M457.8 204.7h1.0M452.2 216.3h1.0M471.0 217.2h1.0M443.0 211.6h1.0M454.5 205.4h1.0M453.6 209.0h1.0M448.1 203.0h1.0M447.7 216.3h1.0M448.5 215.2h1.0M455.4 217.3h1.0M451.9 194.0h1.0M446.6 195.3h1.0M357.2 233.8h1.0M357.2 217.8h1.0M357.2 198.6h1.0M357.2 214.9h1.0M357.1 230.3h1.0M356.8 247.2h1.0" stroke="#30e040" stroke-opacity="0.95"/><path d="M445.0 218.2h1.0M442.4 216.7h1.0M438.5 209.1h1.0M443.3 207.5h1.0M449.2 209.2h1.0M452.3 212.8h1.0M462.8 206.9h1.0M457.4 205.9h1.0M451.1 215.2h1.0M451.9 204.2h1.0M451.3 208.8h1.0M448.6 215.7h1.0M442.6 213.9h1.0M443.5 214.5h1.0M458.2 209.8h1.0M452.2 214.7h1.0M446.6 217.8h1.0M456.4 213.4h1.0M444.3 215.3h1.0M452.4 204.1h1.0M459.3 201.8h1.0M455.6 217.4h1.0M441.5 213.8h1.0M446.5 206.3h1.0M453.1 207.8h1.0M448.3 215.5h1.0M453.7 217.1h1.0M459.5 207.6h1.0M457.0 210.4h1.0M447.5 206.8h1.0M452.9 210.4h1.0M457.3 211.6h1.0M452.5 216.0h1.0M445.6 213.8h1.0M445.3 212.8h1.0M451.0 212.9h1.0M440.1 217.7h1.0M446.5 207.1h1.0M448.5 209.2h1.0M450.2 206.6h1.0M450.0 207.7h1.0M443.0 214.5h1.0M447.3 217.2h1.0M452.3 205.8h1.0M449.6 210.3h1.0M443.5 212.9h1.0M449.0 205.1h1.0M449.0 208.8h1.0M451.7 211.6h1.0M460.9 208.1h1.0M444.4 211.3h1.0M442.8 218.0h1.0M455.3 212.6h1.0M439.3 209.4h1.0M450.2 215.8h1.0M454.0 210.6h1.0M444.5 211.2h1.0M457.6 215.2h1.0M457.6 205.0h1.0M455.8 211.9h1.0M443.1 211.2h1.0M450.9 211.2h1.0M442.3 207.0h1.0M450.3 211.0h1.0M454.1 211.4h1.0" stroke="#e8e820" stroke-opacity="0.95"/><path d="M445.1 215.5h1.0M453.6 206.3h1.0M455.4 210.0h1.0M450.5 208.7h1.0M445.6 211.2h1.0M446.6 211.3h1.0M451.9 213.0h1.0M449.6 207.1h1.0M443.4 212.9h1.0M450.6 210.7h1.0M445.1 214.8h1.0" stroke="#ff9010" stroke-opacity="0.95"/><path d="M451.7 210.0h1.0" stroke="#f02010" stroke-opacity="0.95"/></g>
<g fill="none" stroke="#ff3cf0" stroke-width="1.15" stroke-linejoin="round">
<path d="M174.5 104.6 L85.4 105.4 L71.5 246 L70.9 248.2 L68.3 253.6"/>
<path d="M332 104.8 L239 105.6 L225.2 246 L224.6 248.2 L222 253.6 M349.6 103.2 V110"/>
<path d="M492.7 104.6 L393.4 105.4 L379.3 246 L378.7 248.2 L376.1 253.6"/>
</g>
<g fill="none" stroke="#ff6af5" stroke-width="1.55" stroke-linejoin="miter">
<path d="M68.6 253.6 H194.95 V124.5"/>
<path d="M222.3 253.85 H349.1 V126.5"/>
<path d="M376.4 253.85 H503.75 V103.6" stroke-width="1.8"/>
</g>
<g fill="none" stroke="#3a3a3a" stroke-width="1.1">
<rect x="43.4" y="101.85" width="153.2" height="153.1"/>
<rect x="197.3" y="102.35" width="153.6" height="153.2"/>
<path d="M505.1 101.7 H351.45 V255.4 H505.1"/><path d="M505.1 101.2 V255.9" stroke="#8a8a8a"/>
</g>
<g font-size="20" stroke="#000" stroke-width="0.75" style="vector-effect:non-scaling-stroke">
<text transform="translate(32.3 230.5) rotate(-90) scale(0.60 1)" x="0" y="0" vector-effect="non-scaling-stroke">SSC</text>
<text transform="translate(65.2 278.7) scale(0.64 1)" x="0" y="0" vector-effect="non-scaling-stroke">GFP</text>
</g>
<path d="M25.9 246 V272 H50" fill="none" stroke="#000" stroke-width="1.5"/>
<path d="M25.9 237.8 L31.1 249.4 L25.9 246.4 L20.7 249.4 Z"/>
<path d="M58.4 272 L46.8 277.2 L49.8 272 L46.8 266.8 Z"/>
<rect x="128.80" y="398.32" width="8" height="203.68" fill="#12508a"/>
<rect x="141.30" y="398.32" width="8" height="203.68" fill="#c8102e"/>
<rect x="161.77" y="404.83" width="8" height="197.17" fill="#12508a"/>
<rect x="174.27" y="402.66" width="8" height="199.34" fill="#c8102e"/>
<rect x="194.74" y="402.66" width="8" height="199.34" fill="#12508a"/>
<rect x="207.24" y="400.49" width="8" height="201.51" fill="#c8102e"/>
<rect x="227.71" y="404.83" width="8" height="197.17" fill="#12508a"/>
<rect x="240.21" y="404.83" width="8" height="197.17" fill="#c8102e"/>
<rect x="260.68" y="404.83" width="8" height="197.17" fill="#12508a"/>
<rect x="273.18" y="404.83" width="8" height="197.17" fill="#c8102e"/>
<rect x="293.65" y="407.00" width="8" height="195.00" fill="#12508a"/>
<rect x="306.15" y="407.00" width="8" height="195.00" fill="#c8102e"/>
<rect x="326.62" y="407.00" width="8" height="195.00" fill="#12508a"/>
<rect x="339.12" y="404.83" width="8" height="197.17" fill="#c8102e"/>
<rect x="359.59" y="404.83" width="8" height="197.17" fill="#12508a"/>
<rect x="372.09" y="404.83" width="8" height="197.17" fill="#c8102e"/>
<rect x="392.56" y="407.00" width="8" height="195.00" fill="#12508a"/>
<rect x="405.06" y="407.00" width="8" height="195.00" fill="#c8102e"/>
<rect x="425.53" y="407.00" width="8" height="195.00" fill="#12508a"/>
<rect x="438.03" y="404.83" width="8" height="197.17" fill="#c8102e"/>
<path d="M124.6 378.8 V602 M123.69999999999999 602 H450.8" fill="none" stroke="#000" stroke-width="1.85"/>
<path d="M118.1 602.00 H124.6M118.1 547.75 H124.6M118.1 493.50 H124.6M118.1 439.25 H124.6M118.1 385.00 H124.6M138.80 602 V608.5M171.77 602 V608.5M204.74 602 V608.5M237.71 602 V608.5M270.68 602 V608.5M303.65 602 V608.5M336.62 602 V608.5M369.59 602 V608.5M402.56 602 V608.5M435.53 602 V608.5" fill="none" stroke="#000" stroke-width="1.75"/>
<text id="c1_0" x="102.14" y="607.60" font-size="15.90" textLength="9.46" lengthAdjust="spacingAndGlyphs">0</text>
<text id="c1_25" x="91.87" y="553.35" font-size="15.90" textLength="19.77" lengthAdjust="spacingAndGlyphs">25</text>
<text id="c1_50" x="91.08" y="499.10" font-size="15.90" textLength="20.46" lengthAdjust="spacingAndGlyphs">50</text>
<text id="c1_75" x="93.18" y="444.85" font-size="15.90" textLength="18.42" lengthAdjust="spacingAndGlyphs">75</text>
<text id="c1_100" x="82.83" y="390.60" font-size="15.90" textLength="28.97" lengthAdjust="spacingAndGlyphs">100</text>
<rect x="163.77" y="666.98" width="8" height="201.12" fill="#12508a"/>
<rect x="176.27" y="658.31" width="8" height="209.79" fill="#c8102e"/>
<rect x="196.74" y="860.02" width="8" height="8.08" fill="#12508a"/>
<rect x="209.24" y="807.97" width="8" height="60.13" fill="#c8102e"/>
<rect x="262.68" y="660.48" width="8" height="207.62" fill="#12508a"/>
<rect x="275.18" y="656.14" width="8" height="211.96" fill="#c8102e"/>
<rect x="295.65" y="677.83" width="8" height="190.27" fill="#12508a"/>
<rect x="308.15" y="656.14" width="8" height="211.96" fill="#c8102e"/>
<rect x="328.62" y="719.04" width="8" height="149.06" fill="#12508a"/>
<rect x="341.12" y="662.65" width="8" height="205.45" fill="#c8102e"/>
<rect x="361.59" y="673.49" width="8" height="194.61" fill="#12508a"/>
<rect x="374.09" y="669.15" width="8" height="198.95" fill="#c8102e"/>
<rect x="394.56" y="673.49" width="8" height="194.61" fill="#12508a"/>
<rect x="407.06" y="664.81" width="8" height="203.29" fill="#c8102e"/>
<rect x="427.53" y="690.84" width="8" height="177.26" fill="#12508a"/>
<rect x="440.03" y="666.98" width="8" height="201.12" fill="#c8102e"/>
<path d="M126.6 645.0 V868.1 M125.69999999999999 868.1 H452.6" fill="none" stroke="#000" stroke-width="1.85"/>
<path d="M120.1 868.10 H126.6M120.1 813.88 H126.6M120.1 759.65 H126.6M120.1 705.43 H126.6M120.1 651.20 H126.6M140.80 868.1 V874.6M173.77 868.1 V874.6M206.74 868.1 V874.6M239.71 868.1 V874.6M272.68 868.1 V874.6M305.65 868.1 V874.6M338.62 868.1 V874.6M371.59 868.1 V874.6M404.56 868.1 V874.6M437.53 868.1 V874.6" fill="none" stroke="#000" stroke-width="1.75"/>
<text id="c2_0" x="103.90" y="873.70" font-size="15.90" textLength="9.46" lengthAdjust="spacingAndGlyphs">0</text>
<text id="c2_25" x="93.64" y="819.48" font-size="15.90" textLength="19.77" lengthAdjust="spacingAndGlyphs">25</text>
<text id="c2_50" x="93.05" y="765.25" font-size="15.90" textLength="20.24" lengthAdjust="spacingAndGlyphs">50</text>
<text id="c2_75" x="94.93" y="711.03" font-size="15.90" textLength="18.42" lengthAdjust="spacingAndGlyphs">75</text>
<text id="c2_100" x="84.57" y="656.80" font-size="15.90" textLength="29.24" lengthAdjust="spacingAndGlyphs">100</text>
<g font-size="20.5" stroke="#000" stroke-width="0.35">
<text transform="translate(70.75 490.4) rotate(-90) scale(0.67 1)" text-anchor="middle" vector-effect="non-scaling-stroke">% viable</text>
<text transform="translate(72.35 757.0) rotate(-90) scale(0.67 1)" text-anchor="middle" vector-effect="non-scaling-stroke">% eGFP+</text>
</g>
<rect x="208.8" y="634" width="33.2" height="10.8" fill="#12508a"/>
<rect x="294.4" y="634" width="33.8" height="10.8" fill="#c8102e"/>
<text id="r1_0" x="133.95" y="895.90" font-size="16.20" textLength="13.46" lengthAdjust="spacingAndGlyphs">C</text>
<text id="r2_0" x="133.95" y="915.90" font-size="16.20" textLength="13.46" lengthAdjust="spacingAndGlyphs">C</text>
<text id="r1_1" x="168.55" y="895.90" font-size="16.20" textLength="10.48" lengthAdjust="spacingAndGlyphs">0</text>
<text id="r2_1" x="167.59" y="918.00" font-size="21.00" textLength="12.56" lengthAdjust="spacingAndGlyphs">+</text>
<text id="r1_2" x="201.89" y="895.90" font-size="16.20" textLength="9.63" lengthAdjust="spacingAndGlyphs">5</text>
<text id="r2_2" x="200.42" y="918.00" font-size="21.00" textLength="12.56" lengthAdjust="spacingAndGlyphs">+</text>
<text id="r1_3" x="230.37" y="895.90" font-size="16.20" textLength="19.41" lengthAdjust="spacingAndGlyphs">10</text>
<text id="r2_3" x="233.47" y="918.00" font-size="21.00" textLength="12.56" lengthAdjust="spacingAndGlyphs">+</text>
<text id="r1_4" x="267.50" y="895.90" font-size="16.20" textLength="10.25" lengthAdjust="spacingAndGlyphs">0</text>
<text x="272.7" y="915.0" font-size="13" text-anchor="middle" font-weight="normal" >-</text>
<text id="r1_5" x="300.86" y="895.90" font-size="16.20" textLength="9.60" lengthAdjust="spacingAndGlyphs">5</text>
<text x="305.6" y="915.0" font-size="13" text-anchor="middle" font-weight="normal" >-</text>
<text id="r1_6" x="329.32" y="895.90" font-size="16.20" textLength="19.41" lengthAdjust="spacingAndGlyphs">10</text>
<text x="338.6" y="915.0" font-size="13" text-anchor="middle" font-weight="normal" >-</text>
<text id="r1_7" x="366.51" y="895.90" font-size="16.20" textLength="10.18" lengthAdjust="spacingAndGlyphs">0</text>
<text id="r2_7" x="365.26" y="918.00" font-size="21.00" textLength="12.56" lengthAdjust="spacingAndGlyphs">+</text>
<text id="r1_8" x="399.55" y="895.90" font-size="16.20" textLength="9.92" lengthAdjust="spacingAndGlyphs">5</text>
<text id="r2_8" x="398.33" y="918.00" font-size="21.00" textLength="12.56" lengthAdjust="spacingAndGlyphs">+</text>
<text id="r1_9" x="428.27" y="895.90" font-size="16.20" textLength="19.43" lengthAdjust="spacingAndGlyphs">10</text>
<text id="r2_9" x="431.43" y="918.00" font-size="21.00" textLength="12.26" lengthAdjust="spacingAndGlyphs">+</text>
<path d="M140.75 925.2 V936.8 H239.75 V925.2 M272.8 925.2 V936.8 H437.6 V925.2" fill="none" stroke="#000" stroke-width="1.85"/>
</svg></body></html>
